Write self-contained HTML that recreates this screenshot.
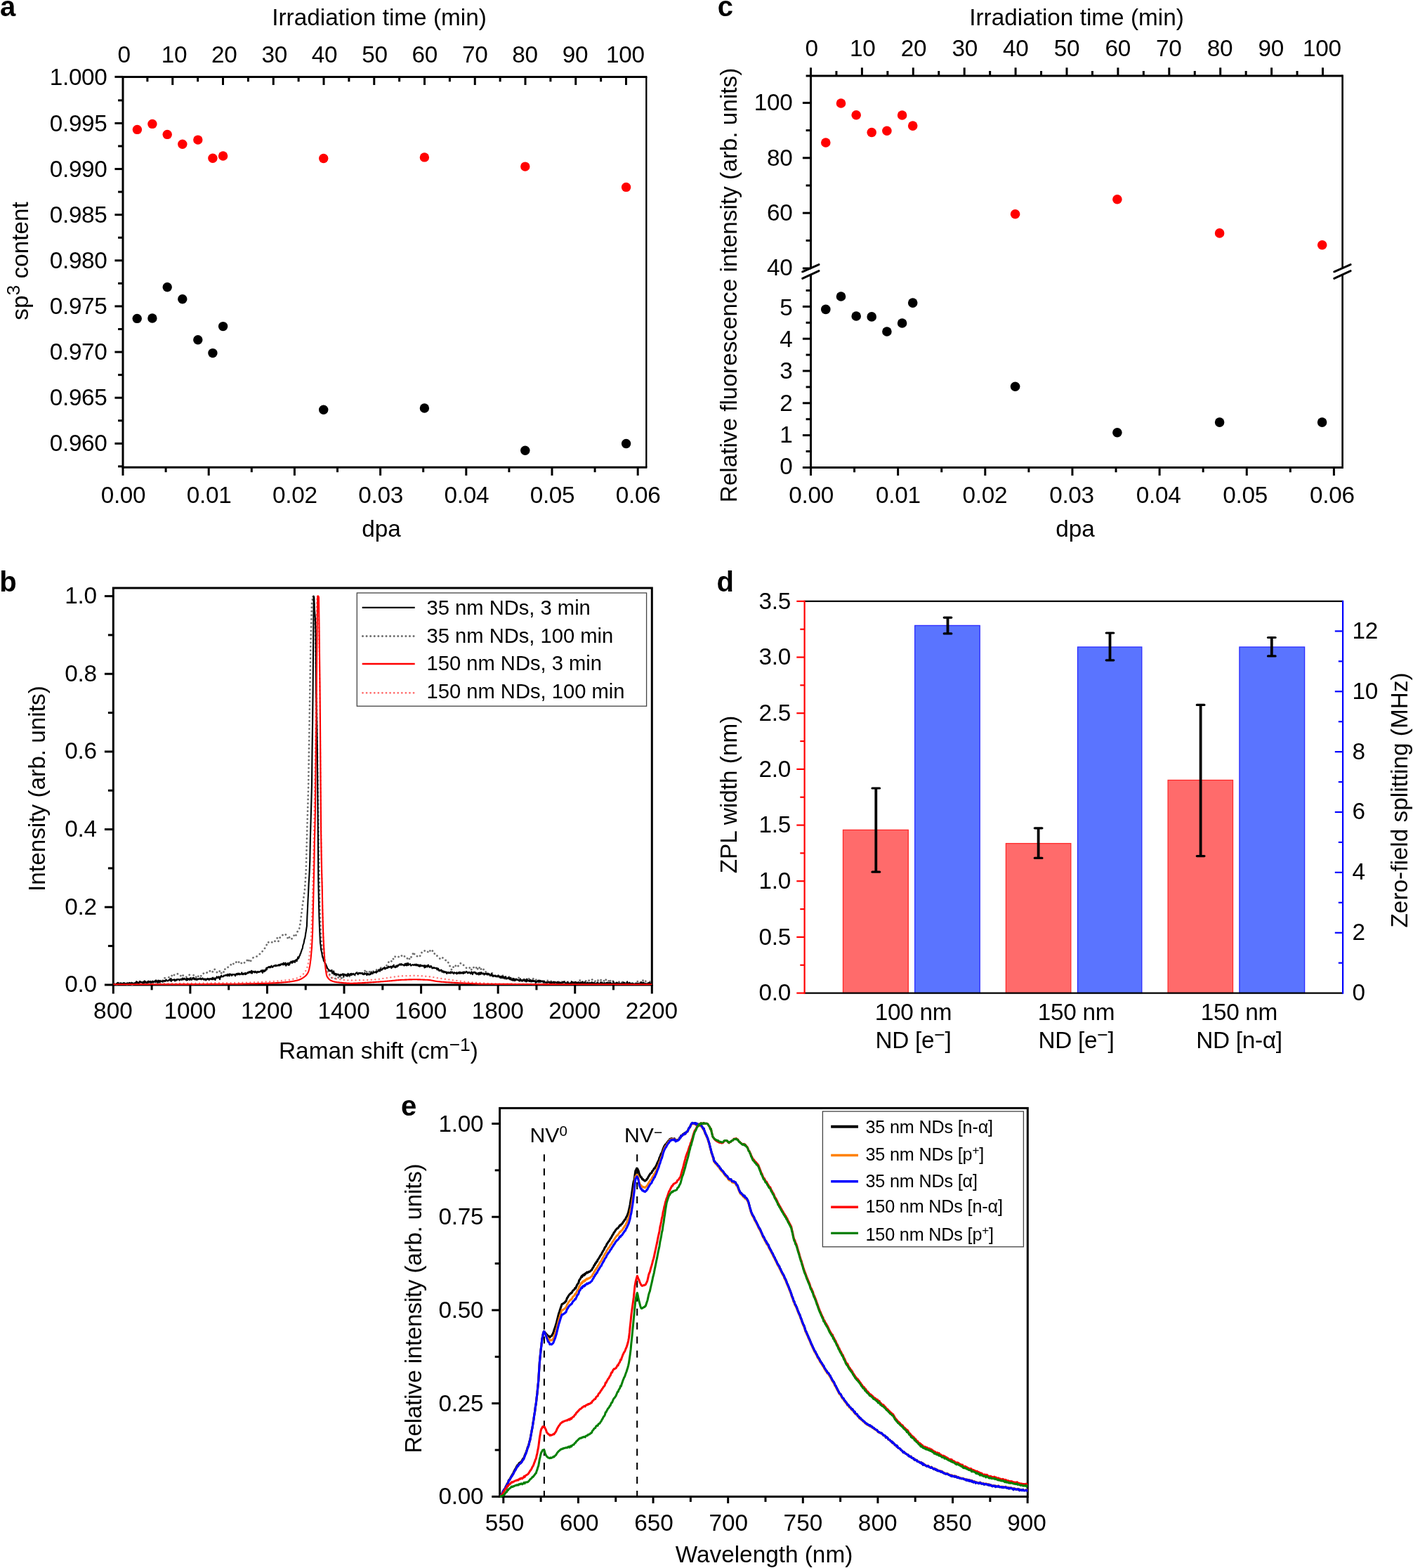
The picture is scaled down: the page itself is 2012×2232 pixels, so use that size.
<!DOCTYPE html>
<html lang="en"><head><meta charset="utf-8"><title>Nanodiamond irradiation figure</title>
<style>
html,body{margin:0;padding:0;background:#fff;}
body{width:2012px;height:2232px;overflow:hidden;}
svg{display:block;font-family:'Liberation Sans', Arial, Helvetica, sans-serif;}
</style></head><body>
<svg width="2012" height="2232" viewBox="0 0 2012 2232">
<rect x="0" y="0" width="2012" height="2232" fill="#fff"/>
<line x1="175.00" y1="107.90" x2="175.00" y2="666.80" stroke="#000" stroke-width="3" stroke-linecap="butt" />
<line x1="175.00" y1="109.40" x2="921.40" y2="109.40" stroke="#000" stroke-width="3" stroke-linecap="butt" />
<line x1="175.00" y1="665.30" x2="921.40" y2="665.30" stroke="#000" stroke-width="3" stroke-linecap="butt" />
<line x1="920.30" y1="109.40" x2="920.30" y2="665.30" stroke="#000" stroke-width="2.3" stroke-linecap="butt" />
<line x1="163.40" y1="109.40" x2="175.00" y2="109.40" stroke="#000" stroke-width="3" stroke-linecap="butt" />
<text x="152.60" y="121.40" font-size="33.33" text-anchor="end" fill="#000" letter-spacing="-0.3">1.000</text>
<line x1="168.10" y1="142.87" x2="175.00" y2="142.87" stroke="#000" stroke-width="3" stroke-linecap="butt" />
<line x1="163.40" y1="175.43" x2="175.00" y2="175.43" stroke="#000" stroke-width="3" stroke-linecap="butt" />
<text x="152.60" y="186.53" font-size="33.33" text-anchor="end" fill="#000" letter-spacing="-0.3">0.995</text>
<line x1="168.10" y1="208.00" x2="175.00" y2="208.00" stroke="#000" stroke-width="3" stroke-linecap="butt" />
<line x1="163.40" y1="240.56" x2="175.00" y2="240.56" stroke="#000" stroke-width="3" stroke-linecap="butt" />
<text x="152.60" y="251.66" font-size="33.33" text-anchor="end" fill="#000" letter-spacing="-0.3">0.990</text>
<line x1="168.10" y1="273.12" x2="175.00" y2="273.12" stroke="#000" stroke-width="3" stroke-linecap="butt" />
<line x1="163.40" y1="305.69" x2="175.00" y2="305.69" stroke="#000" stroke-width="3" stroke-linecap="butt" />
<text x="152.60" y="316.79" font-size="33.33" text-anchor="end" fill="#000" letter-spacing="-0.3">0.985</text>
<line x1="168.10" y1="338.25" x2="175.00" y2="338.25" stroke="#000" stroke-width="3" stroke-linecap="butt" />
<line x1="163.40" y1="370.82" x2="175.00" y2="370.82" stroke="#000" stroke-width="3" stroke-linecap="butt" />
<text x="152.60" y="381.92" font-size="33.33" text-anchor="end" fill="#000" letter-spacing="-0.3">0.980</text>
<line x1="168.10" y1="403.38" x2="175.00" y2="403.38" stroke="#000" stroke-width="3" stroke-linecap="butt" />
<line x1="163.40" y1="435.95" x2="175.00" y2="435.95" stroke="#000" stroke-width="3" stroke-linecap="butt" />
<text x="152.60" y="447.05" font-size="33.33" text-anchor="end" fill="#000" letter-spacing="-0.3">0.975</text>
<line x1="168.10" y1="468.51" x2="175.00" y2="468.51" stroke="#000" stroke-width="3" stroke-linecap="butt" />
<line x1="163.40" y1="501.08" x2="175.00" y2="501.08" stroke="#000" stroke-width="3" stroke-linecap="butt" />
<text x="152.60" y="512.18" font-size="33.33" text-anchor="end" fill="#000" letter-spacing="-0.3">0.970</text>
<line x1="168.10" y1="533.64" x2="175.00" y2="533.64" stroke="#000" stroke-width="3" stroke-linecap="butt" />
<line x1="163.40" y1="566.21" x2="175.00" y2="566.21" stroke="#000" stroke-width="3" stroke-linecap="butt" />
<text x="152.60" y="577.31" font-size="33.33" text-anchor="end" fill="#000" letter-spacing="-0.3">0.965</text>
<line x1="168.10" y1="598.77" x2="175.00" y2="598.77" stroke="#000" stroke-width="3" stroke-linecap="butt" />
<line x1="163.40" y1="631.34" x2="175.00" y2="631.34" stroke="#000" stroke-width="3" stroke-linecap="butt" />
<text x="152.60" y="642.44" font-size="33.33" text-anchor="end" fill="#000" letter-spacing="-0.3">0.960</text>
<line x1="168.10" y1="663.90" x2="175.00" y2="663.90" stroke="#000" stroke-width="3" stroke-linecap="butt" />
<line x1="175.00" y1="665.30" x2="175.00" y2="676.90" stroke="#000" stroke-width="3" stroke-linecap="butt" />
<text x="175.50" y="716.30" font-size="33.33" text-anchor="middle" fill="#000" letter-spacing="-0.3">0.00</text>
<line x1="236.10" y1="665.30" x2="236.10" y2="672.20" stroke="#000" stroke-width="3" stroke-linecap="butt" />
<line x1="297.20" y1="665.30" x2="297.20" y2="676.90" stroke="#000" stroke-width="3" stroke-linecap="butt" />
<text x="297.70" y="716.30" font-size="33.33" text-anchor="middle" fill="#000" letter-spacing="-0.3">0.01</text>
<line x1="358.30" y1="665.30" x2="358.30" y2="672.20" stroke="#000" stroke-width="3" stroke-linecap="butt" />
<line x1="419.40" y1="665.30" x2="419.40" y2="676.90" stroke="#000" stroke-width="3" stroke-linecap="butt" />
<text x="419.90" y="716.30" font-size="33.33" text-anchor="middle" fill="#000" letter-spacing="-0.3">0.02</text>
<line x1="480.50" y1="665.30" x2="480.50" y2="672.20" stroke="#000" stroke-width="3" stroke-linecap="butt" />
<line x1="541.60" y1="665.30" x2="541.60" y2="676.90" stroke="#000" stroke-width="3" stroke-linecap="butt" />
<text x="542.10" y="716.30" font-size="33.33" text-anchor="middle" fill="#000" letter-spacing="-0.3">0.03</text>
<line x1="602.70" y1="665.30" x2="602.70" y2="672.20" stroke="#000" stroke-width="3" stroke-linecap="butt" />
<line x1="663.80" y1="665.30" x2="663.80" y2="676.90" stroke="#000" stroke-width="3" stroke-linecap="butt" />
<text x="664.30" y="716.30" font-size="33.33" text-anchor="middle" fill="#000" letter-spacing="-0.3">0.04</text>
<line x1="724.90" y1="665.30" x2="724.90" y2="672.20" stroke="#000" stroke-width="3" stroke-linecap="butt" />
<line x1="786.00" y1="665.30" x2="786.00" y2="676.90" stroke="#000" stroke-width="3" stroke-linecap="butt" />
<text x="786.50" y="716.30" font-size="33.33" text-anchor="middle" fill="#000" letter-spacing="-0.3">0.05</text>
<line x1="847.10" y1="665.30" x2="847.10" y2="672.20" stroke="#000" stroke-width="3" stroke-linecap="butt" />
<line x1="908.20" y1="665.30" x2="908.20" y2="676.90" stroke="#000" stroke-width="3" stroke-linecap="butt" />
<text x="908.70" y="716.30" font-size="33.33" text-anchor="middle" fill="#000" letter-spacing="-0.3">0.06</text>
<text x="176.60" y="89.10" font-size="33.33" text-anchor="middle" fill="#000" letter-spacing="-0.3">0</text>
<line x1="209.88" y1="109.40" x2="209.88" y2="116.30" stroke="#000" stroke-width="3" stroke-linecap="butt" />
<line x1="245.75" y1="109.40" x2="245.75" y2="121.00" stroke="#000" stroke-width="3" stroke-linecap="butt" />
<text x="247.97" y="89.10" font-size="33.33" text-anchor="middle" fill="#000" letter-spacing="-0.3">10</text>
<line x1="281.62" y1="109.40" x2="281.62" y2="116.30" stroke="#000" stroke-width="3" stroke-linecap="butt" />
<line x1="317.50" y1="109.40" x2="317.50" y2="121.00" stroke="#000" stroke-width="3" stroke-linecap="butt" />
<text x="319.34" y="89.10" font-size="33.33" text-anchor="middle" fill="#000" letter-spacing="-0.3">20</text>
<line x1="353.38" y1="109.40" x2="353.38" y2="116.30" stroke="#000" stroke-width="3" stroke-linecap="butt" />
<line x1="389.25" y1="109.40" x2="389.25" y2="121.00" stroke="#000" stroke-width="3" stroke-linecap="butt" />
<text x="390.71" y="89.10" font-size="33.33" text-anchor="middle" fill="#000" letter-spacing="-0.3">30</text>
<line x1="425.12" y1="109.40" x2="425.12" y2="116.30" stroke="#000" stroke-width="3" stroke-linecap="butt" />
<line x1="461.00" y1="109.40" x2="461.00" y2="121.00" stroke="#000" stroke-width="3" stroke-linecap="butt" />
<text x="462.08" y="89.10" font-size="33.33" text-anchor="middle" fill="#000" letter-spacing="-0.3">40</text>
<line x1="496.88" y1="109.40" x2="496.88" y2="116.30" stroke="#000" stroke-width="3" stroke-linecap="butt" />
<line x1="532.75" y1="109.40" x2="532.75" y2="121.00" stroke="#000" stroke-width="3" stroke-linecap="butt" />
<text x="533.45" y="89.10" font-size="33.33" text-anchor="middle" fill="#000" letter-spacing="-0.3">50</text>
<line x1="568.62" y1="109.40" x2="568.62" y2="116.30" stroke="#000" stroke-width="3" stroke-linecap="butt" />
<line x1="604.50" y1="109.40" x2="604.50" y2="121.00" stroke="#000" stroke-width="3" stroke-linecap="butt" />
<text x="604.82" y="89.10" font-size="33.33" text-anchor="middle" fill="#000" letter-spacing="-0.3">60</text>
<line x1="640.38" y1="109.40" x2="640.38" y2="116.30" stroke="#000" stroke-width="3" stroke-linecap="butt" />
<line x1="676.25" y1="109.40" x2="676.25" y2="121.00" stroke="#000" stroke-width="3" stroke-linecap="butt" />
<text x="676.19" y="89.10" font-size="33.33" text-anchor="middle" fill="#000" letter-spacing="-0.3">70</text>
<line x1="712.12" y1="109.40" x2="712.12" y2="116.30" stroke="#000" stroke-width="3" stroke-linecap="butt" />
<line x1="748.00" y1="109.40" x2="748.00" y2="121.00" stroke="#000" stroke-width="3" stroke-linecap="butt" />
<text x="747.56" y="89.10" font-size="33.33" text-anchor="middle" fill="#000" letter-spacing="-0.3">80</text>
<line x1="783.88" y1="109.40" x2="783.88" y2="116.30" stroke="#000" stroke-width="3" stroke-linecap="butt" />
<line x1="819.75" y1="109.40" x2="819.75" y2="121.00" stroke="#000" stroke-width="3" stroke-linecap="butt" />
<text x="818.93" y="89.10" font-size="33.33" text-anchor="middle" fill="#000" letter-spacing="-0.3">90</text>
<line x1="855.62" y1="109.40" x2="855.62" y2="116.30" stroke="#000" stroke-width="3" stroke-linecap="butt" />
<line x1="891.50" y1="109.40" x2="891.50" y2="121.00" stroke="#000" stroke-width="3" stroke-linecap="butt" />
<text x="890.30" y="89.10" font-size="33.33" text-anchor="middle" fill="#000" letter-spacing="-0.3">100</text>
<text x="540.00" y="36.00" font-size="33.33" text-anchor="middle" fill="#000">Irradiation time (min)</text>
<text x="543.00" y="763.80" font-size="33.33" text-anchor="middle" fill="#000">dpa</text>
<text x="40.00" y="371.50" font-size="33.33" text-anchor="middle" fill="#000" transform="rotate(-90 40.00 371.50)">sp<tspan font-size="26.5" dy="-12">3</tspan><tspan dy="12" font-size="1">&#8203;</tspan> content</text>
<text x="0.00" y="23.10" font-size="40" text-anchor="start" fill="#000" font-weight="bold">a</text>
<circle cx="195.40" cy="184.40" r="6.7" fill="#ff0000"/>
<circle cx="216.90" cy="176.40" r="6.7" fill="#ff0000"/>
<circle cx="238.20" cy="191.40" r="6.7" fill="#ff0000"/>
<circle cx="259.80" cy="205.30" r="6.7" fill="#ff0000"/>
<circle cx="281.80" cy="199.10" r="6.7" fill="#ff0000"/>
<circle cx="302.90" cy="225.30" r="6.7" fill="#ff0000"/>
<circle cx="317.60" cy="222.00" r="6.7" fill="#ff0000"/>
<circle cx="460.70" cy="225.50" r="6.7" fill="#ff0000"/>
<circle cx="604.40" cy="223.90" r="6.7" fill="#ff0000"/>
<circle cx="747.80" cy="237.10" r="6.7" fill="#ff0000"/>
<circle cx="891.60" cy="266.40" r="6.7" fill="#ff0000"/>
<circle cx="195.20" cy="453.40" r="6.7" fill="#000"/>
<circle cx="216.90" cy="453.00" r="6.7" fill="#000"/>
<circle cx="238.20" cy="408.80" r="6.7" fill="#000"/>
<circle cx="259.80" cy="425.70" r="6.7" fill="#000"/>
<circle cx="281.80" cy="483.70" r="6.7" fill="#000"/>
<circle cx="302.90" cy="502.60" r="6.7" fill="#000"/>
<circle cx="317.60" cy="464.60" r="6.7" fill="#000"/>
<circle cx="460.70" cy="583.30" r="6.7" fill="#000"/>
<circle cx="604.40" cy="581.00" r="6.7" fill="#000"/>
<circle cx="747.80" cy="641.30" r="6.7" fill="#000"/>
<circle cx="891.60" cy="631.50" r="6.7" fill="#000"/>
<line x1="1154.50" y1="106.40" x2="1154.50" y2="381.50" stroke="#000" stroke-width="3" stroke-linecap="butt" />
<line x1="1154.50" y1="391.00" x2="1154.50" y2="665.40" stroke="#000" stroke-width="3" stroke-linecap="butt" />
<line x1="1911.60" y1="106.40" x2="1911.60" y2="381.50" stroke="#000" stroke-width="2.6" stroke-linecap="butt" />
<line x1="1911.60" y1="391.00" x2="1911.60" y2="666.90" stroke="#000" stroke-width="2.6" stroke-linecap="butt" />
<line x1="1147.60" y1="107.90" x2="1911.60" y2="107.90" stroke="#000" stroke-width="3" stroke-linecap="butt" />
<line x1="1142.90" y1="665.40" x2="1911.60" y2="665.40" stroke="#000" stroke-width="3" stroke-linecap="butt" />
<line x1="1142.70" y1="386.80" x2="1166.00" y2="376.60" stroke="#000" stroke-width="3" stroke-linecap="round" />
<line x1="1142.70" y1="396.40" x2="1166.00" y2="385.60" stroke="#000" stroke-width="3" stroke-linecap="round" />
<line x1="1899.80" y1="386.80" x2="1923.10" y2="376.60" stroke="#000" stroke-width="3" stroke-linecap="round" />
<line x1="1899.80" y1="396.40" x2="1923.10" y2="385.60" stroke="#000" stroke-width="3" stroke-linecap="round" />
<line x1="1142.90" y1="146.40" x2="1154.50" y2="146.40" stroke="#000" stroke-width="3" stroke-linecap="butt" />
<text x="1128.50" y="157.40" font-size="33.33" text-anchor="end" fill="#000" letter-spacing="-0.3">100</text>
<line x1="1142.90" y1="224.80" x2="1154.50" y2="224.80" stroke="#000" stroke-width="3" stroke-linecap="butt" />
<text x="1128.50" y="235.70" font-size="33.33" text-anchor="end" fill="#000" letter-spacing="-0.3">80</text>
<line x1="1142.90" y1="303.20" x2="1154.50" y2="303.20" stroke="#000" stroke-width="3" stroke-linecap="butt" />
<text x="1128.50" y="314.00" font-size="33.33" text-anchor="end" fill="#000" letter-spacing="-0.3">60</text>
<line x1="1147.60" y1="185.60" x2="1154.50" y2="185.60" stroke="#000" stroke-width="3" stroke-linecap="butt" />
<line x1="1147.60" y1="264.00" x2="1154.50" y2="264.00" stroke="#000" stroke-width="3" stroke-linecap="butt" />
<line x1="1147.60" y1="342.40" x2="1154.50" y2="342.40" stroke="#000" stroke-width="3" stroke-linecap="butt" />
<line x1="1142.90" y1="382.00" x2="1154.50" y2="382.00" stroke="#000" stroke-width="3" stroke-linecap="butt" />
<text x="1128.50" y="391.80" font-size="33.33" text-anchor="end" fill="#000" letter-spacing="-0.3">40</text>
<text x="1128.50" y="674.70" font-size="33.33" text-anchor="end" fill="#000" letter-spacing="-0.3">0</text>
<line x1="1147.60" y1="642.50" x2="1154.50" y2="642.50" stroke="#000" stroke-width="3" stroke-linecap="butt" />
<line x1="1142.90" y1="619.60" x2="1154.50" y2="619.60" stroke="#000" stroke-width="3" stroke-linecap="butt" />
<text x="1128.50" y="629.60" font-size="33.33" text-anchor="end" fill="#000" letter-spacing="-0.3">1</text>
<line x1="1147.60" y1="596.70" x2="1154.50" y2="596.70" stroke="#000" stroke-width="3" stroke-linecap="butt" />
<line x1="1142.90" y1="573.80" x2="1154.50" y2="573.80" stroke="#000" stroke-width="3" stroke-linecap="butt" />
<text x="1128.50" y="584.50" font-size="33.33" text-anchor="end" fill="#000" letter-spacing="-0.3">2</text>
<line x1="1147.60" y1="550.90" x2="1154.50" y2="550.90" stroke="#000" stroke-width="3" stroke-linecap="butt" />
<line x1="1142.90" y1="528.00" x2="1154.50" y2="528.00" stroke="#000" stroke-width="3" stroke-linecap="butt" />
<text x="1128.50" y="539.40" font-size="33.33" text-anchor="end" fill="#000" letter-spacing="-0.3">3</text>
<line x1="1147.60" y1="505.10" x2="1154.50" y2="505.10" stroke="#000" stroke-width="3" stroke-linecap="butt" />
<line x1="1142.90" y1="482.20" x2="1154.50" y2="482.20" stroke="#000" stroke-width="3" stroke-linecap="butt" />
<text x="1128.50" y="494.30" font-size="33.33" text-anchor="end" fill="#000" letter-spacing="-0.3">4</text>
<line x1="1147.60" y1="459.30" x2="1154.50" y2="459.30" stroke="#000" stroke-width="3" stroke-linecap="butt" />
<line x1="1142.90" y1="436.40" x2="1154.50" y2="436.40" stroke="#000" stroke-width="3" stroke-linecap="butt" />
<text x="1128.50" y="449.20" font-size="33.33" text-anchor="end" fill="#000" letter-spacing="-0.3">5</text>
<line x1="1147.60" y1="413.50" x2="1154.50" y2="413.50" stroke="#000" stroke-width="3" stroke-linecap="butt" />
<line x1="1154.50" y1="665.40" x2="1154.50" y2="677.00" stroke="#000" stroke-width="3" stroke-linecap="butt" />
<text x="1155.20" y="715.90" font-size="33.33" text-anchor="middle" fill="#000" letter-spacing="-0.3">0.00</text>
<line x1="1216.58" y1="665.40" x2="1216.58" y2="672.30" stroke="#000" stroke-width="3" stroke-linecap="butt" />
<line x1="1278.65" y1="665.40" x2="1278.65" y2="677.00" stroke="#000" stroke-width="3" stroke-linecap="butt" />
<text x="1278.80" y="715.90" font-size="33.33" text-anchor="middle" fill="#000" letter-spacing="-0.3">0.01</text>
<line x1="1340.73" y1="665.40" x2="1340.73" y2="672.30" stroke="#000" stroke-width="3" stroke-linecap="butt" />
<line x1="1402.80" y1="665.40" x2="1402.80" y2="677.00" stroke="#000" stroke-width="3" stroke-linecap="butt" />
<text x="1402.40" y="715.90" font-size="33.33" text-anchor="middle" fill="#000" letter-spacing="-0.3">0.02</text>
<line x1="1464.88" y1="665.40" x2="1464.88" y2="672.30" stroke="#000" stroke-width="3" stroke-linecap="butt" />
<line x1="1526.95" y1="665.40" x2="1526.95" y2="677.00" stroke="#000" stroke-width="3" stroke-linecap="butt" />
<text x="1526.00" y="715.90" font-size="33.33" text-anchor="middle" fill="#000" letter-spacing="-0.3">0.03</text>
<line x1="1589.03" y1="665.40" x2="1589.03" y2="672.30" stroke="#000" stroke-width="3" stroke-linecap="butt" />
<line x1="1651.10" y1="665.40" x2="1651.10" y2="677.00" stroke="#000" stroke-width="3" stroke-linecap="butt" />
<text x="1649.60" y="715.90" font-size="33.33" text-anchor="middle" fill="#000" letter-spacing="-0.3">0.04</text>
<line x1="1713.17" y1="665.40" x2="1713.17" y2="672.30" stroke="#000" stroke-width="3" stroke-linecap="butt" />
<line x1="1775.25" y1="665.40" x2="1775.25" y2="677.00" stroke="#000" stroke-width="3" stroke-linecap="butt" />
<text x="1773.20" y="715.90" font-size="33.33" text-anchor="middle" fill="#000" letter-spacing="-0.3">0.05</text>
<line x1="1837.33" y1="665.40" x2="1837.33" y2="672.30" stroke="#000" stroke-width="3" stroke-linecap="butt" />
<line x1="1899.40" y1="665.40" x2="1899.40" y2="677.00" stroke="#000" stroke-width="3" stroke-linecap="butt" />
<text x="1896.80" y="715.90" font-size="33.33" text-anchor="middle" fill="#000" letter-spacing="-0.3">0.06</text>
<line x1="1154.50" y1="107.90" x2="1154.50" y2="96.30" stroke="#000" stroke-width="3" stroke-linecap="butt" />
<text x="1155.60" y="80.30" font-size="33.33" text-anchor="middle" fill="#000" letter-spacing="-0.3">0</text>
<line x1="1190.95" y1="107.90" x2="1190.95" y2="101.00" stroke="#000" stroke-width="3" stroke-linecap="butt" />
<line x1="1227.40" y1="107.90" x2="1227.40" y2="96.30" stroke="#000" stroke-width="3" stroke-linecap="butt" />
<text x="1228.28" y="80.30" font-size="33.33" text-anchor="middle" fill="#000" letter-spacing="-0.3">10</text>
<line x1="1263.85" y1="107.90" x2="1263.85" y2="101.00" stroke="#000" stroke-width="3" stroke-linecap="butt" />
<line x1="1300.30" y1="107.90" x2="1300.30" y2="96.30" stroke="#000" stroke-width="3" stroke-linecap="butt" />
<text x="1300.96" y="80.30" font-size="33.33" text-anchor="middle" fill="#000" letter-spacing="-0.3">20</text>
<line x1="1336.75" y1="107.90" x2="1336.75" y2="101.00" stroke="#000" stroke-width="3" stroke-linecap="butt" />
<line x1="1373.20" y1="107.90" x2="1373.20" y2="96.30" stroke="#000" stroke-width="3" stroke-linecap="butt" />
<text x="1373.64" y="80.30" font-size="33.33" text-anchor="middle" fill="#000" letter-spacing="-0.3">30</text>
<line x1="1409.65" y1="107.90" x2="1409.65" y2="101.00" stroke="#000" stroke-width="3" stroke-linecap="butt" />
<line x1="1446.10" y1="107.90" x2="1446.10" y2="96.30" stroke="#000" stroke-width="3" stroke-linecap="butt" />
<text x="1446.32" y="80.30" font-size="33.33" text-anchor="middle" fill="#000" letter-spacing="-0.3">40</text>
<line x1="1482.55" y1="107.90" x2="1482.55" y2="101.00" stroke="#000" stroke-width="3" stroke-linecap="butt" />
<line x1="1519.00" y1="107.90" x2="1519.00" y2="96.30" stroke="#000" stroke-width="3" stroke-linecap="butt" />
<text x="1519.00" y="80.30" font-size="33.33" text-anchor="middle" fill="#000" letter-spacing="-0.3">50</text>
<line x1="1555.45" y1="107.90" x2="1555.45" y2="101.00" stroke="#000" stroke-width="3" stroke-linecap="butt" />
<line x1="1591.90" y1="107.90" x2="1591.90" y2="96.30" stroke="#000" stroke-width="3" stroke-linecap="butt" />
<text x="1591.68" y="80.30" font-size="33.33" text-anchor="middle" fill="#000" letter-spacing="-0.3">60</text>
<line x1="1628.35" y1="107.90" x2="1628.35" y2="101.00" stroke="#000" stroke-width="3" stroke-linecap="butt" />
<line x1="1664.80" y1="107.90" x2="1664.80" y2="96.30" stroke="#000" stroke-width="3" stroke-linecap="butt" />
<text x="1664.36" y="80.30" font-size="33.33" text-anchor="middle" fill="#000" letter-spacing="-0.3">70</text>
<line x1="1701.25" y1="107.90" x2="1701.25" y2="101.00" stroke="#000" stroke-width="3" stroke-linecap="butt" />
<line x1="1737.70" y1="107.90" x2="1737.70" y2="96.30" stroke="#000" stroke-width="3" stroke-linecap="butt" />
<text x="1737.04" y="80.30" font-size="33.33" text-anchor="middle" fill="#000" letter-spacing="-0.3">80</text>
<line x1="1774.15" y1="107.90" x2="1774.15" y2="101.00" stroke="#000" stroke-width="3" stroke-linecap="butt" />
<line x1="1810.60" y1="107.90" x2="1810.60" y2="96.30" stroke="#000" stroke-width="3" stroke-linecap="butt" />
<text x="1809.72" y="80.30" font-size="33.33" text-anchor="middle" fill="#000" letter-spacing="-0.3">90</text>
<line x1="1847.05" y1="107.90" x2="1847.05" y2="101.00" stroke="#000" stroke-width="3" stroke-linecap="butt" />
<line x1="1883.50" y1="107.90" x2="1883.50" y2="96.30" stroke="#000" stroke-width="3" stroke-linecap="butt" />
<text x="1882.40" y="80.30" font-size="33.33" text-anchor="middle" fill="#000" letter-spacing="-0.3">100</text>
<text x="1533.00" y="36.00" font-size="33.33" text-anchor="middle" fill="#000">Irradiation time (min)</text>
<text x="1531.00" y="764.00" font-size="33.33" text-anchor="middle" fill="#000">dpa</text>
<text x="1049.00" y="406.00" font-size="33.33" text-anchor="middle" fill="#000" transform="rotate(-90 1049.00 406.00)">Relative fluorescence intensity (arb. units)</text>
<text x="1021.80" y="23.10" font-size="40" text-anchor="start" fill="#000" font-weight="bold">c</text>
<circle cx="1175.80" cy="203.00" r="6.8" fill="#ff0000"/>
<circle cx="1197.50" cy="147.00" r="6.8" fill="#ff0000"/>
<circle cx="1219.20" cy="163.70" r="6.8" fill="#ff0000"/>
<circle cx="1241.20" cy="188.50" r="6.8" fill="#ff0000"/>
<circle cx="1262.90" cy="186.30" r="6.8" fill="#ff0000"/>
<circle cx="1284.60" cy="164.00" r="6.8" fill="#ff0000"/>
<circle cx="1299.70" cy="179.10" r="6.8" fill="#ff0000"/>
<circle cx="1445.60" cy="304.70" r="6.8" fill="#ff0000"/>
<circle cx="1590.90" cy="283.80" r="6.8" fill="#ff0000"/>
<circle cx="1736.60" cy="331.90" r="6.8" fill="#ff0000"/>
<circle cx="1882.70" cy="348.80" r="6.8" fill="#ff0000"/>
<circle cx="1175.80" cy="440.40" r="6.8" fill="#000"/>
<circle cx="1197.50" cy="422.00" r="6.8" fill="#000"/>
<circle cx="1219.20" cy="450.00" r="6.8" fill="#000"/>
<circle cx="1241.20" cy="450.90" r="6.8" fill="#000"/>
<circle cx="1262.90" cy="472.00" r="6.8" fill="#000"/>
<circle cx="1284.60" cy="460.00" r="6.8" fill="#000"/>
<circle cx="1299.70" cy="431.10" r="6.8" fill="#000"/>
<circle cx="1445.60" cy="550.30" r="6.8" fill="#000"/>
<circle cx="1590.90" cy="615.70" r="6.8" fill="#000"/>
<circle cx="1736.60" cy="601.10" r="6.8" fill="#000"/>
<circle cx="1882.60" cy="601.10" r="6.8" fill="#000"/>
<clipPath id="cb"><rect x="161.3" y="837.0" width="767.0" height="566.5000000000001"/></clipPath>
<rect x="161.3" y="837.0" width="767.0" height="564.9000000000001" fill="none" stroke="#000" stroke-width="3"/>
<polyline points="161.3,1401.1 162.9,1400.1 164.6,1401.1 166.2,1401.2 167.9,1401.9 169.5,1401.0 171.2,1399.1 172.8,1400.0 174.4,1399.1 176.1,1400.1 177.7,1399.9 179.4,1400.1 181.0,1401.9 182.7,1399.0 184.3,1399.4 186.0,1399.3 187.6,1401.9 189.2,1401.9 190.9,1401.0 192.5,1400.3 194.2,1399.2 195.8,1399.6 197.5,1398.7 199.1,1400.2 200.7,1398.8 202.4,1398.6 204.0,1399.9 205.7,1396.5 207.3,1398.0 209.0,1397.0 210.6,1399.3 212.3,1399.3 213.9,1398.6 215.5,1398.1 217.2,1396.9 218.8,1397.3 220.5,1398.0 222.1,1398.4 223.8,1397.4 225.4,1394.6 227.0,1396.9 228.7,1394.9 230.3,1394.1 232.0,1396.2 233.6,1393.5 235.3,1391.2 236.9,1395.2 238.5,1392.1 240.2,1391.1 241.8,1391.3 243.5,1388.8 245.1,1389.0 246.8,1390.5 248.4,1387.0 250.1,1387.1 251.7,1386.8 253.3,1386.1 255.0,1387.7 256.6,1388.1 258.3,1390.2 259.9,1387.7 261.6,1389.5 263.2,1389.4 264.8,1390.7 266.5,1390.4 268.1,1389.9 269.8,1387.5 271.4,1392.1 273.1,1391.4 274.7,1389.1 276.4,1387.4 278.0,1388.4 279.6,1391.7 281.3,1392.3 282.9,1388.0 284.6,1389.2 286.2,1389.3 287.9,1386.1 289.5,1385.5 291.1,1386.4 292.8,1385.8 294.4,1384.8 296.1,1382.3 297.7,1382.8 299.4,1382.1 301.0,1381.3 302.6,1383.6 304.3,1379.4 305.9,1379.9 307.6,1380.9 309.2,1384.9 310.9,1383.6 312.5,1382.2 314.2,1386.3 315.8,1384.2 317.4,1382.1 319.1,1384.2 320.7,1378.5 322.4,1378.2 324.0,1377.5 325.7,1375.4 327.3,1373.8 328.9,1373.2 330.6,1370.6 332.2,1372.0 333.9,1371.1 335.5,1368.9 337.2,1370.3 338.8,1371.6 340.4,1369.1 342.1,1368.3 343.7,1371.0 345.4,1372.3 347.0,1370.5 348.7,1370.2 350.3,1369.9 352.0,1366.8 353.6,1369.4 355.2,1365.3 356.9,1367.9 358.5,1366.3 360.2,1363.5 361.8,1362.1 363.5,1361.7 365.1,1361.6 366.7,1360.9 368.4,1359.8 370.0,1357.8 371.7,1357.1 373.3,1354.6 375.0,1352.2 376.6,1350.7 378.3,1347.0 379.9,1344.6 381.5,1340.7 383.2,1342.1 384.8,1342.4 386.5,1341.8 388.1,1340.7 389.8,1338.8 391.4,1339.8 393.0,1338.1 394.7,1335.3 396.3,1340.2 398.0,1336.0 399.6,1332.4 401.3,1331.4 402.9,1330.9 404.5,1331.3 406.2,1329.6 407.8,1331.6 409.5,1335.2 411.1,1332.2 412.8,1335.8 414.4,1337.4 416.1,1335.6 417.7,1333.2 419.3,1330.4 421.0,1332.6 422.6,1328.3 424.3,1324.5 425.9,1323.1 427.6,1314.5 429.2,1301.5 430.8,1288.6 432.5,1276.7 434.1,1264.7 435.8,1238.0 437.4,1176.7 439.1,1121.1 440.7,1020.4 442.4,917.1 444.0,859.7 445.6,848.6 447.3,859.2 448.9,893.7 450.6,978.3 452.2,1087.4 453.9,1208.6 455.5,1297.0 457.1,1333.7 458.8,1350.5 460.4,1364.3 462.1,1365.2 463.7,1374.7 465.4,1377.1 467.0,1384.6 468.6,1386.5 470.3,1388.6 471.9,1391.8 473.6,1391.9 475.2,1391.5 476.9,1392.7 478.5,1393.2 480.2,1390.9 481.8,1391.5 483.4,1393.1 485.1,1388.6 486.7,1393.7 488.4,1390.6 490.0,1391.6 491.7,1390.4 493.3,1388.9 494.9,1389.1 496.6,1388.0 498.2,1390.5 499.9,1390.0 501.5,1386.7 503.2,1388.4 504.8,1388.1 506.4,1388.3 508.1,1384.2 509.7,1384.6 511.4,1383.3 513.0,1386.4 514.7,1384.9 516.3,1386.2 518.0,1383.4 519.6,1382.0 521.2,1385.2 522.9,1381.6 524.5,1382.1 526.2,1383.4 527.8,1385.7 529.5,1380.7 531.1,1382.5 532.7,1382.9 534.4,1381.2 536.0,1380.8 537.7,1378.9 539.3,1382.0 541.0,1378.5 542.6,1377.4 544.3,1376.8 545.9,1378.2 547.5,1378.1 549.2,1374.6 550.8,1374.2 552.5,1371.9 554.1,1367.6 555.8,1367.5 557.4,1368.2 559.0,1364.2 560.7,1365.6 562.3,1361.7 564.0,1362.1 565.6,1363.2 567.3,1362.2 568.9,1361.0 570.5,1362.0 572.2,1360.3 573.8,1362.5 575.5,1361.5 577.1,1361.4 578.8,1361.8 580.4,1365.3 582.1,1363.3 583.7,1366.1 585.3,1362.5 587.0,1361.1 588.6,1355.2 590.3,1358.6 591.9,1358.6 593.6,1360.9 595.2,1362.0 596.8,1362.6 598.5,1360.0 600.1,1355.9 601.8,1356.4 603.4,1354.3 605.1,1353.2 606.7,1354.5 608.4,1355.6 610.0,1354.4 611.6,1351.9 613.3,1355.5 614.9,1354.0 616.6,1353.2 618.2,1356.4 619.9,1360.0 621.5,1359.8 623.1,1361.3 624.8,1363.6 626.4,1364.6 628.1,1363.8 629.7,1362.3 631.4,1365.0 633.0,1366.2 634.6,1366.9 636.3,1369.0 637.9,1369.0 639.6,1374.3 641.2,1375.6 642.9,1380.2 644.5,1376.2 646.2,1376.8 647.8,1377.7 649.4,1373.1 651.1,1373.5 652.7,1375.4 654.4,1372.9 656.0,1371.1 657.7,1372.8 659.3,1372.8 660.9,1374.9 662.6,1376.7 664.2,1377.9 665.9,1376.5 667.5,1377.5 669.2,1377.8 670.8,1381.3 672.5,1377.1 674.1,1376.6 675.7,1378.8 677.4,1379.0 679.0,1375.7 680.7,1380.8 682.3,1378.0 684.0,1376.0 685.6,1381.6 687.2,1380.5 688.9,1379.9 690.5,1383.6 692.2,1383.3 693.8,1383.3 695.5,1386.2 697.1,1385.4 698.7,1385.2 700.4,1384.8 702.0,1386.4 703.7,1387.1 705.3,1388.7 707.0,1388.4 708.6,1387.3 710.3,1389.1 711.9,1391.0 713.5,1391.6 715.2,1387.4 716.8,1390.0 718.5,1391.1 720.1,1395.8 721.8,1391.6 723.4,1392.0 725.0,1390.6 726.7,1392.5 728.3,1393.3 730.0,1392.6 731.6,1396.2 733.3,1392.2 734.9,1393.3 736.5,1394.8 738.2,1392.1 739.8,1391.5 741.5,1396.0 743.1,1395.1 744.8,1393.8 746.4,1394.0 748.1,1394.9 749.7,1395.8 751.3,1391.6 753.0,1393.1 754.6,1396.3 756.3,1396.6 757.9,1392.4 759.6,1393.5 761.2,1392.4 762.8,1393.9 764.5,1396.4 766.1,1394.9 767.8,1398.4 769.4,1396.6 771.1,1395.8 772.7,1395.1 774.4,1397.0 776.0,1396.3 777.6,1395.6 779.3,1395.9 780.9,1395.7 782.6,1396.4 784.2,1397.3 785.9,1395.9 787.5,1397.0 789.1,1398.3 790.8,1398.1 792.4,1397.4 794.1,1397.6 795.7,1397.3 797.4,1397.6 799.0,1397.4 800.6,1397.8 802.3,1399.4 803.9,1397.1 805.6,1396.2 807.2,1397.0 808.9,1397.8 810.5,1396.9 812.2,1398.9 813.8,1400.1 815.4,1397.4 817.1,1398.7 818.7,1396.3 820.4,1398.8 822.0,1400.9 823.7,1398.6 825.3,1395.0 826.9,1397.6 828.6,1398.9 830.2,1398.0 831.9,1396.2 833.5,1396.2 835.2,1396.6 836.8,1394.7 838.5,1395.7 840.1,1396.7 841.7,1395.8 843.4,1394.3 845.0,1395.2 846.7,1395.1 848.3,1398.0 850.0,1396.6 851.6,1395.4 853.2,1396.8 854.9,1394.9 856.5,1395.5 858.2,1395.1 859.8,1396.7 861.5,1393.0 863.1,1395.0 864.7,1397.2 866.4,1397.0 868.0,1393.8 869.7,1398.1 871.3,1396.6 873.0,1396.7 874.6,1398.3 876.3,1400.2 877.9,1398.5 879.5,1398.4 881.2,1397.5 882.8,1398.0 884.5,1399.1 886.1,1397.9 887.8,1398.3 889.4,1398.8 891.0,1398.9 892.7,1399.2 894.3,1397.9 896.0,1400.2 897.6,1399.5 899.3,1398.5 900.9,1400.4 902.6,1398.9 904.2,1400.9 905.8,1399.0 907.5,1397.2 909.1,1397.1 910.8,1397.9 912.4,1398.1 914.1,1399.6 915.7,1395.1 917.3,1396.9 919.0,1396.2 920.6,1399.1 922.3,1398.3 923.9,1400.8 925.6,1397.4 927.2,1397.3" fill="none" stroke="#6e6e6e" stroke-width="2.8" stroke-linejoin="round" stroke-linecap="round" stroke-dasharray="0.01 5.57" clip-path="url(#cb)"/>
<polyline points="161.3,1400.2 161.8,1400.2 162.4,1400.2 162.9,1400.2 163.5,1400.2 164.0,1400.2 164.6,1400.2 165.1,1400.2 165.7,1400.2 166.2,1400.2 166.8,1400.2 167.3,1400.2 167.9,1400.2 168.4,1400.2 169.0,1400.2 169.5,1400.2 170.1,1400.2 170.6,1400.2 171.2,1400.2 171.7,1400.2 172.3,1400.2 172.8,1400.2 173.4,1400.2 173.9,1400.2 174.4,1400.2 175.0,1400.2 175.5,1400.2 176.1,1400.2 176.6,1400.2 177.2,1400.2 177.7,1400.2 178.3,1400.2 178.8,1400.2 179.4,1400.2 179.9,1400.2 180.5,1400.2 181.0,1400.2 181.6,1400.2 182.1,1400.2 182.7,1400.2 183.2,1400.2 183.8,1400.2 184.3,1400.2 184.9,1400.2 185.4,1400.2 186.0,1400.2 186.5,1400.2 187.0,1400.2 187.6,1400.2 188.1,1400.2 188.7,1400.2 189.2,1400.2 189.8,1400.2 190.3,1400.2 190.9,1400.2 191.4,1400.2 192.0,1400.2 192.5,1400.2 193.1,1400.2 193.6,1400.2 194.2,1400.2 194.7,1400.2 195.3,1400.2 195.8,1400.2 196.4,1400.2 196.9,1400.2 197.5,1400.2 198.0,1400.2 198.6,1400.2 199.1,1400.2 199.7,1400.2 200.2,1400.2 200.7,1400.2 201.3,1400.2 201.8,1400.2 202.4,1400.2 202.9,1400.1 203.5,1400.1 204.0,1400.1 204.6,1400.1 205.1,1400.1 205.7,1400.1 206.2,1400.1 206.8,1400.1 207.3,1400.1 207.9,1400.1 208.4,1400.1 209.0,1400.1 209.5,1400.1 210.1,1400.1 210.6,1400.1 211.2,1400.1 211.7,1400.1 212.3,1400.1 212.8,1400.1 213.3,1400.1 213.9,1400.1 214.4,1400.1 215.0,1400.1 215.5,1400.1 216.1,1400.1 216.6,1400.1 217.2,1400.1 217.7,1400.1 218.3,1400.1 218.8,1400.1 219.4,1400.1 219.9,1400.1 220.5,1400.1 221.0,1400.1 221.6,1400.1 222.1,1400.1 222.7,1400.1 223.2,1400.0 223.8,1400.0 224.3,1400.0 224.9,1400.0 225.4,1400.0 225.9,1400.0 226.5,1400.0 227.0,1400.0 227.6,1400.0 228.1,1400.0 228.7,1400.0 229.2,1400.0 229.8,1400.0 230.3,1400.0 230.9,1400.0 231.4,1400.0 232.0,1400.0 232.5,1400.0 233.1,1400.0 233.6,1400.0 234.2,1400.0 234.7,1400.0 235.3,1400.0 235.8,1400.0 236.4,1400.0 236.9,1400.0 237.5,1400.0 238.0,1400.0 238.5,1399.9 239.1,1399.9 239.6,1399.9 240.2,1399.9 240.7,1399.9 241.3,1399.9 241.8,1399.9 242.4,1399.9 242.9,1399.9 243.5,1399.9 244.0,1399.9 244.6,1399.9 245.1,1399.9 245.7,1399.9 246.2,1399.9 246.8,1399.9 247.3,1399.9 247.9,1399.9 248.4,1399.9 249.0,1399.9 249.5,1399.9 250.1,1399.9 250.6,1399.9 251.1,1399.9 251.7,1399.9 252.2,1399.8 252.8,1399.8 253.3,1399.8 253.9,1399.8 254.4,1399.8 255.0,1399.8 255.5,1399.8 256.1,1399.8 256.6,1399.8 257.2,1399.8 257.7,1399.8 258.3,1399.8 258.8,1399.8 259.4,1399.8 259.9,1399.8 260.5,1399.8 261.0,1399.8 261.6,1399.8 262.1,1399.8 262.7,1399.8 263.2,1399.8 263.7,1399.8 264.3,1399.7 264.8,1399.7 265.4,1399.7 265.9,1399.7 266.5,1399.7 267.0,1399.7 267.6,1399.7 268.1,1399.7 268.7,1399.7 269.2,1399.7 269.8,1399.7 270.3,1399.7 270.9,1399.7 271.4,1399.7 272.0,1399.7 272.5,1399.7 273.1,1399.7 273.6,1399.7 274.2,1399.7 274.7,1399.7 275.3,1399.6 275.8,1399.6 276.4,1399.6 276.9,1399.6 277.4,1399.6 278.0,1399.6 278.5,1399.6 279.1,1399.6 279.6,1399.6 280.2,1399.6 280.7,1399.6 281.3,1399.6 281.8,1399.6 282.4,1399.6 282.9,1399.6 283.5,1399.6 284.0,1399.6 284.6,1399.6 285.1,1399.6 285.7,1399.6 286.2,1399.5 286.8,1399.5 287.3,1399.5 287.9,1399.5 288.4,1399.5 289.0,1399.5 289.5,1399.5 290.0,1399.5 290.6,1399.5 291.1,1399.5 291.7,1399.5 292.2,1399.5 292.8,1399.5 293.3,1399.5 293.9,1399.5 294.4,1399.5 295.0,1399.5 295.5,1399.5 296.1,1399.4 296.6,1399.4 297.2,1399.4 297.7,1399.4 298.3,1399.4 298.8,1399.4 299.4,1399.4 299.9,1399.4 300.5,1399.4 301.0,1399.4 301.6,1399.4 302.1,1399.4 302.6,1399.4 303.2,1399.4 303.7,1399.4 304.3,1399.4 304.8,1399.4 305.4,1399.4 305.9,1399.3 306.5,1399.3 307.0,1399.3 307.6,1399.3 308.1,1399.3 308.7,1399.3 309.2,1399.3 309.8,1399.3 310.3,1399.3 310.9,1399.3 311.4,1399.3 312.0,1399.3 312.5,1399.3 313.1,1399.3 313.6,1399.3 314.2,1399.3 314.7,1399.3 315.2,1399.2 315.8,1399.2 316.3,1399.2 316.9,1399.2 317.4,1399.2 318.0,1399.2 318.5,1399.2 319.1,1399.2 319.6,1399.2 320.2,1399.2 320.7,1399.2 321.3,1399.2 321.8,1399.2 322.4,1399.2 322.9,1399.2 323.5,1399.2 324.0,1399.2 324.6,1399.1 325.1,1399.1 325.7,1399.1 326.2,1399.1 326.8,1399.1 327.3,1399.1 327.8,1399.1 328.4,1399.1 328.9,1399.1 329.5,1399.1 330.0,1399.1 330.6,1399.1 331.1,1399.1 331.7,1399.1 332.2,1399.0 332.8,1399.0 333.3,1399.0 333.9,1399.0 334.4,1399.0 335.0,1399.0 335.5,1399.0 336.1,1399.0 336.6,1399.0 337.2,1398.9 337.7,1398.9 338.3,1398.9 338.8,1398.9 339.4,1398.9 339.9,1398.9 340.4,1398.9 341.0,1398.9 341.5,1398.9 342.1,1398.8 342.6,1398.8 343.2,1398.8 343.7,1398.8 344.3,1398.8 344.8,1398.8 345.4,1398.8 345.9,1398.7 346.5,1398.7 347.0,1398.7 347.6,1398.7 348.1,1398.7 348.7,1398.7 349.2,1398.6 349.8,1398.6 350.3,1398.6 350.9,1398.6 351.4,1398.6 352.0,1398.6 352.5,1398.5 353.1,1398.5 353.6,1398.5 354.1,1398.5 354.7,1398.5 355.2,1398.5 355.8,1398.4 356.3,1398.4 356.9,1398.4 357.4,1398.4 358.0,1398.4 358.5,1398.3 359.1,1398.3 359.6,1398.3 360.2,1398.3 360.7,1398.3 361.3,1398.3 361.8,1398.2 362.4,1398.2 362.9,1398.2 363.5,1398.2 364.0,1398.1 364.6,1398.1 365.1,1398.1 365.7,1398.1 366.2,1398.1 366.7,1398.0 367.3,1398.0 367.8,1398.0 368.4,1398.0 368.9,1398.0 369.5,1397.9 370.0,1397.9 370.6,1397.9 371.1,1397.9 371.7,1397.8 372.2,1397.8 372.8,1397.8 373.3,1397.8 373.9,1397.8 374.4,1397.7 375.0,1397.7 375.5,1397.7 376.1,1397.7 376.6,1397.6 377.2,1397.6 377.7,1397.6 378.3,1397.6 378.8,1397.5 379.3,1397.5 379.9,1397.5 380.4,1397.5 381.0,1397.4 381.5,1397.4 382.1,1397.4 382.6,1397.4 383.2,1397.3 383.7,1397.3 384.3,1397.3 384.8,1397.3 385.4,1397.2 385.9,1397.2 386.5,1397.2 387.0,1397.1 387.6,1397.1 388.1,1397.1 388.7,1397.0 389.2,1397.0 389.8,1396.9 390.3,1396.9 390.9,1396.9 391.4,1396.8 391.9,1396.8 392.5,1396.7 393.0,1396.7 393.6,1396.7 394.1,1396.6 394.7,1396.6 395.2,1396.5 395.8,1396.5 396.3,1396.4 396.9,1396.4 397.4,1396.3 398.0,1396.3 398.5,1396.2 399.1,1396.2 399.6,1396.1 400.2,1396.1 400.7,1396.0 401.3,1396.0 401.8,1395.9 402.4,1395.9 402.9,1395.8 403.5,1395.7 404.0,1395.7 404.5,1395.6 405.1,1395.6 405.6,1395.5 406.2,1395.4 406.7,1395.4 407.3,1395.3 407.8,1395.3 408.4,1395.2 408.9,1395.1 409.5,1395.1 410.0,1395.0 410.6,1394.9 411.1,1394.8 411.7,1394.8 412.2,1394.7 412.8,1394.6 413.3,1394.5 413.9,1394.4 414.4,1394.3 415.0,1394.2 415.5,1394.1 416.1,1394.0 416.6,1393.9 417.1,1393.8 417.7,1393.7 418.2,1393.6 418.8,1393.4 419.3,1393.3 419.9,1393.2 420.4,1393.0 421.0,1392.9 421.5,1392.7 422.1,1392.6 422.6,1392.4 423.2,1392.3 423.7,1392.1 424.3,1391.9 424.8,1391.7 425.4,1391.5 425.9,1391.3 426.5,1391.0 427.0,1390.6 427.6,1390.3 428.1,1389.9 428.7,1389.5 429.2,1389.0 429.8,1388.5 430.3,1388.1 430.8,1387.5 431.4,1387.0 431.9,1386.5 432.5,1385.9 433.0,1385.3 433.6,1384.7 434.1,1383.9 434.7,1383.0 435.2,1382.1 435.8,1381.0 436.3,1379.8 436.9,1378.4 437.4,1377.0 438.0,1375.2 438.5,1372.8 439.1,1370.0 439.6,1366.7 440.2,1363.2 440.7,1359.0 441.3,1353.9 441.8,1348.0 442.4,1341.0 442.9,1332.3 443.4,1321.0 444.0,1307.8 444.5,1291.2 445.1,1270.7 445.6,1246.6 446.2,1219.3 446.7,1191.8 447.3,1164.0 447.8,1137.9 448.4,1109.8 448.9,1074.2 449.5,1029.4 450.0,974.9 450.6,918.2 451.1,859.4 451.7,848.6 452.2,848.6 452.8,848.6 453.3,852.4 453.9,877.3 454.4,913.4 455.0,948.7 455.5,990.8 456.0,1047.4 456.6,1119.7 457.1,1182.6 457.7,1220.8 458.2,1244.3 458.8,1266.3 459.3,1293.1 459.9,1316.1 460.4,1331.5 461.0,1343.5 461.5,1353.3 462.1,1361.7 462.6,1367.6 463.2,1371.5 463.7,1374.9 464.3,1377.8 464.8,1380.2 465.4,1382.0 465.9,1383.3 466.5,1384.4 467.0,1385.4 467.6,1386.4 468.1,1387.3 468.6,1388.1 469.2,1388.8 469.7,1389.5 470.3,1390.0 470.8,1390.5 471.4,1390.8 471.9,1391.1 472.5,1391.4 473.0,1391.7 473.6,1392.0 474.1,1392.2 474.7,1392.4 475.2,1392.6 475.8,1392.8 476.3,1393.0 476.9,1393.1 477.4,1393.3 478.0,1393.4 478.5,1393.5 479.1,1393.6 479.6,1393.7 480.2,1393.8 480.7,1393.8 481.2,1393.9 481.8,1394.0 482.3,1394.1 482.9,1394.1 483.4,1394.2 484.0,1394.3 484.5,1394.4 485.1,1394.4 485.6,1394.5 486.2,1394.6 486.7,1394.6 487.3,1394.7 487.8,1394.7 488.4,1394.8 488.9,1394.9 489.5,1394.9 490.0,1395.0 490.6,1395.0 491.1,1395.1 491.7,1395.1 492.2,1395.2 492.8,1395.2 493.3,1395.2 493.8,1395.3 494.4,1395.3 494.9,1395.3 495.5,1395.4 496.0,1395.4 496.6,1395.4 497.1,1395.4 497.7,1395.5 498.2,1395.5 498.8,1395.5 499.3,1395.5 499.9,1395.5 500.4,1395.5 501.0,1395.5 501.5,1395.5 502.1,1395.5 502.6,1395.5 503.2,1395.5 503.7,1395.5 504.3,1395.5 504.8,1395.5 505.4,1395.5 505.9,1395.4 506.4,1395.4 507.0,1395.4 507.5,1395.4 508.1,1395.4 508.6,1395.4 509.2,1395.4 509.7,1395.4 510.3,1395.4 510.8,1395.4 511.4,1395.4 511.9,1395.3 512.5,1395.3 513.0,1395.3 513.6,1395.3 514.1,1395.3 514.7,1395.3 515.2,1395.3 515.8,1395.3 516.3,1395.2 516.9,1395.2 517.4,1395.2 518.0,1395.2 518.5,1395.2 519.1,1395.2 519.6,1395.1 520.1,1395.1 520.7,1395.1 521.2,1395.1 521.8,1395.1 522.3,1395.0 522.9,1395.0 523.4,1395.0 524.0,1395.0 524.5,1395.0 525.1,1395.0 525.6,1394.9 526.2,1394.9 526.7,1394.9 527.3,1394.9 527.8,1394.9 528.4,1394.8 528.9,1394.8 529.5,1394.8 530.0,1394.7 530.6,1394.7 531.1,1394.6 531.7,1394.6 532.2,1394.6 532.7,1394.5 533.3,1394.5 533.8,1394.4 534.4,1394.3 534.9,1394.3 535.5,1394.2 536.0,1394.2 536.6,1394.1 537.1,1394.0 537.7,1394.0 538.2,1393.9 538.8,1393.8 539.3,1393.7 539.9,1393.7 540.4,1393.6 541.0,1393.5 541.5,1393.4 542.1,1393.4 542.6,1393.3 543.2,1393.2 543.7,1393.1 544.3,1393.0 544.8,1393.0 545.3,1392.9 545.9,1392.8 546.4,1392.7 547.0,1392.6 547.5,1392.5 548.1,1392.5 548.6,1392.4 549.2,1392.3 549.7,1392.2 550.3,1392.1 550.8,1392.1 551.4,1392.0 551.9,1391.9 552.5,1391.8 553.0,1391.8 553.6,1391.7 554.1,1391.6 554.7,1391.6 555.2,1391.5 555.8,1391.4 556.3,1391.3 556.9,1391.3 557.4,1391.2 557.9,1391.1 558.5,1391.0 559.0,1390.9 559.6,1390.8 560.1,1390.7 560.7,1390.7 561.2,1390.6 561.8,1390.5 562.3,1390.4 562.9,1390.3 563.4,1390.2 564.0,1390.1 564.5,1390.1 565.1,1390.0 565.6,1389.9 566.2,1389.8 566.7,1389.8 567.3,1389.7 567.8,1389.7 568.4,1389.6 568.9,1389.5 569.5,1389.5 570.0,1389.5 570.5,1389.4 571.1,1389.4 571.6,1389.4 572.2,1389.3 572.7,1389.3 573.3,1389.3 573.8,1389.3 574.4,1389.2 574.9,1389.2 575.5,1389.2 576.0,1389.2 576.6,1389.2 577.1,1389.1 577.7,1389.1 578.2,1389.1 578.8,1389.1 579.3,1389.1 579.9,1389.0 580.4,1389.0 581.0,1389.0 581.5,1389.0 582.1,1389.0 582.6,1388.9 583.2,1388.9 583.7,1388.9 584.2,1388.9 584.8,1388.9 585.3,1388.9 585.9,1388.9 586.4,1388.9 587.0,1388.9 587.5,1388.9 588.1,1388.9 588.6,1388.8 589.2,1388.8 589.7,1388.8 590.3,1388.8 590.8,1388.8 591.4,1388.8 591.9,1388.9 592.5,1388.9 593.0,1388.9 593.6,1388.9 594.1,1388.9 594.7,1388.9 595.2,1388.9 595.8,1389.0 596.3,1389.0 596.8,1389.0 597.4,1389.0 597.9,1389.1 598.5,1389.1 599.0,1389.1 599.6,1389.2 600.1,1389.2 600.7,1389.2 601.2,1389.3 601.8,1389.3 602.3,1389.4 602.9,1389.4 603.4,1389.4 604.0,1389.5 604.5,1389.5 605.1,1389.6 605.6,1389.6 606.2,1389.7 606.7,1389.7 607.3,1389.8 607.8,1389.8 608.4,1389.9 608.9,1389.9 609.4,1389.9 610.0,1390.0 610.5,1390.1 611.1,1390.1 611.6,1390.2 612.2,1390.3 612.7,1390.3 613.3,1390.4 613.8,1390.5 614.4,1390.6 614.9,1390.7 615.5,1390.8 616.0,1390.9 616.6,1391.0 617.1,1391.1 617.7,1391.2 618.2,1391.3 618.8,1391.4 619.3,1391.5 619.9,1391.6 620.4,1391.7 621.0,1391.8 621.5,1391.9 622.0,1392.0 622.6,1392.1 623.1,1392.2 623.7,1392.2 624.2,1392.3 624.8,1392.4 625.3,1392.5 625.9,1392.6 626.4,1392.7 627.0,1392.7 627.5,1392.8 628.1,1392.9 628.6,1393.0 629.2,1393.1 629.7,1393.1 630.3,1393.2 630.8,1393.3 631.4,1393.4 631.9,1393.4 632.5,1393.5 633.0,1393.6 633.6,1393.7 634.1,1393.8 634.6,1393.8 635.2,1393.9 635.7,1394.0 636.3,1394.1 636.8,1394.1 637.4,1394.2 637.9,1394.3 638.5,1394.4 639.0,1394.4 639.6,1394.5 640.1,1394.6 640.7,1394.7 641.2,1394.7 641.8,1394.8 642.3,1394.9 642.9,1394.9 643.4,1395.0 644.0,1395.1 644.5,1395.2 645.1,1395.2 645.6,1395.3 646.2,1395.4 646.7,1395.5 647.2,1395.5 647.8,1395.6 648.3,1395.7 648.9,1395.8 649.4,1395.8 650.0,1395.9 650.5,1396.0 651.1,1396.1 651.6,1396.1 652.2,1396.2 652.7,1396.3 653.3,1396.4 653.8,1396.4 654.4,1396.5 654.9,1396.6 655.5,1396.7 656.0,1396.7 656.6,1396.8 657.1,1396.9 657.7,1396.9 658.2,1397.0 658.8,1397.1 659.3,1397.1 659.9,1397.2 660.4,1397.2 660.9,1397.3 661.5,1397.4 662.0,1397.4 662.6,1397.5 663.1,1397.5 663.7,1397.6 664.2,1397.6 664.8,1397.7 665.3,1397.7 665.9,1397.8 666.4,1397.8 667.0,1397.9 667.5,1397.9 668.1,1398.0 668.6,1398.0 669.2,1398.1 669.7,1398.1 670.3,1398.2 670.8,1398.2 671.4,1398.3 671.9,1398.3 672.5,1398.4 673.0,1398.4 673.5,1398.5 674.1,1398.5 674.6,1398.6 675.2,1398.6 675.7,1398.6 676.3,1398.7 676.8,1398.7 677.4,1398.8 677.9,1398.8 678.5,1398.8 679.0,1398.9 679.6,1398.9 680.1,1399.0 680.7,1399.0 681.2,1399.0 681.8,1399.1 682.3,1399.1 682.9,1399.2 683.4,1399.2 684.0,1399.2 684.5,1399.3 685.1,1399.3 685.6,1399.3 686.1,1399.4 686.7,1399.4 687.2,1399.4 687.8,1399.5 688.3,1399.5 688.9,1399.5 689.4,1399.6 690.0,1399.6 690.5,1399.6 691.1,1399.7 691.6,1399.7 692.2,1399.7 692.7,1399.7 693.3,1399.8 693.8,1399.8 694.4,1399.8 694.9,1399.9 695.5,1399.9 696.0,1399.9 696.6,1400.0 697.1,1400.0 697.7,1400.0 698.2,1400.0 698.7,1400.1 699.3,1400.1 699.8,1400.1 700.4,1400.2 700.9,1400.2 701.5,1400.2 702.0,1400.2 702.6,1400.3 703.1,1400.3 703.7,1400.3 704.2,1400.4 704.8,1400.4 705.3,1400.4 705.9,1400.4 706.4,1400.5 707.0,1400.5 707.5,1400.5 708.1,1400.5 708.6,1400.6 709.2,1400.6 709.7,1400.6 710.3,1400.6 710.8,1400.6 711.3,1400.7 711.9,1400.7 712.4,1400.7 713.0,1400.7 713.5,1400.7 714.1,1400.7 714.6,1400.7 715.2,1400.8 715.7,1400.8 716.3,1400.8 716.8,1400.8 717.4,1400.8 717.9,1400.8 718.5,1400.8 719.0,1400.8 719.6,1400.8 720.1,1400.8 720.7,1400.8 721.2,1400.8 721.8,1400.8 722.3,1400.8 722.9,1400.8 723.4,1400.8 723.9,1400.8 724.5,1400.8 725.0,1400.8 725.6,1400.8 726.1,1400.8 726.7,1400.8 727.2,1400.8 727.8,1400.8 728.3,1400.8 728.9,1400.8 729.4,1400.8 730.0,1400.8 730.5,1400.8 731.1,1400.8 731.6,1400.8 732.2,1400.8 732.7,1400.8 733.3,1400.8 733.8,1400.8 734.4,1400.8 734.9,1400.8 735.5,1400.8 736.0,1400.8 736.5,1400.8 737.1,1400.8 737.6,1400.8 738.2,1400.8 738.7,1400.8 739.3,1400.8 739.8,1400.8 740.4,1400.8 740.9,1400.8 741.5,1400.8 742.0,1400.8 742.6,1400.8 743.1,1400.8 743.7,1400.8 744.2,1400.8 744.8,1400.8 745.3,1400.8 745.9,1400.8 746.4,1400.8 747.0,1400.8 747.5,1400.8 748.1,1400.8 748.6,1400.8 749.2,1400.8 749.7,1400.8 750.2,1400.8 750.8,1400.8 751.3,1400.8 751.9,1400.8 752.4,1400.8 753.0,1400.8 753.5,1400.8 754.1,1400.8 754.6,1400.8 755.2,1400.8 755.7,1400.8 756.3,1400.8 756.8,1400.8 757.4,1400.8 757.9,1400.8 758.5,1400.8 759.0,1400.8 759.6,1400.8 760.1,1400.8 760.7,1400.8 761.2,1400.8 761.8,1400.8 762.3,1400.8 762.8,1400.8 763.4,1400.8 763.9,1400.8 764.5,1400.8 765.0,1400.8 765.6,1400.8 766.1,1400.8 766.7,1400.8 767.2,1400.8 767.8,1400.8 768.3,1400.8 768.9,1400.8 769.4,1400.8 770.0,1400.8 770.5,1400.8 771.1,1400.8 771.6,1400.8 772.2,1400.8 772.7,1400.8 773.3,1400.8 773.8,1400.8 774.4,1400.8 774.9,1400.8 775.4,1400.8 776.0,1400.8 776.5,1400.8 777.1,1400.8 777.6,1400.8 778.2,1400.8 778.7,1400.8 779.3,1400.8 779.8,1400.8 780.4,1400.8 780.9,1400.8 781.5,1400.8 782.0,1400.8 782.6,1400.8 783.1,1400.8 783.7,1400.8 784.2,1400.8 784.8,1400.8 785.3,1400.8 785.9,1400.8 786.4,1400.8 787.0,1400.8 787.5,1400.8 788.0,1400.8 788.6,1400.8 789.1,1400.8 789.7,1400.8 790.2,1400.8 790.8,1400.8 791.3,1400.8 791.9,1400.8 792.4,1400.8 793.0,1400.8 793.5,1400.8 794.1,1400.8 794.6,1400.8 795.2,1400.8 795.7,1400.8 796.3,1400.8 796.8,1400.8 797.4,1400.8 797.9,1400.8 798.5,1400.8 799.0,1400.8 799.6,1400.8 800.1,1400.8 800.6,1400.8 801.2,1400.8 801.7,1400.8 802.3,1400.8 802.8,1400.8 803.4,1400.8 803.9,1400.8 804.5,1400.8 805.0,1400.8 805.6,1400.8 806.1,1400.8 806.7,1400.8 807.2,1400.8 807.8,1400.8 808.3,1400.8 808.9,1400.8 809.4,1400.8 810.0,1400.8 810.5,1400.8 811.1,1400.8 811.6,1400.8 812.2,1400.8 812.7,1400.8 813.2,1400.8 813.8,1400.8 814.3,1400.8 814.9,1400.8 815.4,1400.8 816.0,1400.8 816.5,1400.8 817.1,1400.8 817.6,1400.8 818.2,1400.8 818.7,1400.8 819.3,1400.8 819.8,1400.8 820.4,1400.8 820.9,1400.8 821.5,1400.8 822.0,1400.8 822.6,1400.8 823.1,1400.8 823.7,1400.8 824.2,1400.8 824.8,1400.8 825.3,1400.8 825.9,1400.8 826.4,1400.8 826.9,1400.8 827.5,1400.8 828.0,1400.8 828.6,1400.8 829.1,1400.8 829.7,1400.8 830.2,1400.8 830.8,1400.8 831.3,1400.8 831.9,1400.8 832.4,1400.8 833.0,1400.8 833.5,1400.8 834.1,1400.8 834.6,1400.8 835.2,1400.8 835.7,1400.8 836.3,1400.8 836.8,1400.8 837.4,1400.8 837.9,1400.8 838.5,1400.8 839.0,1400.8 839.5,1400.8 840.1,1400.8 840.6,1400.8 841.2,1400.8 841.7,1400.8 842.3,1400.8 842.8,1400.8 843.4,1400.8 843.9,1400.8 844.5,1400.8 845.0,1400.8 845.6,1400.8 846.1,1400.8 846.7,1400.8 847.2,1400.8 847.8,1400.8 848.3,1400.8 848.9,1400.8 849.4,1400.8 850.0,1400.8 850.5,1400.8 851.1,1400.8 851.6,1400.8 852.1,1400.8 852.7,1400.8 853.2,1400.8 853.8,1400.8 854.3,1400.8 854.9,1400.8 855.4,1400.8 856.0,1400.8 856.5,1400.8 857.1,1400.8 857.6,1400.8 858.2,1400.8 858.7,1400.8 859.3,1400.8 859.8,1400.8 860.4,1400.8 860.9,1400.8 861.5,1400.8 862.0,1400.8 862.6,1400.8 863.1,1400.8 863.7,1400.8 864.2,1400.8 864.7,1400.8 865.3,1400.8 865.8,1400.8 866.4,1400.8 866.9,1400.8 867.5,1400.8 868.0,1400.8 868.6,1400.8 869.1,1400.8 869.7,1400.8 870.2,1400.8 870.8,1400.8 871.3,1400.8 871.9,1400.8 872.4,1400.8 873.0,1400.8 873.5,1400.8 874.1,1400.8 874.6,1400.8 875.2,1400.8 875.7,1400.8 876.3,1400.8 876.8,1400.8 877.3,1400.8 877.9,1400.8 878.4,1400.8 879.0,1400.8 879.5,1400.8 880.1,1400.8 880.6,1400.8 881.2,1400.8 881.7,1400.8 882.3,1400.8 882.8,1400.8 883.4,1400.8 883.9,1400.8 884.5,1400.8 885.0,1400.8 885.6,1400.8 886.1,1400.8 886.7,1400.8 887.2,1400.8 887.8,1400.8 888.3,1400.8 888.9,1400.8 889.4,1400.8 890.0,1400.8 890.5,1400.8 891.0,1400.8 891.6,1400.8 892.1,1400.8 892.7,1400.8 893.2,1400.8 893.8,1400.8 894.3,1400.8 894.9,1400.8 895.4,1400.8 896.0,1400.8 896.5,1400.8 897.1,1400.8 897.6,1400.8 898.2,1400.8 898.7,1400.8 899.3,1400.8 899.8,1400.8 900.4,1400.8 900.9,1400.8 901.5,1400.8 902.0,1400.8 902.6,1400.8 903.1,1400.8 903.6,1400.8 904.2,1400.8 904.7,1400.8 905.3,1400.8 905.8,1400.8 906.4,1400.8 906.9,1400.8 907.5,1400.8 908.0,1400.8 908.6,1400.8 909.1,1400.8 909.7,1400.8 910.2,1400.8 910.8,1400.8 911.3,1400.8 911.9,1400.8 912.4,1400.8 913.0,1400.8 913.5,1400.8 914.1,1400.8 914.6,1400.8 915.2,1400.8 915.7,1400.8 916.2,1400.8 916.8,1400.8 917.3,1400.8 917.9,1400.8 918.4,1400.8 919.0,1400.8 919.5,1400.8 920.1,1400.8 920.6,1400.8 921.2,1400.8 921.7,1400.8 922.3,1400.8 922.8,1400.8 923.4,1400.8 923.9,1400.8 924.5,1400.8 925.0,1400.8 925.6,1400.8 926.1,1400.8 926.7,1400.8 927.2,1400.8 927.8,1400.8 928.3,1400.8" fill="none" stroke="#ff7474" stroke-width="2.4" stroke-linejoin="round" stroke-linecap="round" stroke-dasharray="0.01 5.57" clip-path="url(#cb)"/>
<polyline points="161.3,1401.9 161.8,1400.8 162.4,1400.1 162.9,1401.9 163.5,1401.9 164.0,1401.3 164.6,1400.9 165.1,1401.5 165.7,1400.2 166.2,1400.0 166.8,1399.6 167.3,1399.5 167.9,1398.8 168.4,1399.0 169.0,1401.2 169.5,1400.4 170.1,1400.9 170.6,1400.9 171.2,1400.0 171.7,1399.9 172.3,1399.4 172.8,1401.3 173.4,1400.9 173.9,1399.8 174.4,1400.0 175.0,1400.0 175.5,1399.8 176.1,1400.4 176.6,1399.1 177.2,1399.4 177.7,1399.7 178.3,1400.2 178.8,1399.8 179.4,1401.9 179.9,1400.5 180.5,1399.5 181.0,1400.9 181.6,1399.4 182.1,1399.4 182.7,1400.7 183.2,1399.7 183.8,1399.7 184.3,1399.0 184.9,1398.9 185.4,1399.4 186.0,1400.1 186.5,1399.5 187.0,1399.4 187.6,1398.7 188.1,1399.1 188.7,1399.9 189.2,1400.5 189.8,1399.6 190.3,1399.9 190.9,1400.2 191.4,1399.3 192.0,1399.6 192.5,1399.0 193.1,1398.6 193.6,1399.4 194.2,1397.0 194.7,1399.3 195.3,1398.0 195.8,1398.9 196.4,1398.0 196.9,1401.0 197.5,1399.6 198.0,1398.7 198.6,1398.3 199.1,1396.8 199.7,1398.5 200.2,1397.6 200.7,1398.1 201.3,1397.9 201.8,1398.2 202.4,1398.8 202.9,1398.2 203.5,1399.6 204.0,1397.5 204.6,1399.5 205.1,1398.3 205.7,1396.6 206.2,1398.7 206.8,1398.4 207.3,1397.4 207.9,1398.4 208.4,1399.1 209.0,1398.1 209.5,1397.8 210.1,1397.6 210.6,1398.9 211.2,1396.6 211.7,1396.7 212.3,1398.1 212.8,1397.9 213.3,1398.4 213.9,1396.8 214.4,1398.6 215.0,1397.4 215.5,1398.4 216.1,1398.5 216.6,1397.2 217.2,1396.6 217.7,1397.8 218.3,1398.4 218.8,1397.0 219.4,1397.7 219.9,1397.4 220.5,1396.3 221.0,1396.6 221.6,1398.0 222.1,1395.4 222.7,1397.4 223.2,1396.7 223.8,1397.9 224.3,1397.3 224.9,1398.8 225.4,1395.6 225.9,1395.9 226.5,1398.1 227.0,1398.3 227.6,1398.4 228.1,1395.8 228.7,1397.2 229.2,1396.8 229.8,1397.0 230.3,1396.7 230.9,1397.5 231.4,1396.5 232.0,1397.7 232.5,1396.4 233.1,1396.0 233.6,1395.8 234.2,1396.4 234.7,1396.9 235.3,1395.9 235.8,1396.4 236.4,1394.5 236.9,1395.2 237.5,1395.9 238.0,1396.1 238.5,1396.3 239.1,1396.4 239.6,1395.9 240.2,1395.2 240.7,1395.0 241.3,1394.9 241.8,1393.5 242.4,1395.9 242.9,1395.2 243.5,1392.7 244.0,1396.8 244.6,1395.5 245.1,1394.9 245.7,1394.9 246.2,1394.6 246.8,1395.1 247.3,1394.5 247.9,1394.8 248.4,1394.1 249.0,1396.4 249.5,1395.5 250.1,1394.7 250.6,1395.6 251.1,1395.5 251.7,1394.0 252.2,1395.1 252.8,1394.0 253.3,1393.8 253.9,1394.2 254.4,1394.0 255.0,1394.5 255.5,1395.6 256.1,1394.3 256.6,1393.9 257.2,1394.7 257.7,1394.3 258.3,1393.5 258.8,1394.9 259.4,1393.5 259.9,1392.4 260.5,1394.5 261.0,1393.9 261.6,1394.1 262.1,1392.6 262.7,1393.7 263.2,1393.1 263.7,1394.5 264.3,1393.9 264.8,1393.8 265.4,1395.4 265.9,1392.5 266.5,1393.0 267.0,1395.3 267.6,1393.1 268.1,1393.8 268.7,1393.3 269.2,1393.4 269.8,1395.0 270.3,1393.8 270.9,1392.3 271.4,1394.1 272.0,1394.5 272.5,1394.8 273.1,1394.7 273.6,1393.3 274.2,1392.1 274.7,1393.2 275.3,1393.4 275.8,1391.6 276.4,1394.1 276.9,1394.2 277.4,1393.1 278.0,1393.1 278.5,1394.5 279.1,1394.6 279.6,1393.3 280.2,1393.4 280.7,1394.8 281.3,1393.8 281.8,1394.1 282.4,1393.2 282.9,1393.7 283.5,1393.7 284.0,1393.9 284.6,1392.7 285.1,1392.4 285.7,1393.9 286.2,1392.9 286.8,1394.3 287.3,1393.5 287.9,1392.9 288.4,1392.3 289.0,1393.9 289.5,1393.7 290.0,1393.4 290.6,1394.9 291.1,1393.6 291.7,1394.2 292.2,1393.3 292.8,1394.6 293.3,1395.4 293.9,1393.6 294.4,1393.4 295.0,1394.1 295.5,1392.8 296.1,1393.8 296.6,1394.1 297.2,1393.2 297.7,1395.0 298.3,1394.2 298.8,1393.6 299.4,1392.8 299.9,1393.7 300.5,1393.3 301.0,1394.2 301.6,1393.3 302.1,1392.1 302.6,1394.2 303.2,1391.5 303.7,1394.1 304.3,1393.5 304.8,1393.2 305.4,1392.4 305.9,1394.3 306.5,1395.0 307.0,1392.4 307.6,1392.1 308.1,1392.2 308.7,1390.2 309.2,1392.2 309.8,1392.0 310.3,1391.2 310.9,1391.6 311.4,1390.2 312.0,1392.6 312.5,1391.7 313.1,1394.2 313.6,1390.2 314.2,1391.1 314.7,1389.7 315.2,1388.5 315.8,1390.2 316.3,1390.2 316.9,1390.2 317.4,1390.4 318.0,1390.0 318.5,1388.7 319.1,1389.1 319.6,1388.9 320.2,1389.0 320.7,1387.9 321.3,1388.1 321.8,1388.5 322.4,1387.7 322.9,1388.4 323.5,1389.2 324.0,1386.8 324.6,1387.6 325.1,1388.8 325.7,1386.9 326.2,1387.5 326.8,1389.2 327.3,1386.3 327.8,1387.4 328.4,1386.9 328.9,1387.5 329.5,1387.7 330.0,1388.9 330.6,1386.7 331.1,1387.5 331.7,1387.7 332.2,1387.1 332.8,1387.3 333.3,1386.8 333.9,1387.7 334.4,1387.3 335.0,1389.2 335.5,1387.6 336.1,1386.6 336.6,1386.0 337.2,1387.5 337.7,1387.2 338.3,1385.7 338.8,1387.3 339.4,1386.4 339.9,1385.5 340.4,1386.9 341.0,1385.8 341.5,1387.5 342.1,1386.6 342.6,1386.8 343.2,1386.6 343.7,1385.6 344.3,1384.4 344.8,1387.1 345.4,1386.9 345.9,1385.9 346.5,1387.2 347.0,1385.7 347.6,1385.5 348.1,1386.2 348.7,1385.3 349.2,1387.1 349.8,1384.9 350.3,1386.8 350.9,1386.0 351.4,1385.7 352.0,1385.5 352.5,1384.2 353.1,1384.8 353.6,1385.1 354.1,1384.2 354.7,1383.1 355.2,1384.4 355.8,1384.0 356.3,1383.1 356.9,1383.9 357.4,1385.2 358.0,1381.7 358.5,1381.9 359.1,1385.5 359.6,1383.7 360.2,1383.3 360.7,1382.7 361.3,1382.9 361.8,1383.7 362.4,1384.4 362.9,1383.3 363.5,1382.5 364.0,1384.3 364.6,1384.2 365.1,1383.3 365.7,1385.0 366.2,1383.4 366.7,1383.6 367.3,1382.8 367.8,1383.8 368.4,1383.9 368.9,1383.4 369.5,1383.1 370.0,1383.6 370.6,1383.0 371.1,1382.3 371.7,1381.8 372.2,1381.3 372.8,1383.5 373.3,1383.1 373.9,1384.9 374.4,1380.9 375.0,1383.2 375.5,1382.4 376.1,1381.6 376.6,1382.9 377.2,1380.8 377.7,1380.7 378.3,1381.7 378.8,1379.3 379.3,1377.9 379.9,1380.2 380.4,1377.4 381.0,1377.6 381.5,1377.2 382.1,1377.0 382.6,1376.1 383.2,1377.3 383.7,1376.1 384.3,1377.1 384.8,1376.0 385.4,1377.2 385.9,1376.4 386.5,1374.7 387.0,1375.7 387.6,1376.1 388.1,1376.9 388.7,1376.4 389.2,1375.4 389.8,1374.7 390.3,1375.0 390.9,1374.8 391.4,1375.2 391.9,1373.8 392.5,1375.3 393.0,1375.3 393.6,1373.9 394.1,1374.5 394.7,1374.6 395.2,1374.7 395.8,1374.3 396.3,1373.4 396.9,1373.4 397.4,1374.7 398.0,1373.1 398.5,1373.2 399.1,1374.1 399.6,1372.4 400.2,1373.2 400.7,1373.1 401.3,1372.0 401.8,1371.5 402.4,1373.2 402.9,1372.2 403.5,1373.4 404.0,1370.5 404.5,1373.0 405.1,1371.5 405.6,1373.1 406.2,1371.9 406.7,1370.6 407.3,1374.8 407.8,1373.0 408.4,1372.1 408.9,1372.7 409.5,1373.2 410.0,1370.7 410.6,1372.5 411.1,1373.9 411.7,1371.4 412.2,1373.2 412.8,1370.1 413.3,1371.1 413.9,1370.0 414.4,1368.7 415.0,1369.5 415.5,1370.6 416.1,1370.7 416.6,1368.1 417.1,1368.3 417.7,1369.6 418.2,1367.9 418.8,1368.1 419.3,1367.7 419.9,1370.0 420.4,1368.0 421.0,1366.6 421.5,1366.4 422.1,1365.8 422.6,1368.3 423.2,1365.5 423.7,1364.7 424.3,1362.2 424.8,1364.7 425.4,1363.5 425.9,1362.3 426.5,1360.4 427.0,1360.3 427.6,1357.5 428.1,1357.6 428.7,1355.0 429.2,1354.0 429.8,1351.7 430.3,1350.8 430.8,1349.8 431.4,1345.6 431.9,1344.3 432.5,1342.9 433.0,1340.0 433.6,1336.8 434.1,1336.0 434.7,1332.6 435.2,1329.0 435.8,1325.5 436.3,1322.1 436.9,1318.3 437.4,1305.0 438.0,1293.0 438.5,1281.6 439.1,1270.2 439.6,1258.4 440.2,1249.2 440.7,1239.9 441.3,1225.1 441.8,1197.4 442.4,1174.7 442.9,1157.8 443.4,1139.6 444.0,1116.0 444.5,1070.5 445.1,1027.9 445.6,983.1 446.2,903.9 446.7,848.6 447.3,850.5 447.8,866.9 448.4,873.9 448.9,880.0 449.5,900.9 450.0,983.1 450.6,1007.1 451.1,1027.9 451.7,1061.4 452.2,1110.8 452.8,1185.8 453.3,1252.5 453.9,1283.1 454.4,1304.0 455.0,1320.5 455.5,1331.9 456.0,1342.2 456.6,1345.8 457.1,1351.7 457.7,1354.1 458.2,1356.2 458.8,1359.7 459.3,1362.5 459.9,1363.6 460.4,1365.0 461.0,1368.1 461.5,1368.4 462.1,1369.0 462.6,1370.8 463.2,1371.6 463.7,1372.3 464.3,1373.6 464.8,1374.7 465.4,1376.2 465.9,1378.0 466.5,1378.6 467.0,1379.5 467.6,1380.0 468.1,1380.3 468.6,1382.1 469.2,1381.2 469.7,1381.3 470.3,1382.4 470.8,1381.9 471.4,1381.7 471.9,1382.6 472.5,1380.9 473.0,1385.4 473.6,1383.6 474.1,1385.5 474.7,1383.4 475.2,1382.4 475.8,1387.4 476.3,1385.5 476.9,1385.5 477.4,1386.6 478.0,1386.1 478.5,1388.8 479.1,1386.2 479.6,1386.7 480.2,1387.1 480.7,1387.7 481.2,1386.7 481.8,1387.7 482.3,1387.2 482.9,1387.9 483.4,1389.5 484.0,1387.6 484.5,1387.4 485.1,1387.0 485.6,1388.5 486.2,1387.8 486.7,1387.2 487.3,1387.7 487.8,1386.8 488.4,1386.1 488.9,1388.7 489.5,1389.7 490.0,1387.2 490.6,1386.7 491.1,1387.2 491.7,1387.3 492.2,1388.6 492.8,1388.7 493.3,1387.3 493.8,1388.9 494.4,1389.7 494.9,1388.9 495.5,1385.8 496.0,1386.2 496.6,1388.4 497.1,1388.4 497.7,1387.4 498.2,1388.1 498.8,1386.2 499.3,1387.3 499.9,1388.0 500.4,1385.8 501.0,1387.3 501.5,1386.4 502.1,1386.5 502.6,1386.6 503.2,1385.9 503.7,1386.6 504.3,1387.5 504.8,1387.7 505.4,1386.8 505.9,1386.2 506.4,1385.5 507.0,1385.3 507.5,1384.9 508.1,1385.2 508.6,1386.0 509.2,1385.9 509.7,1387.2 510.3,1385.5 510.8,1385.0 511.4,1385.0 511.9,1385.6 512.5,1385.7 513.0,1384.8 513.6,1385.7 514.1,1385.2 514.7,1385.4 515.2,1385.8 515.8,1384.9 516.3,1386.7 516.9,1386.6 517.4,1387.1 518.0,1387.2 518.5,1385.2 519.1,1385.1 519.6,1386.7 520.1,1386.2 520.7,1385.8 521.2,1386.1 521.8,1385.8 522.3,1388.1 522.9,1387.5 523.4,1386.6 524.0,1385.7 524.5,1386.8 525.1,1387.6 525.6,1387.1 526.2,1387.3 526.7,1387.4 527.3,1385.2 527.8,1386.9 528.4,1386.2 528.9,1384.2 529.5,1384.9 530.0,1385.4 530.6,1386.1 531.1,1385.0 531.7,1383.7 532.2,1384.4 532.7,1383.6 533.3,1384.4 533.8,1383.8 534.4,1384.2 534.9,1383.5 535.5,1382.5 536.0,1384.7 536.6,1383.2 537.1,1382.7 537.7,1383.2 538.2,1382.8 538.8,1381.6 539.3,1380.3 539.9,1381.2 540.4,1381.2 541.0,1382.6 541.5,1379.2 542.1,1380.5 542.6,1380.2 543.2,1380.9 543.7,1379.6 544.3,1380.3 544.8,1379.0 545.3,1378.4 545.9,1378.5 546.4,1378.1 547.0,1379.0 547.5,1376.8 548.1,1378.5 548.6,1379.4 549.2,1377.8 549.7,1378.2 550.3,1378.3 550.8,1377.6 551.4,1376.9 551.9,1378.1 552.5,1377.1 553.0,1375.6 553.6,1376.1 554.1,1376.8 554.7,1376.4 555.2,1376.6 555.8,1376.4 556.3,1375.6 556.9,1376.2 557.4,1378.2 557.9,1376.0 558.5,1376.7 559.0,1375.2 559.6,1376.3 560.1,1375.5 560.7,1373.6 561.2,1376.4 561.8,1376.3 562.3,1376.5 562.9,1377.2 563.4,1376.7 564.0,1374.6 564.5,1375.4 565.1,1376.4 565.6,1375.9 566.2,1373.9 566.7,1375.1 567.3,1374.6 567.8,1373.9 568.4,1372.9 568.9,1372.3 569.5,1373.0 570.0,1373.7 570.5,1373.5 571.1,1372.0 571.6,1372.3 572.2,1373.7 572.7,1372.9 573.3,1373.0 573.8,1373.2 574.4,1373.6 574.9,1374.3 575.5,1373.5 576.0,1374.4 576.6,1371.9 577.1,1372.4 577.7,1374.0 578.2,1371.6 578.8,1372.1 579.3,1374.5 579.9,1371.2 580.4,1372.1 581.0,1371.0 581.5,1374.0 582.1,1372.4 582.6,1372.6 583.2,1372.8 583.7,1372.9 584.2,1372.1 584.8,1374.4 585.3,1374.2 585.9,1374.4 586.4,1373.7 587.0,1373.8 587.5,1373.0 588.1,1373.2 588.6,1373.4 589.2,1374.1 589.7,1374.0 590.3,1372.8 590.8,1373.0 591.4,1373.7 591.9,1374.1 592.5,1372.5 593.0,1374.5 593.6,1373.4 594.1,1373.1 594.7,1374.4 595.2,1373.5 595.8,1375.2 596.3,1373.4 596.8,1374.2 597.4,1375.8 597.9,1373.8 598.5,1375.3 599.0,1373.4 599.6,1375.2 600.1,1374.8 600.7,1374.4 601.2,1375.0 601.8,1374.5 602.3,1375.3 602.9,1374.3 603.4,1374.9 604.0,1374.8 604.5,1377.5 605.1,1374.1 605.6,1375.1 606.2,1376.8 606.7,1375.2 607.3,1374.9 607.8,1374.4 608.4,1376.4 608.9,1374.2 609.4,1375.8 610.0,1373.6 610.5,1375.9 611.1,1375.3 611.6,1376.3 612.2,1377.1 612.7,1375.3 613.3,1375.6 613.8,1375.1 614.4,1375.9 614.9,1377.3 615.5,1378.4 616.0,1377.6 616.6,1377.8 617.1,1378.1 617.7,1377.0 618.2,1377.4 618.8,1378.1 619.3,1377.9 619.9,1378.3 620.4,1378.2 621.0,1377.9 621.5,1377.9 622.0,1379.6 622.6,1380.5 623.1,1378.2 623.7,1379.6 624.2,1378.9 624.8,1381.6 625.3,1380.7 625.9,1380.7 626.4,1382.2 627.0,1381.7 627.5,1380.8 628.1,1380.8 628.6,1380.6 629.2,1383.0 629.7,1383.7 630.3,1382.3 630.8,1382.1 631.4,1383.0 631.9,1384.5 632.5,1382.8 633.0,1383.0 633.6,1383.3 634.1,1384.3 634.6,1383.8 635.2,1383.4 635.7,1384.7 636.3,1386.0 636.8,1384.1 637.4,1384.1 637.9,1384.6 638.5,1383.9 639.0,1385.3 639.6,1384.9 640.1,1385.2 640.7,1384.5 641.2,1383.7 641.8,1385.4 642.3,1383.4 642.9,1383.9 643.4,1384.6 644.0,1384.8 644.5,1383.7 645.1,1385.5 645.6,1385.4 646.2,1386.2 646.7,1384.9 647.2,1384.1 647.8,1384.8 648.3,1384.8 648.9,1385.3 649.4,1385.0 650.0,1386.3 650.5,1384.1 651.1,1385.3 651.6,1385.9 652.2,1385.5 652.7,1385.5 653.3,1384.0 653.8,1383.8 654.4,1385.8 654.9,1383.8 655.5,1383.7 656.0,1385.0 656.6,1385.7 657.1,1385.0 657.7,1384.9 658.2,1383.9 658.8,1384.5 659.3,1385.9 659.9,1383.9 660.4,1385.4 660.9,1383.2 661.5,1385.1 662.0,1384.6 662.6,1384.7 663.1,1384.4 663.7,1382.8 664.2,1383.2 664.8,1383.4 665.3,1383.7 665.9,1385.3 666.4,1384.4 667.0,1384.5 667.5,1384.9 668.1,1383.7 668.6,1384.8 669.2,1384.8 669.7,1385.2 670.3,1386.2 670.8,1383.9 671.4,1383.3 671.9,1384.4 672.5,1385.5 673.0,1387.1 673.5,1384.6 674.1,1383.8 674.6,1384.6 675.2,1384.2 675.7,1383.7 676.3,1384.1 676.8,1385.6 677.4,1384.3 677.9,1384.6 678.5,1386.7 679.0,1385.8 679.6,1386.7 680.1,1385.6 680.7,1385.0 681.2,1386.5 681.8,1387.5 682.3,1384.5 682.9,1385.4 683.4,1384.5 684.0,1387.0 684.5,1384.9 685.1,1384.1 685.6,1384.2 686.1,1386.2 686.7,1385.8 687.2,1386.3 687.8,1385.3 688.3,1385.3 688.9,1386.2 689.4,1387.6 690.0,1385.8 690.5,1386.9 691.1,1386.0 691.6,1386.4 692.2,1385.3 692.7,1385.8 693.3,1387.3 693.8,1386.6 694.4,1385.5 694.9,1387.6 695.5,1386.9 696.0,1386.3 696.6,1386.3 697.1,1387.1 697.7,1388.8 698.2,1388.9 698.7,1387.7 699.3,1387.7 699.8,1385.9 700.4,1389.0 700.9,1387.4 701.5,1387.8 702.0,1390.1 702.6,1389.4 703.1,1388.7 703.7,1389.4 704.2,1389.2 704.8,1388.8 705.3,1390.0 705.9,1389.0 706.4,1390.1 707.0,1390.1 707.5,1389.3 708.1,1390.3 708.6,1389.7 709.2,1388.7 709.7,1390.2 710.3,1390.4 710.8,1389.8 711.3,1390.9 711.9,1389.7 712.4,1391.9 713.0,1390.3 713.5,1391.4 714.1,1391.8 714.6,1389.6 715.2,1392.1 715.7,1389.9 716.3,1391.0 716.8,1390.4 717.4,1392.6 717.9,1390.8 718.5,1390.7 719.0,1392.2 719.6,1392.3 720.1,1390.1 720.7,1392.2 721.2,1392.8 721.8,1393.1 722.3,1392.3 722.9,1392.5 723.4,1392.7 723.9,1391.4 724.5,1393.3 725.0,1392.7 725.6,1391.9 726.1,1394.2 726.7,1392.5 727.2,1391.9 727.8,1394.8 728.3,1394.7 728.9,1394.7 729.4,1395.5 730.0,1393.5 730.5,1395.6 731.1,1393.6 731.6,1392.8 732.2,1395.6 732.7,1394.5 733.3,1396.0 733.8,1393.7 734.4,1395.1 734.9,1394.7 735.5,1394.5 736.0,1394.1 736.5,1394.9 737.1,1394.7 737.6,1395.2 738.2,1394.7 738.7,1395.9 739.3,1394.8 739.8,1396.6 740.4,1395.4 740.9,1393.3 741.5,1395.0 742.0,1396.2 742.6,1394.9 743.1,1396.0 743.7,1396.7 744.2,1395.9 744.8,1394.6 745.3,1395.0 745.9,1395.5 746.4,1396.2 747.0,1396.4 747.5,1394.3 748.1,1395.3 748.6,1396.4 749.2,1397.5 749.7,1396.8 750.2,1393.5 750.8,1396.7 751.3,1395.8 751.9,1395.6 752.4,1396.0 753.0,1396.1 753.5,1397.1 754.1,1396.9 754.6,1394.5 755.2,1396.7 755.7,1395.3 756.3,1397.6 756.8,1396.3 757.4,1395.9 757.9,1395.3 758.5,1397.2 759.0,1395.7 759.6,1395.9 760.1,1397.0 760.7,1395.9 761.2,1397.2 761.8,1397.2 762.3,1396.5 762.8,1398.9 763.4,1396.7 763.9,1397.5 764.5,1397.9 765.0,1397.1 765.6,1396.1 766.1,1397.1 766.7,1395.7 767.2,1397.9 767.8,1398.1 768.3,1395.6 768.9,1396.7 769.4,1396.2 770.0,1397.8 770.5,1396.4 771.1,1397.0 771.6,1396.7 772.2,1397.3 772.7,1396.3 773.3,1397.9 773.8,1398.3 774.4,1398.8 774.9,1396.5 775.4,1398.2 776.0,1398.5 776.5,1398.5 777.1,1398.1 777.6,1398.9 778.2,1398.0 778.7,1398.4 779.3,1398.4 779.8,1398.8 780.4,1397.9 780.9,1398.4 781.5,1397.9 782.0,1397.9 782.6,1397.8 783.1,1400.1 783.7,1398.7 784.2,1399.0 784.8,1397.6 785.3,1399.7 785.9,1399.0 786.4,1398.7 787.0,1398.7 787.5,1397.6 788.0,1398.9 788.6,1397.7 789.1,1399.9 789.7,1400.2 790.2,1397.6 790.8,1398.3 791.3,1398.3 791.9,1398.7 792.4,1398.4 793.0,1399.9 793.5,1398.0 794.1,1399.3 794.6,1398.0 795.2,1398.8 795.7,1400.7 796.3,1400.1 796.8,1398.0 797.4,1399.1 797.9,1399.4 798.5,1398.8 799.0,1399.4 799.6,1399.6 800.1,1399.0 800.6,1399.0 801.2,1397.8 801.7,1399.1 802.3,1397.5 802.8,1397.6 803.4,1397.6 803.9,1398.2 804.5,1399.1 805.0,1399.1 805.6,1399.3 806.1,1399.9 806.7,1399.3 807.2,1399.8 807.8,1397.8 808.3,1398.8 808.9,1399.6 809.4,1400.9 810.0,1399.3 810.5,1399.6 811.1,1400.2 811.6,1400.3 812.2,1401.3 812.7,1398.8 813.2,1399.4 813.8,1397.0 814.3,1399.3 814.9,1399.5 815.4,1398.1 816.0,1399.2 816.5,1399.2 817.1,1399.7 817.6,1399.9 818.2,1398.0 818.7,1398.5 819.3,1397.9 819.8,1399.7 820.4,1399.4 820.9,1400.2 821.5,1398.5 822.0,1400.6 822.6,1398.9 823.1,1398.4 823.7,1398.2 824.2,1400.3 824.8,1398.5 825.3,1400.1 825.9,1400.1 826.4,1400.6 826.9,1398.4 827.5,1398.0 828.0,1400.0 828.6,1400.1 829.1,1399.8 829.7,1397.3 830.2,1398.6 830.8,1400.0 831.3,1401.1 831.9,1400.1 832.4,1398.4 833.0,1397.8 833.5,1399.7 834.1,1400.1 834.6,1400.0 835.2,1401.2 835.7,1398.7 836.3,1400.5 836.8,1398.6 837.4,1401.0 837.9,1400.7 838.5,1399.3 839.0,1400.2 839.5,1398.9 840.1,1399.5 840.6,1400.6 841.2,1399.0 841.7,1398.8 842.3,1401.3 842.8,1398.0 843.4,1399.1 843.9,1398.9 844.5,1401.2 845.0,1400.2 845.6,1399.9 846.1,1398.6 846.7,1400.9 847.2,1400.4 847.8,1401.4 848.3,1399.8 848.9,1399.3 849.4,1401.1 850.0,1400.2 850.5,1399.2 851.1,1398.2 851.6,1399.1 852.1,1399.9 852.7,1400.7 853.2,1400.5 853.8,1400.2 854.3,1399.5 854.9,1399.7 855.4,1398.2 856.0,1399.4 856.5,1400.6 857.1,1398.3 857.6,1398.9 858.2,1399.6 858.7,1400.3 859.3,1401.4 859.8,1400.6 860.4,1398.9 860.9,1400.4 861.5,1400.9 862.0,1399.6 862.6,1399.5 863.1,1399.2 863.7,1399.2 864.2,1398.5 864.7,1400.5 865.3,1398.9 865.8,1400.6 866.4,1399.2 866.9,1399.6 867.5,1399.6 868.0,1398.9 868.6,1399.8 869.1,1398.8 869.7,1399.0 870.2,1399.7 870.8,1400.3 871.3,1400.5 871.9,1400.3 872.4,1400.0 873.0,1399.9 873.5,1397.2 874.1,1399.3 874.6,1399.2 875.2,1400.6 875.7,1400.5 876.3,1400.2 876.8,1399.7 877.3,1400.8 877.9,1398.5 878.4,1400.4 879.0,1398.9 879.5,1401.9 880.1,1399.9 880.6,1399.7 881.2,1399.8 881.7,1399.4 882.3,1399.7 882.8,1399.8 883.4,1401.6 883.9,1400.6 884.5,1401.9 885.0,1399.4 885.6,1399.7 886.1,1400.1 886.7,1400.7 887.2,1400.5 887.8,1398.4 888.3,1398.5 888.9,1400.1 889.4,1398.9 890.0,1401.4 890.5,1401.7 891.0,1400.5 891.6,1400.8 892.1,1400.5 892.7,1399.9 893.2,1397.4 893.8,1400.6 894.3,1400.0 894.9,1399.8 895.4,1400.1 896.0,1399.2 896.5,1398.5 897.1,1401.2 897.6,1399.9 898.2,1400.3 898.7,1399.8 899.3,1401.5 899.8,1401.7 900.4,1401.9 900.9,1399.6 901.5,1399.9 902.0,1400.1 902.6,1401.9 903.1,1400.5 903.6,1400.8 904.2,1401.4 904.7,1401.0 905.3,1399.5 905.8,1399.7 906.4,1400.2 906.9,1399.7 907.5,1400.7 908.0,1400.1 908.6,1400.1 909.1,1399.7 909.7,1400.2 910.2,1400.3 910.8,1400.3 911.3,1400.8 911.9,1398.2 912.4,1399.7 913.0,1399.8 913.5,1398.2 914.1,1399.0 914.6,1401.6 915.2,1399.6 915.7,1399.5 916.2,1398.5 916.8,1399.1 917.3,1399.5 917.9,1401.3 918.4,1401.0 919.0,1400.0 919.5,1399.8 920.1,1401.1 920.6,1400.6 921.2,1400.6 921.7,1400.2 922.3,1399.9 922.8,1400.5 923.4,1401.3 923.9,1399.1 924.5,1398.8 925.0,1400.3 925.6,1399.3 926.1,1399.8 926.7,1399.7 927.2,1399.8 927.8,1400.9 928.3,1399.7" fill="none" stroke="#000" stroke-width="2.1" stroke-linejoin="round" stroke-linecap="round" clip-path="url(#cb)"/>
<polyline points="161.3,1401.3 161.8,1401.3 162.4,1401.3 162.9,1401.3 163.5,1401.3 164.0,1401.3 164.6,1401.3 165.1,1401.3 165.7,1401.3 166.2,1401.3 166.8,1401.3 167.3,1401.3 167.9,1401.3 168.4,1401.3 169.0,1401.3 169.5,1401.3 170.1,1401.3 170.6,1401.3 171.2,1401.3 171.7,1401.3 172.3,1401.3 172.8,1401.3 173.4,1401.3 173.9,1401.3 174.4,1401.3 175.0,1401.3 175.5,1401.3 176.1,1401.3 176.6,1401.3 177.2,1401.3 177.7,1401.3 178.3,1401.3 178.8,1401.3 179.4,1401.3 179.9,1401.3 180.5,1401.3 181.0,1401.3 181.6,1401.3 182.1,1401.3 182.7,1401.3 183.2,1401.3 183.8,1401.3 184.3,1401.3 184.9,1401.3 185.4,1401.3 186.0,1401.3 186.5,1401.3 187.0,1401.3 187.6,1401.3 188.1,1401.3 188.7,1401.3 189.2,1401.3 189.8,1401.3 190.3,1401.3 190.9,1401.3 191.4,1401.3 192.0,1401.3 192.5,1401.3 193.1,1401.3 193.6,1401.3 194.2,1401.3 194.7,1401.3 195.3,1401.3 195.8,1401.3 196.4,1401.3 196.9,1401.3 197.5,1401.3 198.0,1401.3 198.6,1401.3 199.1,1401.3 199.7,1401.3 200.2,1401.3 200.7,1401.3 201.3,1401.3 201.8,1401.3 202.4,1401.3 202.9,1401.3 203.5,1401.3 204.0,1401.3 204.6,1401.3 205.1,1401.3 205.7,1401.3 206.2,1401.3 206.8,1401.3 207.3,1401.3 207.9,1401.3 208.4,1401.3 209.0,1401.3 209.5,1401.3 210.1,1401.3 210.6,1401.3 211.2,1401.3 211.7,1401.3 212.3,1401.3 212.8,1401.3 213.3,1401.3 213.9,1401.3 214.4,1401.3 215.0,1401.3 215.5,1401.3 216.1,1401.3 216.6,1401.3 217.2,1401.3 217.7,1401.3 218.3,1401.3 218.8,1401.3 219.4,1401.3 219.9,1401.3 220.5,1401.3 221.0,1401.3 221.6,1401.3 222.1,1401.3 222.7,1401.3 223.2,1401.3 223.8,1401.3 224.3,1401.3 224.9,1401.2 225.4,1401.2 225.9,1401.2 226.5,1401.2 227.0,1401.2 227.6,1401.2 228.1,1401.2 228.7,1401.2 229.2,1401.2 229.8,1401.2 230.3,1401.2 230.9,1401.2 231.4,1401.2 232.0,1401.2 232.5,1401.2 233.1,1401.2 233.6,1401.2 234.2,1401.2 234.7,1401.2 235.3,1401.2 235.8,1401.2 236.4,1401.2 236.9,1401.2 237.5,1401.2 238.0,1401.2 238.5,1401.2 239.1,1401.2 239.6,1401.2 240.2,1401.2 240.7,1401.2 241.3,1401.2 241.8,1401.2 242.4,1401.2 242.9,1401.2 243.5,1401.2 244.0,1401.2 244.6,1401.2 245.1,1401.2 245.7,1401.2 246.2,1401.2 246.8,1401.2 247.3,1401.2 247.9,1401.2 248.4,1401.2 249.0,1401.2 249.5,1401.2 250.1,1401.2 250.6,1401.2 251.1,1401.2 251.7,1401.2 252.2,1401.2 252.8,1401.2 253.3,1401.2 253.9,1401.1 254.4,1401.1 255.0,1401.1 255.5,1401.1 256.1,1401.1 256.6,1401.1 257.2,1401.1 257.7,1401.1 258.3,1401.1 258.8,1401.1 259.4,1401.1 259.9,1401.1 260.5,1401.1 261.0,1401.1 261.6,1401.1 262.1,1401.1 262.7,1401.1 263.2,1401.1 263.7,1401.1 264.3,1401.1 264.8,1401.1 265.4,1401.1 265.9,1401.1 266.5,1401.1 267.0,1401.1 267.6,1401.1 268.1,1401.1 268.7,1401.1 269.2,1401.1 269.8,1401.1 270.3,1401.1 270.9,1401.1 271.4,1401.1 272.0,1401.1 272.5,1401.1 273.1,1401.1 273.6,1401.1 274.2,1401.1 274.7,1401.1 275.3,1401.1 275.8,1401.1 276.4,1401.1 276.9,1401.0 277.4,1401.0 278.0,1401.0 278.5,1401.0 279.1,1401.0 279.6,1401.0 280.2,1401.0 280.7,1401.0 281.3,1401.0 281.8,1401.0 282.4,1401.0 282.9,1401.0 283.5,1401.0 284.0,1401.0 284.6,1401.0 285.1,1401.0 285.7,1401.0 286.2,1401.0 286.8,1401.0 287.3,1401.0 287.9,1401.0 288.4,1401.0 289.0,1401.0 289.5,1401.0 290.0,1401.0 290.6,1401.0 291.1,1401.0 291.7,1401.0 292.2,1401.0 292.8,1401.0 293.3,1401.0 293.9,1401.0 294.4,1401.0 295.0,1401.0 295.5,1401.0 296.1,1401.0 296.6,1401.0 297.2,1400.9 297.7,1400.9 298.3,1400.9 298.8,1400.9 299.4,1400.9 299.9,1400.9 300.5,1400.9 301.0,1400.9 301.6,1400.9 302.1,1400.9 302.6,1400.9 303.2,1400.9 303.7,1400.9 304.3,1400.9 304.8,1400.9 305.4,1400.9 305.9,1400.9 306.5,1400.9 307.0,1400.9 307.6,1400.9 308.1,1400.9 308.7,1400.9 309.2,1400.9 309.8,1400.9 310.3,1400.9 310.9,1400.9 311.4,1400.9 312.0,1400.9 312.5,1400.9 313.1,1400.9 313.6,1400.9 314.2,1400.9 314.7,1400.9 315.2,1400.9 315.8,1400.8 316.3,1400.8 316.9,1400.8 317.4,1400.8 318.0,1400.8 318.5,1400.8 319.1,1400.8 319.6,1400.8 320.2,1400.8 320.7,1400.8 321.3,1400.8 321.8,1400.8 322.4,1400.8 322.9,1400.8 323.5,1400.8 324.0,1400.8 324.6,1400.8 325.1,1400.8 325.7,1400.8 326.2,1400.8 326.8,1400.8 327.3,1400.8 327.8,1400.8 328.4,1400.8 328.9,1400.8 329.5,1400.8 330.0,1400.8 330.6,1400.8 331.1,1400.8 331.7,1400.7 332.2,1400.7 332.8,1400.7 333.3,1400.7 333.9,1400.7 334.4,1400.7 335.0,1400.7 335.5,1400.7 336.1,1400.7 336.6,1400.7 337.2,1400.7 337.7,1400.7 338.3,1400.7 338.8,1400.7 339.4,1400.7 339.9,1400.6 340.4,1400.6 341.0,1400.6 341.5,1400.6 342.1,1400.6 342.6,1400.6 343.2,1400.6 343.7,1400.6 344.3,1400.6 344.8,1400.6 345.4,1400.6 345.9,1400.5 346.5,1400.5 347.0,1400.5 347.6,1400.5 348.1,1400.5 348.7,1400.5 349.2,1400.5 349.8,1400.5 350.3,1400.5 350.9,1400.5 351.4,1400.4 352.0,1400.4 352.5,1400.4 353.1,1400.4 353.6,1400.4 354.1,1400.4 354.7,1400.4 355.2,1400.4 355.8,1400.3 356.3,1400.3 356.9,1400.3 357.4,1400.3 358.0,1400.3 358.5,1400.3 359.1,1400.3 359.6,1400.3 360.2,1400.2 360.7,1400.2 361.3,1400.2 361.8,1400.2 362.4,1400.2 362.9,1400.2 363.5,1400.2 364.0,1400.1 364.6,1400.1 365.1,1400.1 365.7,1400.1 366.2,1400.1 366.7,1400.1 367.3,1400.1 367.8,1400.0 368.4,1400.0 368.9,1400.0 369.5,1400.0 370.0,1400.0 370.6,1400.0 371.1,1400.0 371.7,1399.9 372.2,1399.9 372.8,1399.9 373.3,1399.9 373.9,1399.9 374.4,1399.9 375.0,1399.8 375.5,1399.8 376.1,1399.8 376.6,1399.8 377.2,1399.8 377.7,1399.8 378.3,1399.8 378.8,1399.7 379.3,1399.7 379.9,1399.7 380.4,1399.7 381.0,1399.7 381.5,1399.7 382.1,1399.6 382.6,1399.6 383.2,1399.6 383.7,1399.6 384.3,1399.6 384.8,1399.5 385.4,1399.5 385.9,1399.5 386.5,1399.5 387.0,1399.4 387.6,1399.4 388.1,1399.4 388.7,1399.4 389.2,1399.3 389.8,1399.3 390.3,1399.3 390.9,1399.2 391.4,1399.2 391.9,1399.2 392.5,1399.2 393.0,1399.1 393.6,1399.1 394.1,1399.1 394.7,1399.0 395.2,1399.0 395.8,1399.0 396.3,1398.9 396.9,1398.9 397.4,1398.8 398.0,1398.8 398.5,1398.8 399.1,1398.7 399.6,1398.7 400.2,1398.7 400.7,1398.6 401.3,1398.6 401.8,1398.5 402.4,1398.5 402.9,1398.4 403.5,1398.4 404.0,1398.4 404.5,1398.3 405.1,1398.3 405.6,1398.2 406.2,1398.2 406.7,1398.1 407.3,1398.1 407.8,1398.0 408.4,1398.0 408.9,1397.9 409.5,1397.9 410.0,1397.8 410.6,1397.8 411.1,1397.7 411.7,1397.6 412.2,1397.6 412.8,1397.5 413.3,1397.4 413.9,1397.3 414.4,1397.2 415.0,1397.2 415.5,1397.1 416.1,1397.0 416.6,1396.9 417.1,1396.8 417.7,1396.7 418.2,1396.6 418.8,1396.5 419.3,1396.4 419.9,1396.3 420.4,1396.2 421.0,1396.0 421.5,1395.9 422.1,1395.8 422.6,1395.7 423.2,1395.5 423.7,1395.4 424.3,1395.3 424.8,1395.1 425.4,1394.9 425.9,1394.8 426.5,1394.5 427.0,1394.3 427.6,1394.1 428.1,1393.8 428.7,1393.5 429.2,1393.2 429.8,1392.9 430.3,1392.6 430.8,1392.3 431.4,1391.9 431.9,1391.6 432.5,1391.2 433.0,1390.8 433.6,1390.4 434.1,1390.0 434.7,1389.6 435.2,1389.1 435.8,1388.5 436.3,1387.9 436.9,1387.2 437.4,1386.4 438.0,1385.5 438.5,1384.5 439.1,1383.4 439.6,1381.8 440.2,1379.7 440.7,1377.1 441.3,1374.2 441.8,1370.6 442.4,1366.2 442.9,1361.2 443.4,1355.4 444.0,1348.6 444.5,1339.5 445.1,1326.7 445.6,1304.9 446.2,1281.9 446.7,1259.4 447.3,1232.0 447.8,1199.4 448.4,1178.7 448.9,1154.6 449.5,1095.5 450.0,1053.3 450.6,1001.7 451.1,948.2 451.7,885.6 452.2,848.6 452.8,848.6 453.3,848.6 453.9,849.8 454.4,883.0 455.0,931.0 455.5,973.6 456.0,1030.0 456.6,1119.7 457.1,1183.3 457.7,1220.7 458.2,1244.1 458.8,1266.3 459.3,1294.3 459.9,1318.4 460.4,1333.4 461.0,1345.1 461.5,1355.1 462.1,1363.9 462.6,1370.4 463.2,1375.3 463.7,1379.9 464.3,1383.9 464.8,1387.1 465.4,1389.2 465.9,1390.3 466.5,1391.2 467.0,1392.0 467.6,1392.7 468.1,1393.3 468.6,1393.9 469.2,1394.4 469.7,1394.8 470.3,1395.2 470.8,1395.5 471.4,1395.8 471.9,1396.1 472.5,1396.3 473.0,1396.5 473.6,1396.7 474.1,1396.9 474.7,1397.1 475.2,1397.2 475.8,1397.4 476.3,1397.5 476.9,1397.7 477.4,1397.8 478.0,1397.9 478.5,1398.0 479.1,1398.0 479.6,1398.1 480.2,1398.2 480.7,1398.2 481.2,1398.3 481.8,1398.4 482.3,1398.4 482.9,1398.5 483.4,1398.6 484.0,1398.6 484.5,1398.7 485.1,1398.7 485.6,1398.8 486.2,1398.9 486.7,1398.9 487.3,1399.0 487.8,1399.0 488.4,1399.1 488.9,1399.1 489.5,1399.2 490.0,1399.2 490.6,1399.3 491.1,1399.3 491.7,1399.4 492.2,1399.4 492.8,1399.4 493.3,1399.5 493.8,1399.5 494.4,1399.5 494.9,1399.6 495.5,1399.6 496.0,1399.6 496.6,1399.6 497.1,1399.6 497.7,1399.7 498.2,1399.7 498.8,1399.7 499.3,1399.7 499.9,1399.7 500.4,1399.7 501.0,1399.7 501.5,1399.7 502.1,1399.7 502.6,1399.7 503.2,1399.7 503.7,1399.6 504.3,1399.6 504.8,1399.6 505.4,1399.6 505.9,1399.6 506.4,1399.6 507.0,1399.6 507.5,1399.5 508.1,1399.5 508.6,1399.5 509.2,1399.5 509.7,1399.4 510.3,1399.4 510.8,1399.4 511.4,1399.4 511.9,1399.3 512.5,1399.3 513.0,1399.3 513.6,1399.2 514.1,1399.2 514.7,1399.2 515.2,1399.2 515.8,1399.1 516.3,1399.1 516.9,1399.1 517.4,1399.0 518.0,1399.0 518.5,1399.0 519.1,1398.9 519.6,1398.9 520.1,1398.9 520.7,1398.8 521.2,1398.8 521.8,1398.7 522.3,1398.7 522.9,1398.7 523.4,1398.6 524.0,1398.6 524.5,1398.6 525.1,1398.5 525.6,1398.5 526.2,1398.5 526.7,1398.4 527.3,1398.4 527.8,1398.4 528.4,1398.4 528.9,1398.3 529.5,1398.3 530.0,1398.2 530.6,1398.2 531.1,1398.2 531.7,1398.1 532.2,1398.1 532.7,1398.1 533.3,1398.0 533.8,1398.0 534.4,1398.0 534.9,1397.9 535.5,1397.9 536.0,1397.8 536.6,1397.8 537.1,1397.8 537.7,1397.7 538.2,1397.7 538.8,1397.6 539.3,1397.6 539.9,1397.6 540.4,1397.5 541.0,1397.5 541.5,1397.4 542.1,1397.4 542.6,1397.3 543.2,1397.3 543.7,1397.3 544.3,1397.2 544.8,1397.2 545.3,1397.1 545.9,1397.1 546.4,1397.0 547.0,1397.0 547.5,1397.0 548.1,1396.9 548.6,1396.9 549.2,1396.8 549.7,1396.8 550.3,1396.7 550.8,1396.7 551.4,1396.6 551.9,1396.6 552.5,1396.5 553.0,1396.5 553.6,1396.5 554.1,1396.4 554.7,1396.4 555.2,1396.3 555.8,1396.3 556.3,1396.2 556.9,1396.2 557.4,1396.1 557.9,1396.1 558.5,1396.0 559.0,1395.9 559.6,1395.9 560.1,1395.8 560.7,1395.8 561.2,1395.7 561.8,1395.7 562.3,1395.6 562.9,1395.5 563.4,1395.5 564.0,1395.4 564.5,1395.4 565.1,1395.3 565.6,1395.3 566.2,1395.2 566.7,1395.2 567.3,1395.1 567.8,1395.1 568.4,1395.0 568.9,1395.0 569.5,1395.0 570.0,1394.9 570.5,1394.9 571.1,1394.9 571.6,1394.8 572.2,1394.8 572.7,1394.8 573.3,1394.8 573.8,1394.8 574.4,1394.7 574.9,1394.7 575.5,1394.7 576.0,1394.7 576.6,1394.6 577.1,1394.6 577.7,1394.6 578.2,1394.6 578.8,1394.6 579.3,1394.5 579.9,1394.5 580.4,1394.5 581.0,1394.5 581.5,1394.5 582.1,1394.4 582.6,1394.4 583.2,1394.4 583.7,1394.4 584.2,1394.4 584.8,1394.4 585.3,1394.4 585.9,1394.4 586.4,1394.4 587.0,1394.3 587.5,1394.3 588.1,1394.3 588.6,1394.3 589.2,1394.3 589.7,1394.3 590.3,1394.3 590.8,1394.3 591.4,1394.3 591.9,1394.3 592.5,1394.3 593.0,1394.3 593.6,1394.3 594.1,1394.3 594.7,1394.4 595.2,1394.4 595.8,1394.4 596.3,1394.4 596.8,1394.4 597.4,1394.4 597.9,1394.4 598.5,1394.4 599.0,1394.5 599.6,1394.5 600.1,1394.5 600.7,1394.5 601.2,1394.5 601.8,1394.5 602.3,1394.6 602.9,1394.6 603.4,1394.6 604.0,1394.6 604.5,1394.6 605.1,1394.7 605.6,1394.7 606.2,1394.7 606.7,1394.7 607.3,1394.8 607.8,1394.8 608.4,1394.8 608.9,1394.8 609.4,1394.9 610.0,1394.9 610.5,1395.0 611.1,1395.0 611.6,1395.1 612.2,1395.1 612.7,1395.2 613.3,1395.3 613.8,1395.4 614.4,1395.5 614.9,1395.6 615.5,1395.7 616.0,1395.8 616.6,1395.9 617.1,1396.1 617.7,1396.2 618.2,1396.3 618.8,1396.4 619.3,1396.5 619.9,1396.6 620.4,1396.7 621.0,1396.8 621.5,1396.9 622.0,1397.0 622.6,1397.0 623.1,1397.1 623.7,1397.1 624.2,1397.2 624.8,1397.3 625.3,1397.3 625.9,1397.4 626.4,1397.4 627.0,1397.5 627.5,1397.5 628.1,1397.6 628.6,1397.6 629.2,1397.7 629.7,1397.7 630.3,1397.7 630.8,1397.8 631.4,1397.8 631.9,1397.9 632.5,1397.9 633.0,1398.0 633.6,1398.0 634.1,1398.0 634.6,1398.1 635.2,1398.1 635.7,1398.2 636.3,1398.2 636.8,1398.2 637.4,1398.3 637.9,1398.3 638.5,1398.3 639.0,1398.4 639.6,1398.4 640.1,1398.4 640.7,1398.5 641.2,1398.5 641.8,1398.5 642.3,1398.6 642.9,1398.6 643.4,1398.6 644.0,1398.7 644.5,1398.7 645.1,1398.7 645.6,1398.8 646.2,1398.8 646.7,1398.8 647.2,1398.9 647.8,1398.9 648.3,1398.9 648.9,1399.0 649.4,1399.0 650.0,1399.0 650.5,1399.0 651.1,1399.1 651.6,1399.1 652.2,1399.1 652.7,1399.2 653.3,1399.2 653.8,1399.2 654.4,1399.2 654.9,1399.3 655.5,1399.3 656.0,1399.3 656.6,1399.3 657.1,1399.4 657.7,1399.4 658.2,1399.4 658.8,1399.4 659.3,1399.5 659.9,1399.5 660.4,1399.5 660.9,1399.5 661.5,1399.6 662.0,1399.6 662.6,1399.6 663.1,1399.6 663.7,1399.7 664.2,1399.7 664.8,1399.7 665.3,1399.7 665.9,1399.8 666.4,1399.8 667.0,1399.8 667.5,1399.8 668.1,1399.9 668.6,1399.9 669.2,1399.9 669.7,1400.0 670.3,1400.0 670.8,1400.0 671.4,1400.0 671.9,1400.1 672.5,1400.1 673.0,1400.1 673.5,1400.2 674.1,1400.2 674.6,1400.2 675.2,1400.2 675.7,1400.3 676.3,1400.3 676.8,1400.3 677.4,1400.4 677.9,1400.4 678.5,1400.4 679.0,1400.4 679.6,1400.5 680.1,1400.5 680.7,1400.5 681.2,1400.5 681.8,1400.6 682.3,1400.6 682.9,1400.6 683.4,1400.6 684.0,1400.6 684.5,1400.7 685.1,1400.7 685.6,1400.7 686.1,1400.7 686.7,1400.7 687.2,1400.7 687.8,1400.7 688.3,1400.8 688.9,1400.8 689.4,1400.8 690.0,1400.8 690.5,1400.8 691.1,1400.8 691.6,1400.8 692.2,1400.8 692.7,1400.8 693.3,1400.8 693.8,1400.8 694.4,1400.8 694.9,1400.8 695.5,1400.8 696.0,1400.8 696.6,1400.8 697.1,1400.8 697.7,1400.8 698.2,1400.8 698.7,1400.8 699.3,1400.8 699.8,1400.8 700.4,1400.8 700.9,1400.8 701.5,1400.8 702.0,1400.8 702.6,1400.8 703.1,1400.8 703.7,1400.8 704.2,1400.8 704.8,1400.9 705.3,1400.9 705.9,1400.9 706.4,1400.9 707.0,1400.9 707.5,1400.9 708.1,1400.9 708.6,1400.9 709.2,1400.9 709.7,1400.9 710.3,1400.9 710.8,1400.9 711.3,1400.9 711.9,1400.9 712.4,1400.9 713.0,1400.9 713.5,1400.9 714.1,1400.9 714.6,1400.9 715.2,1400.9 715.7,1400.9 716.3,1400.9 716.8,1400.9 717.4,1400.9 717.9,1400.9 718.5,1400.9 719.0,1400.9 719.6,1400.9 720.1,1400.9 720.7,1400.9 721.2,1400.9 721.8,1400.9 722.3,1400.9 722.9,1400.9 723.4,1400.9 723.9,1400.9 724.5,1400.9 725.0,1400.9 725.6,1400.9 726.1,1400.9 726.7,1400.9 727.2,1400.9 727.8,1400.9 728.3,1400.9 728.9,1400.9 729.4,1400.9 730.0,1401.0 730.5,1401.0 731.1,1401.0 731.6,1401.0 732.2,1401.0 732.7,1401.0 733.3,1401.0 733.8,1401.0 734.4,1401.0 734.9,1401.0 735.5,1401.0 736.0,1401.0 736.5,1401.0 737.1,1401.0 737.6,1401.0 738.2,1401.0 738.7,1401.0 739.3,1401.0 739.8,1401.0 740.4,1401.0 740.9,1401.0 741.5,1401.0 742.0,1401.0 742.6,1401.0 743.1,1401.0 743.7,1401.0 744.2,1401.0 744.8,1401.0 745.3,1401.0 745.9,1401.0 746.4,1401.0 747.0,1401.0 747.5,1401.0 748.1,1401.0 748.6,1401.0 749.2,1401.0 749.7,1401.0 750.2,1401.0 750.8,1401.0 751.3,1401.0 751.9,1401.0 752.4,1401.0 753.0,1401.0 753.5,1401.0 754.1,1401.0 754.6,1401.0 755.2,1401.0 755.7,1401.0 756.3,1401.0 756.8,1401.0 757.4,1401.0 757.9,1401.1 758.5,1401.1 759.0,1401.1 759.6,1401.1 760.1,1401.1 760.7,1401.1 761.2,1401.1 761.8,1401.1 762.3,1401.1 762.8,1401.1 763.4,1401.1 763.9,1401.1 764.5,1401.1 765.0,1401.1 765.6,1401.1 766.1,1401.1 766.7,1401.1 767.2,1401.1 767.8,1401.1 768.3,1401.1 768.9,1401.1 769.4,1401.1 770.0,1401.1 770.5,1401.1 771.1,1401.1 771.6,1401.1 772.2,1401.1 772.7,1401.1 773.3,1401.1 773.8,1401.1 774.4,1401.1 774.9,1401.1 775.4,1401.1 776.0,1401.1 776.5,1401.1 777.1,1401.1 777.6,1401.1 778.2,1401.1 778.7,1401.1 779.3,1401.1 779.8,1401.1 780.4,1401.1 780.9,1401.1 781.5,1401.1 782.0,1401.1 782.6,1401.1 783.1,1401.1 783.7,1401.1 784.2,1401.1 784.8,1401.1 785.3,1401.1 785.9,1401.1 786.4,1401.1 787.0,1401.1 787.5,1401.1 788.0,1401.1 788.6,1401.1 789.1,1401.1 789.7,1401.1 790.2,1401.1 790.8,1401.2 791.3,1401.2 791.9,1401.2 792.4,1401.2 793.0,1401.2 793.5,1401.2 794.1,1401.2 794.6,1401.2 795.2,1401.2 795.7,1401.2 796.3,1401.2 796.8,1401.2 797.4,1401.2 797.9,1401.2 798.5,1401.2 799.0,1401.2 799.6,1401.2 800.1,1401.2 800.6,1401.2 801.2,1401.2 801.7,1401.2 802.3,1401.2 802.8,1401.2 803.4,1401.2 803.9,1401.2 804.5,1401.2 805.0,1401.2 805.6,1401.2 806.1,1401.2 806.7,1401.2 807.2,1401.2 807.8,1401.2 808.3,1401.2 808.9,1401.2 809.4,1401.2 810.0,1401.2 810.5,1401.2 811.1,1401.2 811.6,1401.2 812.2,1401.2 812.7,1401.2 813.2,1401.2 813.8,1401.2 814.3,1401.2 814.9,1401.2 815.4,1401.2 816.0,1401.2 816.5,1401.2 817.1,1401.2 817.6,1401.2 818.2,1401.2 818.7,1401.2 819.3,1401.2 819.8,1401.2 820.4,1401.2 820.9,1401.2 821.5,1401.2 822.0,1401.2 822.6,1401.2 823.1,1401.2 823.7,1401.2 824.2,1401.2 824.8,1401.2 825.3,1401.2 825.9,1401.2 826.4,1401.2 826.9,1401.2 827.5,1401.2 828.0,1401.2 828.6,1401.2 829.1,1401.2 829.7,1401.2 830.2,1401.2 830.8,1401.2 831.3,1401.2 831.9,1401.2 832.4,1401.2 833.0,1401.3 833.5,1401.3 834.1,1401.3 834.6,1401.3 835.2,1401.3 835.7,1401.3 836.3,1401.3 836.8,1401.3 837.4,1401.3 837.9,1401.3 838.5,1401.3 839.0,1401.3 839.5,1401.3 840.1,1401.3 840.6,1401.3 841.2,1401.3 841.7,1401.3 842.3,1401.3 842.8,1401.3 843.4,1401.3 843.9,1401.3 844.5,1401.3 845.0,1401.3 845.6,1401.3 846.1,1401.3 846.7,1401.3 847.2,1401.3 847.8,1401.3 848.3,1401.3 848.9,1401.3 849.4,1401.3 850.0,1401.3 850.5,1401.3 851.1,1401.3 851.6,1401.3 852.1,1401.3 852.7,1401.3 853.2,1401.3 853.8,1401.3 854.3,1401.3 854.9,1401.3 855.4,1401.3 856.0,1401.3 856.5,1401.3 857.1,1401.3 857.6,1401.3 858.2,1401.3 858.7,1401.3 859.3,1401.3 859.8,1401.3 860.4,1401.3 860.9,1401.3 861.5,1401.3 862.0,1401.3 862.6,1401.3 863.1,1401.3 863.7,1401.3 864.2,1401.3 864.7,1401.3 865.3,1401.3 865.8,1401.3 866.4,1401.3 866.9,1401.3 867.5,1401.3 868.0,1401.3 868.6,1401.3 869.1,1401.3 869.7,1401.3 870.2,1401.3 870.8,1401.3 871.3,1401.3 871.9,1401.3 872.4,1401.3 873.0,1401.3 873.5,1401.3 874.1,1401.3 874.6,1401.3 875.2,1401.3 875.7,1401.3 876.3,1401.3 876.8,1401.3 877.3,1401.3 877.9,1401.3 878.4,1401.3 879.0,1401.3 879.5,1401.3 880.1,1401.3 880.6,1401.3 881.2,1401.3 881.7,1401.3 882.3,1401.3 882.8,1401.3 883.4,1401.3 883.9,1401.3 884.5,1401.3 885.0,1401.3 885.6,1401.3 886.1,1401.3 886.7,1401.3 887.2,1401.3 887.8,1401.3 888.3,1401.3 888.9,1401.3 889.4,1401.3 890.0,1401.3 890.5,1401.3 891.0,1401.3 891.6,1401.3 892.1,1401.3 892.7,1401.3 893.2,1401.3 893.8,1401.3 894.3,1401.3 894.9,1401.3 895.4,1401.3 896.0,1401.3 896.5,1401.3 897.1,1401.3 897.6,1401.3 898.2,1401.3 898.7,1401.3 899.3,1401.3 899.8,1401.3 900.4,1401.3 900.9,1401.3 901.5,1401.3 902.0,1401.3 902.6,1401.3 903.1,1401.3 903.6,1401.3 904.2,1401.3 904.7,1401.3 905.3,1401.3 905.8,1401.3 906.4,1401.3 906.9,1401.3 907.5,1401.3 908.0,1401.3 908.6,1401.3 909.1,1401.3 909.7,1401.3 910.2,1401.3 910.8,1401.3 911.3,1401.3 911.9,1401.3 912.4,1401.3 913.0,1401.3 913.5,1401.3 914.1,1401.3 914.6,1401.3 915.2,1401.3 915.7,1401.3 916.2,1401.3 916.8,1401.3 917.3,1401.3 917.9,1401.3 918.4,1401.3 919.0,1401.3 919.5,1401.3 920.1,1401.3 920.6,1401.3 921.2,1401.3 921.7,1401.3 922.3,1401.3 922.8,1401.3 923.4,1401.3 923.9,1401.3 924.5,1401.3 925.0,1401.3 925.6,1401.3 926.1,1401.3 926.7,1401.3 927.2,1401.3 927.8,1401.3 928.3,1401.3" fill="none" stroke="#ff0000" stroke-width="2.1" stroke-linejoin="round" stroke-linecap="round" clip-path="url(#cb)"/>
<line x1="148.90" y1="1401.90" x2="161.30" y2="1401.90" stroke="#000" stroke-width="3" stroke-linecap="butt" />
<text x="137.70" y="1412.40" font-size="33.33" text-anchor="end" fill="#000" letter-spacing="-0.3">0.0</text>
<line x1="153.90" y1="1346.57" x2="161.30" y2="1346.57" stroke="#000" stroke-width="3" stroke-linecap="butt" />
<line x1="148.90" y1="1291.24" x2="161.30" y2="1291.24" stroke="#000" stroke-width="3" stroke-linecap="butt" />
<text x="137.70" y="1301.74" font-size="33.33" text-anchor="end" fill="#000" letter-spacing="-0.3">0.2</text>
<line x1="153.90" y1="1235.91" x2="161.30" y2="1235.91" stroke="#000" stroke-width="3" stroke-linecap="butt" />
<line x1="148.90" y1="1180.58" x2="161.30" y2="1180.58" stroke="#000" stroke-width="3" stroke-linecap="butt" />
<text x="137.70" y="1191.08" font-size="33.33" text-anchor="end" fill="#000" letter-spacing="-0.3">0.4</text>
<line x1="153.90" y1="1125.25" x2="161.30" y2="1125.25" stroke="#000" stroke-width="3" stroke-linecap="butt" />
<line x1="148.90" y1="1069.92" x2="161.30" y2="1069.92" stroke="#000" stroke-width="3" stroke-linecap="butt" />
<text x="137.70" y="1080.42" font-size="33.33" text-anchor="end" fill="#000" letter-spacing="-0.3">0.6</text>
<line x1="153.90" y1="1014.59" x2="161.30" y2="1014.59" stroke="#000" stroke-width="3" stroke-linecap="butt" />
<line x1="148.90" y1="959.26" x2="161.30" y2="959.26" stroke="#000" stroke-width="3" stroke-linecap="butt" />
<text x="137.70" y="969.76" font-size="33.33" text-anchor="end" fill="#000" letter-spacing="-0.3">0.8</text>
<line x1="153.90" y1="903.93" x2="161.30" y2="903.93" stroke="#000" stroke-width="3" stroke-linecap="butt" />
<line x1="148.90" y1="848.60" x2="161.30" y2="848.60" stroke="#000" stroke-width="3" stroke-linecap="butt" />
<text x="137.70" y="859.10" font-size="33.33" text-anchor="end" fill="#000" letter-spacing="-0.3">1.0</text>
<line x1="161.30" y1="1401.90" x2="161.30" y2="1414.50" stroke="#000" stroke-width="3" stroke-linecap="butt" />
<text x="160.90" y="1449.70" font-size="33.33" text-anchor="middle" fill="#000">800</text>
<line x1="216.09" y1="1401.90" x2="216.09" y2="1409.30" stroke="#000" stroke-width="3" stroke-linecap="butt" />
<line x1="270.87" y1="1401.90" x2="270.87" y2="1414.50" stroke="#000" stroke-width="3" stroke-linecap="butt" />
<text x="270.47" y="1449.70" font-size="33.33" text-anchor="middle" fill="#000">1000</text>
<line x1="325.66" y1="1401.90" x2="325.66" y2="1409.30" stroke="#000" stroke-width="3" stroke-linecap="butt" />
<line x1="380.44" y1="1401.90" x2="380.44" y2="1414.50" stroke="#000" stroke-width="3" stroke-linecap="butt" />
<text x="380.04" y="1449.70" font-size="33.33" text-anchor="middle" fill="#000">1200</text>
<line x1="435.23" y1="1401.90" x2="435.23" y2="1409.30" stroke="#000" stroke-width="3" stroke-linecap="butt" />
<line x1="490.01" y1="1401.90" x2="490.01" y2="1414.50" stroke="#000" stroke-width="3" stroke-linecap="butt" />
<text x="489.61" y="1449.70" font-size="33.33" text-anchor="middle" fill="#000">1400</text>
<line x1="544.80" y1="1401.90" x2="544.80" y2="1409.30" stroke="#000" stroke-width="3" stroke-linecap="butt" />
<line x1="599.59" y1="1401.90" x2="599.59" y2="1414.50" stroke="#000" stroke-width="3" stroke-linecap="butt" />
<text x="599.19" y="1449.70" font-size="33.33" text-anchor="middle" fill="#000">1600</text>
<line x1="654.37" y1="1401.90" x2="654.37" y2="1409.30" stroke="#000" stroke-width="3" stroke-linecap="butt" />
<line x1="709.16" y1="1401.90" x2="709.16" y2="1414.50" stroke="#000" stroke-width="3" stroke-linecap="butt" />
<text x="708.76" y="1449.70" font-size="33.33" text-anchor="middle" fill="#000">1800</text>
<line x1="763.94" y1="1401.90" x2="763.94" y2="1409.30" stroke="#000" stroke-width="3" stroke-linecap="butt" />
<line x1="818.73" y1="1401.90" x2="818.73" y2="1414.50" stroke="#000" stroke-width="3" stroke-linecap="butt" />
<text x="818.33" y="1449.70" font-size="33.33" text-anchor="middle" fill="#000">2000</text>
<line x1="873.51" y1="1401.90" x2="873.51" y2="1409.30" stroke="#000" stroke-width="3" stroke-linecap="butt" />
<line x1="928.30" y1="1401.90" x2="928.30" y2="1414.50" stroke="#000" stroke-width="3" stroke-linecap="butt" />
<text x="927.90" y="1449.70" font-size="33.33" text-anchor="middle" fill="#000">2200</text>
<text x="539.00" y="1507.00" font-size="33.33" text-anchor="middle" fill="#000">Raman shift (cm<tspan font-size="26.5" dy="-11">&#8722;1</tspan><tspan dy="11" font-size="1">&#8203;</tspan>)</text>
<text x="64.20" y="1122.60" font-size="33.33" text-anchor="middle" fill="#000" transform="rotate(-90 64.20 1122.60)">Intensity (arb. units)</text>
<text x="-0.80" y="841.60" font-size="40" text-anchor="start" fill="#000" font-weight="bold">b</text>
<rect x="508.3" y="844" width="412.3" height="161.2" fill="#fff" stroke="#444" stroke-width="1.3"/>
<line x1="515.70" y1="864.80" x2="590.70" y2="864.80" stroke="#000" stroke-width="2.3" stroke-linecap="butt" />
<line x1="516.50" y1="905.50" x2="590.70" y2="905.50" stroke="#6e6e6e" stroke-width="3.0" stroke-linecap="round" stroke-dasharray="0.01 5.57"/>
<line x1="515.70" y1="945.00" x2="590.70" y2="945.00" stroke="#ff0000" stroke-width="2.5" stroke-linecap="butt" />
<line x1="516.50" y1="986.30" x2="590.70" y2="986.30" stroke="#ff6a6a" stroke-width="2.8" stroke-linecap="round" stroke-dasharray="0.01 5.57"/>
<text x="607.50" y="874.70" font-size="29.17" text-anchor="start" fill="#000">35 nm NDs, 3 min</text>
<text x="607.50" y="914.60" font-size="29.17" text-anchor="start" fill="#000">35 nm NDs, 100 min</text>
<text x="607.50" y="954.40" font-size="29.17" text-anchor="start" fill="#000">150 nm NDs, 3 min</text>
<text x="607.50" y="994.00" font-size="29.17" text-anchor="start" fill="#000">150 nm NDs, 100 min</text>
<rect x="1200.5" y="1181.4" width="92.8" height="232.2" fill="#ff6b6b" stroke="#ff2a2a" stroke-width="1.3"/>
<rect x="1302.7" y="890.4" width="92.5" height="523.2" fill="#5a74ff" stroke="#2b2bff" stroke-width="1.3"/>
<rect x="1432.4" y="1200.6" width="92.4" height="213.0" fill="#ff6b6b" stroke="#ff2a2a" stroke-width="1.3"/>
<rect x="1534.5" y="921.0" width="91.3" height="492.6" fill="#5a74ff" stroke="#2b2bff" stroke-width="1.3"/>
<rect x="1663.1" y="1110.5" width="92.4" height="303.1" fill="#ff6b6b" stroke="#ff2a2a" stroke-width="1.3"/>
<rect x="1764.9" y="921.0" width="92.7" height="492.6" fill="#5a74ff" stroke="#2b2bff" stroke-width="1.3"/>
<line x1="1247.30" y1="1122.00" x2="1247.30" y2="1241.20" stroke="#000" stroke-width="3.8" stroke-linecap="butt" />
<line x1="1242.00" y1="1122.00" x2="1252.60" y2="1122.00" stroke="#000" stroke-width="3.2" stroke-linecap="round" />
<line x1="1242.00" y1="1241.20" x2="1252.60" y2="1241.20" stroke="#000" stroke-width="3.2" stroke-linecap="round" />
<line x1="1349.50" y1="879.10" x2="1349.50" y2="901.90" stroke="#000" stroke-width="3.8" stroke-linecap="butt" />
<line x1="1344.20" y1="879.10" x2="1354.80" y2="879.10" stroke="#000" stroke-width="3.2" stroke-linecap="round" />
<line x1="1344.20" y1="901.90" x2="1354.80" y2="901.90" stroke="#000" stroke-width="3.2" stroke-linecap="round" />
<line x1="1478.60" y1="1178.80" x2="1478.60" y2="1221.40" stroke="#000" stroke-width="3.8" stroke-linecap="butt" />
<line x1="1473.30" y1="1178.80" x2="1483.90" y2="1178.80" stroke="#000" stroke-width="3.2" stroke-linecap="round" />
<line x1="1473.30" y1="1221.40" x2="1483.90" y2="1221.40" stroke="#000" stroke-width="3.2" stroke-linecap="round" />
<line x1="1580.50" y1="901.00" x2="1580.50" y2="939.80" stroke="#000" stroke-width="3.8" stroke-linecap="butt" />
<line x1="1575.20" y1="901.00" x2="1585.80" y2="901.00" stroke="#000" stroke-width="3.2" stroke-linecap="round" />
<line x1="1575.20" y1="939.80" x2="1585.80" y2="939.80" stroke="#000" stroke-width="3.2" stroke-linecap="round" />
<line x1="1709.60" y1="1003.40" x2="1709.60" y2="1218.60" stroke="#000" stroke-width="3.8" stroke-linecap="butt" />
<line x1="1704.30" y1="1003.40" x2="1714.90" y2="1003.40" stroke="#000" stroke-width="3.2" stroke-linecap="round" />
<line x1="1704.30" y1="1218.60" x2="1714.90" y2="1218.60" stroke="#000" stroke-width="3.2" stroke-linecap="round" />
<line x1="1810.80" y1="907.50" x2="1810.80" y2="933.90" stroke="#000" stroke-width="3.8" stroke-linecap="butt" />
<line x1="1805.50" y1="907.50" x2="1816.10" y2="907.50" stroke="#000" stroke-width="3.2" stroke-linecap="round" />
<line x1="1805.50" y1="933.90" x2="1816.10" y2="933.90" stroke="#000" stroke-width="3.2" stroke-linecap="round" />
<line x1="1145.60" y1="855.90" x2="1912.10" y2="855.90" stroke="#000" stroke-width="2.2" stroke-linecap="butt" />
<line x1="1145.60" y1="1413.60" x2="1912.10" y2="1413.60" stroke="#000" stroke-width="2.2" stroke-linecap="butt" />
<line x1="1145.60" y1="854.80" x2="1145.60" y2="1414.70" stroke="#ff0000" stroke-width="2.2" stroke-linecap="butt" />
<line x1="1912.10" y1="854.80" x2="1912.10" y2="1414.70" stroke="#0000ff" stroke-width="2.2" stroke-linecap="butt" />
<line x1="1134.30" y1="1413.60" x2="1145.60" y2="1413.60" stroke="#ff0000" stroke-width="2.2" stroke-linecap="butt" />
<text x="1126.00" y="1424.40" font-size="33.33" text-anchor="end" fill="#000" letter-spacing="-0.3">0.0</text>
<line x1="1139.30" y1="1373.76" x2="1145.60" y2="1373.76" stroke="#ff0000" stroke-width="2.2" stroke-linecap="butt" />
<line x1="1134.30" y1="1333.92" x2="1145.60" y2="1333.92" stroke="#ff0000" stroke-width="2.2" stroke-linecap="butt" />
<text x="1126.00" y="1344.72" font-size="33.33" text-anchor="end" fill="#000" letter-spacing="-0.3">0.5</text>
<line x1="1139.30" y1="1294.09" x2="1145.60" y2="1294.09" stroke="#ff0000" stroke-width="2.2" stroke-linecap="butt" />
<line x1="1134.30" y1="1254.25" x2="1145.60" y2="1254.25" stroke="#ff0000" stroke-width="2.2" stroke-linecap="butt" />
<text x="1126.00" y="1265.05" font-size="33.33" text-anchor="end" fill="#000" letter-spacing="-0.3">1.0</text>
<line x1="1139.30" y1="1214.41" x2="1145.60" y2="1214.41" stroke="#ff0000" stroke-width="2.2" stroke-linecap="butt" />
<line x1="1134.30" y1="1174.57" x2="1145.60" y2="1174.57" stroke="#ff0000" stroke-width="2.2" stroke-linecap="butt" />
<text x="1126.00" y="1185.37" font-size="33.33" text-anchor="end" fill="#000" letter-spacing="-0.3">1.5</text>
<line x1="1139.30" y1="1134.74" x2="1145.60" y2="1134.74" stroke="#ff0000" stroke-width="2.2" stroke-linecap="butt" />
<line x1="1134.30" y1="1094.90" x2="1145.60" y2="1094.90" stroke="#ff0000" stroke-width="2.2" stroke-linecap="butt" />
<text x="1126.00" y="1105.70" font-size="33.33" text-anchor="end" fill="#000" letter-spacing="-0.3">2.0</text>
<line x1="1139.30" y1="1055.06" x2="1145.60" y2="1055.06" stroke="#ff0000" stroke-width="2.2" stroke-linecap="butt" />
<line x1="1134.30" y1="1015.22" x2="1145.60" y2="1015.22" stroke="#ff0000" stroke-width="2.2" stroke-linecap="butt" />
<text x="1126.00" y="1026.02" font-size="33.33" text-anchor="end" fill="#000" letter-spacing="-0.3">2.5</text>
<line x1="1139.30" y1="975.39" x2="1145.60" y2="975.39" stroke="#ff0000" stroke-width="2.2" stroke-linecap="butt" />
<line x1="1134.30" y1="935.55" x2="1145.60" y2="935.55" stroke="#ff0000" stroke-width="2.2" stroke-linecap="butt" />
<text x="1126.00" y="946.35" font-size="33.33" text-anchor="end" fill="#000" letter-spacing="-0.3">3.0</text>
<line x1="1139.30" y1="895.71" x2="1145.60" y2="895.71" stroke="#ff0000" stroke-width="2.2" stroke-linecap="butt" />
<line x1="1134.30" y1="855.87" x2="1145.60" y2="855.87" stroke="#ff0000" stroke-width="2.2" stroke-linecap="butt" />
<text x="1126.00" y="866.67" font-size="33.33" text-anchor="end" fill="#000" letter-spacing="-0.3">3.5</text>
<text x="1925.60" y="1424.00" font-size="33.33" text-anchor="start" fill="#000" letter-spacing="-0.3">0</text>
<line x1="1905.80" y1="1370.67" x2="1912.10" y2="1370.67" stroke="#0000ff" stroke-width="2.2" stroke-linecap="butt" />
<line x1="1900.80" y1="1327.74" x2="1912.10" y2="1327.74" stroke="#0000ff" stroke-width="2.2" stroke-linecap="butt" />
<text x="1925.60" y="1338.14" font-size="33.33" text-anchor="start" fill="#000" letter-spacing="-0.3">2</text>
<line x1="1905.80" y1="1284.81" x2="1912.10" y2="1284.81" stroke="#0000ff" stroke-width="2.2" stroke-linecap="butt" />
<line x1="1900.80" y1="1241.88" x2="1912.10" y2="1241.88" stroke="#0000ff" stroke-width="2.2" stroke-linecap="butt" />
<text x="1925.60" y="1252.28" font-size="33.33" text-anchor="start" fill="#000" letter-spacing="-0.3">4</text>
<line x1="1905.80" y1="1198.95" x2="1912.10" y2="1198.95" stroke="#0000ff" stroke-width="2.2" stroke-linecap="butt" />
<line x1="1900.80" y1="1156.02" x2="1912.10" y2="1156.02" stroke="#0000ff" stroke-width="2.2" stroke-linecap="butt" />
<text x="1925.60" y="1166.42" font-size="33.33" text-anchor="start" fill="#000" letter-spacing="-0.3">6</text>
<line x1="1905.80" y1="1113.09" x2="1912.10" y2="1113.09" stroke="#0000ff" stroke-width="2.2" stroke-linecap="butt" />
<line x1="1900.80" y1="1070.16" x2="1912.10" y2="1070.16" stroke="#0000ff" stroke-width="2.2" stroke-linecap="butt" />
<text x="1925.60" y="1080.56" font-size="33.33" text-anchor="start" fill="#000" letter-spacing="-0.3">8</text>
<line x1="1905.80" y1="1027.23" x2="1912.10" y2="1027.23" stroke="#0000ff" stroke-width="2.2" stroke-linecap="butt" />
<line x1="1900.80" y1="984.30" x2="1912.10" y2="984.30" stroke="#0000ff" stroke-width="2.2" stroke-linecap="butt" />
<text x="1925.60" y="994.70" font-size="33.33" text-anchor="start" fill="#000" letter-spacing="-0.3">10</text>
<line x1="1905.80" y1="941.37" x2="1912.10" y2="941.37" stroke="#0000ff" stroke-width="2.2" stroke-linecap="butt" />
<line x1="1900.80" y1="898.44" x2="1912.10" y2="898.44" stroke="#0000ff" stroke-width="2.2" stroke-linecap="butt" />
<text x="1925.60" y="908.84" font-size="33.33" text-anchor="start" fill="#000" letter-spacing="-0.3">12</text>
<text x="1049.00" y="1131.00" font-size="33.33" text-anchor="middle" fill="#000" transform="rotate(-90 1049.00 1131.00)">ZPL width (nm)</text>
<text x="2004.00" y="1139.00" font-size="33.33" text-anchor="middle" fill="#000" transform="rotate(-90 2004.00 1139.00)">Zero-field splitting (MHz)</text>
<text x="1020.60" y="841.70" font-size="40" text-anchor="start" fill="#000" font-weight="bold">d</text>
<text x="1300.50" y="1452.00" font-size="33.33" text-anchor="middle" fill="#000" letter-spacing="-0.3">100 nm</text>
<text x="1300.50" y="1492.10" font-size="33.33" text-anchor="middle" fill="#000" letter-spacing="-0.3">ND [e<tspan font-size="26.5" dy="-10">&#8722;</tspan><tspan dy="10" font-size="1">&#8203;</tspan>]</text>
<text x="1532.50" y="1452.00" font-size="33.33" text-anchor="middle" fill="#000" letter-spacing="-0.3">150 nm</text>
<text x="1532.50" y="1492.10" font-size="33.33" text-anchor="middle" fill="#000" letter-spacing="-0.3">ND [e<tspan font-size="26.5" dy="-10">&#8722;</tspan><tspan dy="10" font-size="1">&#8203;</tspan>]</text>
<text x="1764.40" y="1452.00" font-size="33.33" text-anchor="middle" fill="#000" letter-spacing="-0.3">150 nm</text>
<text x="1764.40" y="1492.10" font-size="33.33" text-anchor="middle" fill="#000" letter-spacing="-0.3">ND [n-&#945;]</text>
<clipPath id="ce"><rect x="711.6" y="1577.4" width="751.6999999999999" height="556.0"/></clipPath>
<rect x="711.6" y="1577.4" width="751.6999999999999" height="553.0" fill="none" stroke="#000" stroke-width="3"/>
<line x1="774.90" y1="1643.20" x2="774.90" y2="2130.40" stroke="#000" stroke-width="2.1" stroke-linecap="butt" stroke-dasharray="10 9.95"/>
<line x1="907.20" y1="1643.20" x2="907.20" y2="2130.40" stroke="#000" stroke-width="2.1" stroke-linecap="butt" stroke-dasharray="10 9.95"/>
<polyline points="712.1,2129.9 713.0,2130.4 713.8,2128.0 714.7,2126.3 715.5,2124.6 716.4,2122.5 717.2,2121.2 718.1,2120.1 718.9,2118.7 719.8,2117.2 720.6,2115.2 721.5,2113.7 722.3,2111.8 723.2,2111.5 724.1,2107.9 724.9,2106.3 725.8,2105.9 726.6,2104.0 727.5,2102.5 728.3,2101.1 729.2,2099.7 730.0,2098.2 730.9,2097.0 731.7,2094.9 732.6,2093.4 733.4,2091.6 734.3,2090.6 735.1,2088.6 736.0,2087.2 736.8,2085.7 737.7,2085.4 738.6,2083.7 739.4,2082.6 740.3,2082.0 741.1,2081.7 742.0,2080.9 742.8,2079.9 743.7,2078.4 744.5,2076.8 745.4,2076.1 746.2,2074.5 747.1,2072.0 747.9,2069.9 748.8,2068.2 749.6,2065.8 750.5,2063.2 751.3,2060.3 752.2,2058.6 753.1,2055.7 753.9,2051.9 754.8,2049.3 755.6,2044.7 756.5,2040.0 757.3,2035.5 758.2,2031.1 759.0,2025.6 759.9,2020.4 760.7,2014.5 761.6,2009.4 762.4,2002.5 763.3,1997.6 764.1,1990.2 765.0,1982.9 765.8,1974.5 766.7,1965.8 767.6,1950.9 768.4,1938.6 769.3,1929.7 770.1,1921.6 771.0,1914.4 771.8,1906.6 772.7,1902.4 773.5,1897.8 774.4,1895.3 775.2,1895.6 776.1,1897.1 776.9,1897.7 777.8,1898.8 778.6,1899.9 779.5,1900.5 780.3,1902.4 781.2,1902.5 782.1,1902.0 782.9,1903.6 783.8,1902.6 784.6,1901.9 785.5,1901.6 786.3,1899.9 787.2,1898.6 788.0,1896.7 788.9,1893.6 789.7,1891.2 790.6,1888.8 791.4,1885.9 792.3,1883.3 793.1,1879.8 794.0,1876.3 794.8,1873.2 795.7,1869.5 796.6,1867.3 797.4,1864.5 798.3,1861.8 799.1,1859.4 800.0,1856.6 800.8,1856.1 801.7,1856.0 802.5,1855.2 803.4,1854.5 804.2,1854.1 805.1,1852.6 805.9,1852.4 806.8,1849.6 807.6,1847.6 808.5,1846.5 809.4,1844.6 810.2,1843.6 811.1,1842.3 811.9,1841.9 812.8,1840.6 813.6,1840.7 814.5,1839.6 815.3,1837.8 816.2,1836.7 817.0,1836.2 817.9,1835.5 818.7,1833.6 819.6,1834.0 820.4,1832.1 821.3,1829.9 822.1,1828.3 823.0,1827.3 823.9,1825.9 824.7,1822.4 825.6,1821.3 826.4,1820.2 827.3,1818.3 828.1,1816.7 829.0,1817.5 829.8,1815.0 830.7,1814.5 831.5,1815.3 832.4,1813.4 833.2,1814.2 834.1,1812.3 834.9,1812.2 835.8,1810.9 836.6,1811.9 837.5,1811.1 838.4,1810.1 839.2,1810.4 840.1,1809.9 840.9,1809.1 841.8,1808.2 842.6,1807.8 843.5,1805.9 844.3,1804.6 845.2,1803.4 846.0,1801.1 846.9,1800.6 847.7,1798.4 848.6,1797.9 849.4,1795.9 850.3,1795.8 851.1,1793.3 852.0,1792.1 852.9,1790.8 853.7,1789.4 854.6,1787.8 855.4,1786.5 856.3,1785.8 857.1,1783.5 858.0,1782.1 858.8,1780.6 859.7,1779.4 860.5,1777.5 861.4,1775.6 862.2,1774.7 863.1,1773.4 863.9,1771.2 864.8,1770.0 865.6,1768.7 866.5,1767.2 867.4,1766.6 868.2,1765.1 869.1,1763.2 869.9,1762.5 870.8,1760.8 871.6,1759.1 872.5,1757.6 873.3,1756.5 874.2,1754.5 875.0,1753.8 875.9,1752.2 876.7,1750.9 877.6,1750.0 878.4,1748.9 879.3,1748.8 880.1,1747.9 881.0,1746.7 881.9,1745.4 882.7,1744.0 883.6,1744.5 884.4,1742.9 885.3,1742.6 886.1,1741.5 887.0,1740.3 887.8,1738.8 888.7,1737.9 889.5,1736.2 890.4,1736.0 891.2,1733.7 892.1,1732.1 892.9,1730.8 893.8,1728.2 894.7,1725.7 895.5,1722.4 896.4,1718.3 897.2,1714.5 898.1,1708.2 898.9,1704.6 899.8,1697.7 900.6,1692.3 901.5,1685.8 902.3,1681.6 903.2,1679.3 904.0,1672.7 904.9,1666.6 905.7,1665.3 906.6,1663.1 907.4,1663.2 908.3,1664.9 909.2,1666.8 910.0,1670.5 910.9,1672.5 911.7,1674.0 912.6,1675.8 913.4,1675.9 914.3,1678.1 915.1,1679.0 916.0,1678.9 916.8,1680.3 917.7,1680.2 918.5,1681.1 919.4,1680.0 920.2,1680.0 921.1,1678.3 921.9,1678.0 922.8,1675.7 923.7,1674.6 924.5,1673.0 925.4,1671.7 926.2,1670.4 927.1,1669.9 927.9,1669.4 928.8,1667.0 929.6,1666.4 930.5,1665.0 931.3,1663.4 932.2,1663.3 933.0,1661.4 933.9,1660.0 934.7,1658.6 935.6,1656.2 936.4,1654.5 937.3,1652.8 938.2,1650.8 939.0,1647.9 939.9,1646.5 940.7,1644.0 941.6,1642.0 942.4,1641.0 943.3,1638.3 944.1,1635.6 945.0,1633.5 945.8,1631.7 946.7,1630.4 947.5,1629.1 948.4,1628.6 949.2,1627.5 950.1,1626.0 950.9,1625.6 951.8,1623.9 952.7,1624.1 953.5,1621.8 954.4,1621.2 955.2,1621.9 956.1,1620.5 956.9,1620.9 957.8,1621.1 958.6,1621.7 959.5,1621.5 960.3,1620.7 961.2,1622.1 962.0,1623.8 962.9,1623.0 963.7,1623.4 964.6,1622.8 965.4,1622.5 966.3,1622.0 967.2,1621.1 968.0,1619.1 968.9,1619.2 969.7,1616.5 970.6,1616.7 971.4,1616.2 972.3,1614.6 973.1,1614.1 974.0,1614.4 974.8,1613.0 975.7,1613.7 976.5,1612.6 977.4,1611.0 978.2,1610.8 979.1,1610.2 980.0,1608.0 980.8,1606.2 981.7,1604.9 982.5,1604.1 983.4,1601.9 984.2,1600.2 985.1,1599.1 985.9,1598.4 986.8,1599.0 987.6,1599.2 988.5,1599.1 989.3,1598.6 990.2,1599.9 991.0,1599.0 991.9,1601.2 992.7,1599.7 993.6,1600.6 994.5,1600.3 995.3,1600.5 996.2,1601.7 997.0,1601.6 997.9,1601.9 998.7,1602.3 999.6,1603.7 1000.4,1604.8 1001.3,1606.7 1002.1,1606.3 1003.0,1609.6 1003.8,1611.6 1004.7,1614.1 1005.5,1615.0 1006.4,1617.8 1007.2,1619.1 1008.1,1621.8 1009.0,1624.7 1009.8,1627.1 1010.7,1631.0 1011.5,1634.0 1012.4,1637.4 1013.2,1640.8 1014.1,1643.0 1014.9,1645.9 1015.8,1647.8 1016.6,1652.4 1017.5,1652.9 1018.3,1654.4 1019.2,1655.4 1020.0,1656.0 1020.9,1657.0 1021.7,1658.1 1022.6,1659.3 1023.5,1659.8 1024.3,1660.9 1025.2,1663.0 1026.0,1663.3 1026.9,1664.9 1027.7,1665.9 1028.6,1666.3 1029.4,1667.4 1030.3,1668.5 1031.1,1670.0 1032.0,1670.8 1032.8,1672.3 1033.7,1672.8 1034.5,1673.8 1035.4,1674.4 1036.2,1675.6 1037.1,1677.4 1038.0,1678.0 1038.8,1678.8 1039.7,1678.8 1040.5,1678.5 1041.4,1679.6 1042.2,1681.4 1043.1,1681.4 1043.9,1681.9 1044.8,1681.6 1045.6,1682.4 1046.5,1682.9 1047.3,1683.0 1048.2,1685.3 1049.0,1686.6 1049.9,1686.9 1050.7,1689.4 1051.6,1691.8 1052.5,1694.2 1053.3,1695.8 1054.2,1697.8 1055.0,1698.0 1055.9,1699.2 1056.7,1699.7 1057.6,1701.0 1058.4,1702.0 1059.3,1702.7 1060.1,1702.1 1061.0,1704.6 1061.8,1704.5 1062.7,1705.5 1063.5,1706.3 1064.4,1708.3 1065.3,1709.9 1066.1,1712.4 1067.0,1715.8 1067.8,1718.9 1068.7,1721.8 1069.5,1724.9 1070.4,1726.8 1071.2,1728.8 1072.1,1730.4 1072.9,1731.6 1073.8,1733.3 1074.6,1735.8 1075.5,1736.9 1076.3,1738.6 1077.2,1740.0 1078.0,1741.9 1078.9,1743.5 1079.8,1745.6 1080.6,1747.5 1081.5,1748.4 1082.3,1750.0 1083.2,1752.0 1084.0,1753.9 1084.9,1755.7 1085.7,1757.8 1086.6,1760.1 1087.4,1760.6 1088.3,1762.5 1089.1,1764.5 1090.0,1766.3 1090.8,1766.8 1091.7,1769.8 1092.5,1769.7 1093.4,1771.8 1094.3,1772.5 1095.1,1775.5 1096.0,1776.7 1096.8,1778.5 1097.7,1779.8 1098.5,1781.6 1099.4,1783.5 1100.2,1784.3 1101.1,1786.8 1101.9,1788.4 1102.8,1789.6 1103.6,1791.8 1104.5,1793.5 1105.3,1794.8 1106.2,1796.9 1107.0,1799.0 1107.9,1800.1 1108.8,1801.8 1109.6,1802.5 1110.5,1805.5 1111.3,1806.2 1112.2,1808.7 1113.0,1810.2 1113.9,1811.9 1114.7,1813.4 1115.6,1814.9 1116.4,1816.3 1117.3,1819.3 1118.1,1820.2 1119.0,1822.2 1119.8,1824.2 1120.7,1827.0 1121.5,1828.2 1122.4,1830.7 1123.3,1832.6 1124.1,1835.1 1125.0,1837.0 1125.8,1839.2 1126.7,1841.6 1127.5,1844.7 1128.4,1846.5 1129.2,1848.6 1130.1,1851.9 1130.9,1852.8 1131.8,1856.2 1132.6,1857.2 1133.5,1859.2 1134.3,1860.7 1135.2,1863.2 1136.0,1865.5 1136.9,1867.7 1137.8,1870.0 1138.6,1871.1 1139.5,1873.8 1140.3,1876.2 1141.2,1877.9 1142.0,1880.8 1142.9,1882.9 1143.7,1885.2 1144.6,1886.5 1145.4,1888.8 1146.3,1891.8 1147.1,1894.6 1148.0,1895.8 1148.8,1898.0 1149.7,1899.9 1150.6,1901.8 1151.4,1904.2 1152.3,1905.6 1153.1,1907.6 1154.0,1909.8 1154.8,1912.0 1155.7,1913.9 1156.5,1915.2 1157.4,1917.8 1158.2,1919.1 1159.1,1921.1 1159.9,1923.1 1160.8,1923.8 1161.6,1925.8 1162.5,1927.4 1163.3,1928.6 1164.2,1931.3 1165.1,1932.2 1165.9,1933.5 1166.8,1934.8 1167.6,1937.2 1168.5,1937.8 1169.3,1939.5 1170.2,1940.4 1171.0,1941.9 1171.9,1943.6 1172.7,1944.1 1173.6,1946.5 1174.4,1947.9 1175.3,1949.1 1176.1,1950.6 1177.0,1951.4 1177.8,1953.5 1178.7,1953.9 1179.6,1954.9 1180.4,1955.8 1181.3,1957.7 1182.1,1958.2 1183.0,1960.5 1183.8,1961.7 1184.7,1964.0 1185.5,1964.9 1186.4,1966.5 1187.2,1967.0 1188.1,1969.1 1188.9,1971.5 1189.8,1972.4 1190.6,1974.1 1191.5,1976.0 1192.3,1977.5 1193.2,1979.3 1194.1,1980.9 1194.9,1982.9 1195.8,1983.6 1196.6,1984.2 1197.5,1985.5 1198.3,1987.5 1199.2,1989.0 1200.0,1990.0 1200.9,1990.6 1201.7,1992.1 1202.6,1993.6 1203.4,1994.3 1204.3,1995.7 1205.1,1996.4 1206.0,1998.0 1206.8,1999.5 1207.7,1999.8 1208.6,2000.6 1209.4,2002.5 1210.3,2003.0 1211.1,2003.5 1212.0,2005.0 1212.8,2006.1 1213.7,2005.8 1214.5,2007.3 1215.4,2008.1 1216.2,2009.9 1217.1,2009.6 1217.9,2012.0 1218.8,2012.4 1219.6,2012.7 1220.5,2013.3 1221.3,2015.3 1222.2,2016.1 1223.1,2016.6 1223.9,2018.5 1224.8,2018.2 1225.6,2019.1 1226.5,2020.5 1227.3,2020.9 1228.2,2021.6 1229.0,2022.6 1229.9,2023.2 1230.7,2023.5 1231.6,2025.1 1232.4,2025.5 1233.3,2026.4 1234.1,2026.3 1235.0,2027.6 1235.9,2027.7 1236.7,2028.4 1237.6,2029.0 1238.4,2028.7 1239.3,2030.1 1240.1,2029.9 1241.0,2030.7 1241.8,2031.0 1242.7,2032.2 1243.5,2032.2 1244.4,2032.8 1245.2,2034.0 1246.1,2034.2 1246.9,2035.0 1247.8,2035.5 1248.6,2035.5 1249.5,2037.0 1250.4,2038.0 1251.2,2038.7 1252.1,2038.7 1252.9,2039.4 1253.8,2039.7 1254.6,2040.0 1255.5,2040.1 1256.3,2041.4 1257.2,2042.0 1258.0,2043.1 1258.9,2043.2 1259.7,2043.5 1260.6,2044.1 1261.4,2046.3 1262.3,2045.7 1263.1,2046.1 1264.0,2047.1 1264.9,2048.9 1265.7,2049.1 1266.6,2049.4 1267.4,2050.2 1268.3,2051.5 1269.1,2052.2 1270.0,2052.1 1270.8,2053.9 1271.7,2053.4 1272.5,2054.7 1273.4,2055.3 1274.2,2056.8 1275.1,2057.2 1275.9,2057.3 1276.8,2059.1 1277.6,2058.2 1278.5,2060.5 1279.4,2061.2 1280.2,2061.4 1281.1,2061.9 1281.9,2062.5 1282.8,2063.8 1283.6,2064.4 1284.5,2065.2 1285.3,2066.0 1286.2,2067.6 1287.0,2066.7 1287.9,2067.6 1288.7,2068.3 1289.6,2069.3 1290.4,2069.5 1291.3,2070.2 1292.1,2070.8 1293.0,2070.8 1293.9,2072.7 1294.7,2072.3 1295.6,2073.5 1296.4,2073.7 1297.3,2073.4 1298.1,2075.1 1299.0,2075.2 1299.8,2076.0 1300.7,2075.8 1301.5,2077.2 1302.4,2078.1 1303.2,2077.6 1304.1,2078.5 1304.9,2079.0 1305.8,2078.9 1306.6,2080.4 1307.5,2080.6 1308.4,2080.9 1309.2,2081.3 1310.1,2082.2 1310.9,2081.9 1311.8,2081.8 1312.6,2083.5 1313.5,2082.9 1314.3,2085.1 1315.2,2083.9 1316.0,2085.1 1316.9,2085.3 1317.7,2085.9 1318.6,2086.4 1319.4,2087.1 1320.3,2087.0 1321.2,2086.6 1322.0,2087.0 1322.9,2088.1 1323.7,2088.5 1324.6,2089.0 1325.4,2089.5 1326.3,2088.5 1327.1,2089.4 1328.0,2090.0 1328.8,2090.6 1329.7,2091.2 1330.5,2090.5 1331.4,2091.1 1332.2,2092.2 1333.1,2091.7 1333.9,2093.0 1334.8,2092.6 1335.7,2093.7 1336.5,2093.8 1337.4,2093.7 1338.2,2094.1 1339.1,2094.2 1339.9,2095.4 1340.8,2094.6 1341.6,2095.1 1342.5,2096.1 1343.3,2096.2 1344.2,2097.1 1345.0,2097.1 1345.9,2098.0 1346.7,2097.7 1347.6,2097.9 1348.4,2097.7 1349.3,2098.2 1350.2,2098.6 1351.0,2099.4 1351.9,2099.6 1352.7,2100.0 1353.6,2100.0 1354.4,2101.2 1355.3,2100.3 1356.1,2101.6 1357.0,2101.4 1357.8,2101.4 1358.7,2101.9 1359.5,2101.2 1360.4,2102.2 1361.2,2101.7 1362.1,2102.2 1362.9,2103.2 1363.8,2103.0 1364.7,2102.8 1365.5,2103.8 1366.4,2103.9 1367.2,2104.4 1368.1,2104.4 1368.9,2104.8 1369.8,2104.8 1370.6,2104.6 1371.5,2104.7 1372.3,2105.5 1373.2,2105.7 1374.0,2105.6 1374.9,2106.4 1375.7,2107.0 1376.6,2106.2 1377.4,2107.4 1378.3,2106.7 1379.2,2107.8 1380.0,2106.8 1380.9,2108.3 1381.7,2107.7 1382.6,2107.6 1383.4,2108.9 1384.3,2108.0 1385.1,2109.3 1386.0,2109.9 1386.8,2109.0 1387.7,2109.2 1388.5,2109.8 1389.4,2111.1 1390.2,2110.1 1391.1,2110.4 1391.9,2110.7 1392.8,2110.8 1393.7,2111.7 1394.5,2111.3 1395.4,2110.4 1396.2,2110.7 1397.1,2111.8 1397.9,2112.1 1398.8,2111.8 1399.6,2111.7 1400.5,2112.0 1401.3,2113.1 1402.2,2112.6 1403.0,2112.8 1403.9,2112.4 1404.7,2112.7 1405.6,2113.1 1406.5,2113.0 1407.3,2113.9 1408.2,2113.2 1409.0,2114.2 1409.9,2114.0 1410.7,2113.9 1411.6,2114.9 1412.4,2115.0 1413.3,2115.6 1414.1,2114.8 1415.0,2115.1 1415.8,2115.4 1416.7,2115.1 1417.5,2116.5 1418.4,2115.6 1419.2,2115.7 1420.1,2116.0 1421.0,2115.7 1421.8,2115.3 1422.7,2116.5 1423.5,2116.8 1424.4,2116.8 1425.2,2116.6 1426.1,2116.5 1426.9,2117.3 1427.8,2116.6 1428.6,2117.6 1429.5,2116.9 1430.3,2117.2 1431.2,2117.3 1432.0,2116.6 1432.9,2117.8 1433.7,2117.9 1434.6,2117.7 1435.5,2117.7 1436.3,2118.8 1437.2,2118.2 1438.0,2118.8 1438.9,2118.3 1439.7,2118.1 1440.6,2118.8 1441.4,2119.0 1442.3,2119.0 1443.1,2120.6 1444.0,2119.0 1444.8,2119.3 1445.7,2119.6 1446.5,2120.0 1447.4,2120.3 1448.2,2120.1 1449.1,2119.6 1450.0,2120.4 1450.8,2119.8 1451.7,2121.7 1452.5,2120.9 1453.4,2120.6 1454.2,2120.8 1455.1,2121.7 1455.9,2121.3 1456.8,2120.5 1457.6,2121.8 1458.5,2121.7 1459.3,2121.8 1460.2,2121.6 1461.0,2121.0 1461.9,2121.1 1462.7,2122.3 1463.6,2120.7" fill="none" stroke="#000" stroke-width="3.1" stroke-linejoin="round" stroke-linecap="round" clip-path="url(#ce)"/>
<polyline points="712.1,2129.9 713.0,2130.4 713.8,2128.0 714.7,2126.4 715.5,2124.7 716.4,2122.6 717.2,2121.4 718.1,2120.3 718.9,2119.0 719.8,2117.6 720.6,2115.6 721.5,2114.2 722.3,2112.4 723.2,2112.2 724.1,2108.6 724.9,2107.1 725.8,2106.7 726.6,2104.9 727.5,2103.5 728.3,2102.2 729.2,2100.9 730.0,2099.4 730.9,2098.2 731.7,2096.3 732.6,2094.8 733.4,2093.1 734.3,2092.1 735.1,2090.2 736.0,2088.8 736.8,2087.3 737.7,2087.0 738.6,2085.3 739.4,2084.2 740.3,2083.6 741.1,2083.2 742.0,2082.4 742.8,2081.4 743.7,2079.8 744.5,2078.2 745.4,2077.5 746.2,2075.8 747.1,2073.3 747.9,2071.1 748.8,2069.3 749.6,2066.9 750.5,2064.2 751.3,2061.3 752.2,2059.5 753.1,2056.6 753.9,2052.7 754.8,2050.1 755.6,2045.4 756.5,2040.7 757.3,2036.1 758.2,2031.6 759.0,2026.0 759.9,2020.8 760.7,2014.8 761.6,2009.6 762.4,2002.8 763.3,1997.8 764.1,1990.3 765.0,1983.0 765.8,1974.5 766.7,1965.8 767.6,1951.0 768.4,1938.7 769.3,1929.7 770.1,1921.6 771.0,1914.4 771.8,1906.6 772.7,1902.4 773.5,1897.8 774.4,1895.3 775.2,1895.7 776.1,1897.6 776.9,1899.0 777.8,1900.9 778.6,1902.8 779.5,1903.9 780.3,1906.0 781.2,1906.4 782.1,1906.3 782.9,1908.3 783.8,1907.7 784.6,1907.7 785.5,1908.0 786.3,1907.0 787.2,1906.3 788.0,1905.1 788.9,1902.6 789.7,1900.6 790.6,1898.4 791.4,1895.6 792.3,1892.9 793.1,1889.3 794.0,1885.6 794.8,1882.4 795.7,1878.5 796.6,1876.1 797.4,1873.1 798.3,1870.3 799.1,1867.9 800.0,1865.1 800.8,1864.6 801.7,1864.6 802.5,1863.9 803.4,1863.2 804.2,1862.9 805.1,1861.5 805.9,1861.4 806.8,1858.7 807.6,1856.7 808.5,1855.7 809.4,1853.8 810.2,1852.8 811.1,1851.5 811.9,1851.0 812.8,1849.7 813.6,1849.8 814.5,1848.5 815.3,1846.6 816.2,1845.4 817.0,1844.9 817.9,1844.1 818.7,1842.1 819.6,1842.5 820.4,1840.6 821.3,1838.4 822.1,1836.8 823.0,1835.9 823.9,1834.5 824.7,1831.2 825.6,1830.1 826.4,1829.0 827.3,1827.2 828.1,1825.7 829.0,1826.5 829.8,1824.0 830.7,1823.6 831.5,1824.3 832.4,1822.5 833.2,1823.2 834.1,1821.3 834.9,1821.3 835.8,1820.0 836.6,1820.9 837.5,1820.1 838.4,1819.2 839.2,1819.4 840.1,1818.9 840.9,1818.1 841.8,1817.2 842.6,1816.8 843.5,1814.9 844.3,1813.6 845.2,1812.4 846.0,1810.2 846.9,1809.7 847.7,1807.4 848.6,1806.9 849.4,1804.9 850.3,1804.8 851.1,1802.4 852.0,1801.1 852.9,1799.8 853.7,1798.4 854.6,1796.8 855.4,1795.5 856.3,1794.8 857.1,1792.6 858.0,1791.1 858.8,1789.6 859.7,1788.4 860.5,1786.5 861.4,1784.7 862.2,1783.7 863.1,1782.5 863.9,1780.2 864.8,1779.0 865.6,1777.7 866.5,1776.2 867.4,1775.6 868.2,1774.2 869.1,1772.2 869.9,1771.7 870.8,1770.2 871.6,1768.7 872.5,1767.4 873.3,1766.4 874.2,1764.6 875.0,1763.9 875.9,1762.2 876.7,1760.9 877.6,1759.9 878.4,1758.7 879.3,1758.5 880.1,1757.5 881.0,1756.2 881.9,1754.7 882.7,1753.3 883.6,1753.7 884.4,1752.0 885.3,1751.6 886.1,1750.6 887.0,1749.3 887.8,1747.8 888.7,1746.9 889.5,1745.1 890.4,1744.8 891.2,1742.4 892.1,1740.7 892.9,1739.2 893.8,1736.8 894.7,1734.9 895.5,1732.6 896.4,1729.4 897.2,1726.5 898.1,1721.1 898.9,1718.3 899.8,1712.3 900.6,1707.6 901.5,1701.7 902.3,1695.3 903.2,1689.4 904.0,1680.3 904.9,1674.6 905.7,1674.0 906.6,1672.1 907.4,1672.3 908.3,1674.4 909.2,1677.3 910.0,1682.1 910.9,1684.9 911.7,1686.5 912.6,1688.0 913.4,1687.6 914.3,1689.4 915.1,1689.8 916.0,1689.3 916.8,1690.3 917.7,1690.0 918.5,1690.7 919.4,1689.5 920.2,1689.4 921.1,1687.7 921.9,1687.4 922.8,1685.0 923.7,1683.9 924.5,1682.3 925.4,1681.0 926.2,1679.6 927.1,1679.0 927.9,1678.3 928.8,1675.7 929.6,1674.8 930.5,1673.1 931.3,1671.3 932.2,1670.9 933.0,1668.8 933.9,1667.1 934.7,1665.6 935.6,1663.1 936.4,1661.2 937.3,1659.4 938.2,1657.2 939.0,1654.1 939.9,1652.5 940.7,1649.6 941.6,1647.3 942.4,1645.8 943.3,1642.7 944.1,1639.7 945.0,1637.2 945.8,1635.1 946.7,1633.4 947.5,1631.8 948.4,1631.0 949.2,1629.6 950.1,1627.9 950.9,1627.2 951.8,1625.3 952.7,1625.3 953.5,1622.9 954.4,1622.2 955.2,1622.7 956.1,1621.2 956.9,1621.4 957.8,1621.5 958.6,1622.0 959.5,1621.8 960.3,1621.0 961.2,1622.5 962.0,1624.2 962.9,1623.3 963.7,1623.8 964.6,1623.2 965.4,1622.9 966.3,1622.5 967.2,1621.6 968.0,1619.7 968.9,1619.8 969.7,1617.1 970.6,1617.3 971.4,1616.8 972.3,1615.3 973.1,1614.8 974.0,1615.1 974.8,1613.7 975.7,1614.4 976.5,1613.4 977.4,1611.8 978.2,1611.6 979.1,1611.1 980.0,1608.8 980.8,1607.0 981.7,1605.8 982.5,1605.0 983.4,1602.8 984.2,1601.1 985.1,1600.0 985.9,1599.0 986.8,1599.9 987.6,1600.1 988.5,1600.1 989.3,1599.6 990.2,1600.8 991.0,1600.0 991.9,1602.2 992.7,1600.7 993.6,1601.7 994.5,1601.4 995.3,1601.6 996.2,1602.8 997.0,1602.7 997.9,1603.0 998.7,1603.4 999.6,1604.9 1000.4,1606.0 1001.3,1607.9 1002.1,1607.5 1003.0,1610.8 1003.8,1612.8 1004.7,1615.4 1005.5,1616.3 1006.4,1619.1 1007.2,1620.5 1008.1,1623.1 1009.0,1626.1 1009.8,1628.4 1010.7,1632.4 1011.5,1635.4 1012.4,1638.8 1013.2,1642.2 1014.1,1644.4 1014.9,1647.3 1015.8,1649.2 1016.6,1653.8 1017.5,1654.4 1018.3,1655.9 1019.2,1656.9 1020.0,1657.5 1020.9,1658.5 1021.7,1659.6 1022.6,1660.8 1023.5,1661.3 1024.3,1662.4 1025.2,1664.5 1026.0,1664.8 1026.9,1666.5 1027.7,1667.4 1028.6,1667.9 1029.4,1669.0 1030.3,1670.0 1031.1,1671.6 1032.0,1672.4 1032.8,1673.9 1033.7,1674.4 1034.5,1675.4 1035.4,1676.0 1036.2,1677.2 1037.1,1679.0 1038.0,1679.6 1038.8,1680.4 1039.7,1680.4 1040.5,1680.1 1041.4,1681.1 1042.2,1683.0 1043.1,1683.0 1043.9,1683.5 1044.8,1683.2 1045.6,1684.0 1046.5,1684.5 1047.3,1684.6 1048.2,1686.9 1049.0,1688.2 1049.9,1688.5 1050.7,1691.0 1051.6,1693.4 1052.5,1695.8 1053.3,1697.4 1054.2,1699.4 1055.0,1699.6 1055.9,1700.8 1056.7,1701.2 1057.6,1702.6 1058.4,1703.6 1059.3,1704.3 1060.1,1703.7 1061.0,1706.2 1061.8,1706.0 1062.7,1707.1 1063.5,1707.9 1064.4,1709.9 1065.3,1711.5 1066.1,1714.0 1067.0,1717.3 1067.8,1720.5 1068.7,1723.4 1069.5,1726.5 1070.4,1728.4 1071.2,1730.4 1072.1,1732.0 1072.9,1733.2 1073.8,1734.9 1074.6,1737.4 1075.5,1738.5 1076.3,1740.2 1077.2,1741.6 1078.0,1743.5 1078.9,1745.1 1079.8,1747.2 1080.6,1749.1 1081.5,1750.0 1082.3,1751.6 1083.2,1753.6 1084.0,1755.5 1084.9,1757.3 1085.7,1759.4 1086.6,1761.7 1087.4,1762.2 1088.3,1764.1 1089.1,1766.1 1090.0,1767.9 1090.8,1768.4 1091.7,1771.4 1092.5,1771.3 1093.4,1773.4 1094.3,1774.1 1095.1,1777.1 1096.0,1778.3 1096.8,1780.1 1097.7,1781.4 1098.5,1783.2 1099.4,1785.1 1100.2,1785.9 1101.1,1788.4 1101.9,1790.0 1102.8,1791.2 1103.6,1793.4 1104.5,1795.1 1105.3,1796.4 1106.2,1798.4 1107.0,1800.6 1107.9,1801.7 1108.8,1803.4 1109.6,1804.1 1110.5,1807.1 1111.3,1807.8 1112.2,1810.3 1113.0,1811.8 1113.9,1813.5 1114.7,1815.0 1115.6,1816.5 1116.4,1817.9 1117.3,1820.9 1118.1,1821.8 1119.0,1823.8 1119.8,1825.8 1120.7,1828.5 1121.5,1829.7 1122.4,1832.3 1123.3,1834.1 1124.1,1836.7 1125.0,1838.6 1125.8,1840.8 1126.7,1843.2 1127.5,1846.3 1128.4,1848.1 1129.2,1850.2 1130.1,1853.5 1130.9,1854.4 1131.8,1857.7 1132.6,1858.8 1133.5,1860.7 1134.3,1862.3 1135.2,1864.8 1136.0,1867.1 1136.9,1869.3 1137.8,1871.5 1138.6,1872.7 1139.5,1875.4 1140.3,1877.8 1141.2,1879.5 1142.0,1882.4 1142.9,1884.5 1143.7,1886.8 1144.6,1888.1 1145.4,1890.4 1146.3,1893.4 1147.1,1896.2 1148.0,1897.4 1148.8,1899.6 1149.7,1901.5 1150.6,1903.4 1151.4,1905.8 1152.3,1907.2 1153.1,1909.2 1154.0,1911.4 1154.8,1913.6 1155.7,1915.5 1156.5,1916.8 1157.4,1919.4 1158.2,1920.7 1159.1,1922.7 1159.9,1924.7 1160.8,1925.4 1161.6,1927.4 1162.5,1929.0 1163.3,1930.2 1164.2,1932.9 1165.1,1933.8 1165.9,1935.1 1166.8,1936.4 1167.6,1938.8 1168.5,1939.4 1169.3,1941.1 1170.2,1942.0 1171.0,1943.5 1171.9,1945.2 1172.7,1945.7 1173.6,1948.0 1174.4,1949.5 1175.3,1950.7 1176.1,1952.2 1177.0,1953.0 1177.8,1955.1 1178.7,1955.4 1179.6,1956.4 1180.4,1957.4 1181.3,1959.3 1182.1,1959.7 1183.0,1962.0 1183.8,1963.2 1184.7,1965.4 1185.5,1966.4 1186.4,1968.0 1187.2,1968.5 1188.1,1970.6 1188.9,1973.0 1189.8,1973.8 1190.6,1975.5 1191.5,1977.5 1192.3,1978.9 1193.2,1980.7 1194.1,1982.3 1194.9,1984.3 1195.8,1984.9 1196.6,1985.6 1197.5,1986.8 1198.3,1988.9 1199.2,1990.3 1200.0,1991.3 1200.9,1991.9 1201.7,1993.3 1202.6,1994.9 1203.4,1995.6 1204.3,1996.9 1205.1,1997.7 1206.0,1999.2 1206.8,2000.7 1207.7,2001.0 1208.6,2001.7 1209.4,2003.6 1210.3,2004.1 1211.1,2004.6 1212.0,2006.2 1212.8,2007.2 1213.7,2006.9 1214.5,2008.4 1215.4,2009.2 1216.2,2011.0 1217.1,2010.7 1217.9,2013.1 1218.8,2013.4 1219.6,2013.7 1220.5,2014.3 1221.3,2016.3 1222.2,2017.0 1223.1,2017.5 1223.9,2019.4 1224.8,2019.1 1225.6,2020.0 1226.5,2021.3 1227.3,2021.7 1228.2,2022.4 1229.0,2023.4 1229.9,2024.1 1230.7,2024.3 1231.6,2025.9 1232.4,2026.3 1233.3,2027.2 1234.1,2027.1 1235.0,2028.3 1235.9,2028.4 1236.7,2029.1 1237.6,2029.7 1238.4,2029.4 1239.3,2030.8 1240.1,2030.6 1241.0,2031.3 1241.8,2031.6 1242.7,2032.8 1243.5,2032.8 1244.4,2033.4 1245.2,2034.6 1246.1,2034.8 1246.9,2035.5 1247.8,2036.1 1248.6,2036.0 1249.5,2037.5 1250.4,2038.6 1251.2,2039.2 1252.1,2039.2 1252.9,2039.9 1253.8,2040.1 1254.6,2040.5 1255.5,2040.6 1256.3,2041.8 1257.2,2042.4 1258.0,2043.6 1258.9,2043.6 1259.7,2043.9 1260.6,2044.5 1261.4,2046.7 1262.3,2046.1 1263.1,2046.4 1264.0,2047.4 1264.9,2049.2 1265.7,2049.4 1266.6,2049.7 1267.4,2050.4 1268.3,2051.7 1269.1,2052.5 1270.0,2052.3 1270.8,2054.1 1271.7,2053.6 1272.5,2054.9 1273.4,2055.5 1274.2,2057.0 1275.1,2057.4 1275.9,2057.5 1276.8,2059.2 1277.6,2058.3 1278.5,2060.6 1279.4,2061.3 1280.2,2061.4 1281.1,2062.0 1281.9,2062.6 1282.8,2063.8 1283.6,2064.4 1284.5,2065.2 1285.3,2066.0 1286.2,2067.6 1287.0,2066.6 1287.9,2067.6 1288.7,2068.2 1289.6,2069.2 1290.4,2069.4 1291.3,2070.1 1292.1,2070.7 1293.0,2070.7 1293.9,2072.5 1294.7,2072.2 1295.6,2073.3 1296.4,2073.5 1297.3,2073.2 1298.1,2074.9 1299.0,2075.0 1299.8,2075.7 1300.7,2075.5 1301.5,2076.9 1302.4,2077.8 1303.2,2077.3 1304.1,2078.2 1304.9,2078.7 1305.8,2078.6 1306.6,2080.0 1307.5,2080.3 1308.4,2080.5 1309.2,2080.9 1310.1,2081.8 1310.9,2081.6 1311.8,2081.4 1312.6,2083.1 1313.5,2082.5 1314.3,2084.7 1315.2,2083.5 1316.0,2084.7 1316.9,2084.8 1317.7,2085.4 1318.6,2085.9 1319.4,2086.6 1320.3,2086.6 1321.2,2086.1 1322.0,2086.6 1322.9,2087.6 1323.7,2088.0 1324.6,2088.5 1325.4,2089.0 1326.3,2088.0 1327.1,2088.9 1328.0,2089.5 1328.8,2090.1 1329.7,2090.7 1330.5,2090.0 1331.4,2090.6 1332.2,2091.7 1333.1,2091.2 1333.9,2092.5 1334.8,2092.1 1335.7,2093.2 1336.5,2093.3 1337.4,2093.2 1338.2,2093.6 1339.1,2093.7 1339.9,2094.9 1340.8,2094.1 1341.6,2094.6 1342.5,2095.5 1343.3,2095.6 1344.2,2096.5 1345.0,2096.6 1345.9,2097.5 1346.7,2097.1 1347.6,2097.4 1348.4,2097.2 1349.3,2097.7 1350.2,2098.0 1351.0,2098.9 1351.9,2099.1 1352.7,2099.4 1353.6,2099.4 1354.4,2100.7 1355.3,2099.7 1356.1,2101.1 1357.0,2100.9 1357.8,2100.9 1358.7,2101.4 1359.5,2100.6 1360.4,2101.7 1361.2,2101.2 1362.1,2101.6 1362.9,2102.6 1363.8,2102.5 1364.7,2102.3 1365.5,2103.3 1366.4,2103.4 1367.2,2103.9 1368.1,2103.8 1368.9,2104.3 1369.8,2104.3 1370.6,2104.1 1371.5,2104.2 1372.3,2105.0 1373.2,2105.2 1374.0,2105.1 1374.9,2105.9 1375.7,2106.4 1376.6,2105.7 1377.4,2106.8 1378.3,2106.2 1379.2,2107.3 1380.0,2106.2 1380.9,2107.8 1381.7,2107.1 1382.6,2107.0 1383.4,2108.4 1384.3,2107.5 1385.1,2108.7 1386.0,2109.4 1386.8,2108.4 1387.7,2108.7 1388.5,2109.3 1389.4,2110.5 1390.2,2109.6 1391.1,2109.9 1391.9,2110.1 1392.8,2110.3 1393.7,2111.2 1394.5,2110.8 1395.4,2109.9 1396.2,2110.2 1397.1,2111.3 1397.9,2111.6 1398.8,2111.3 1399.6,2111.1 1400.5,2111.5 1401.3,2112.5 1402.2,2112.1 1403.0,2112.3 1403.9,2111.8 1404.7,2112.1 1405.6,2112.6 1406.5,2112.4 1407.3,2113.3 1408.2,2112.6 1409.0,2113.7 1409.9,2113.5 1410.7,2113.4 1411.6,2114.4 1412.4,2114.4 1413.3,2115.1 1414.1,2114.3 1415.0,2114.6 1415.8,2114.8 1416.7,2114.6 1417.5,2115.9 1418.4,2115.1 1419.2,2115.2 1420.1,2115.5 1421.0,2115.1 1421.8,2114.8 1422.7,2116.0 1423.5,2116.3 1424.4,2116.3 1425.2,2116.1 1426.1,2116.0 1426.9,2116.8 1427.8,2116.0 1428.6,2117.1 1429.5,2116.4 1430.3,2116.7 1431.2,2116.8 1432.0,2116.1 1432.9,2117.3 1433.7,2117.4 1434.6,2117.2 1435.5,2117.1 1436.3,2118.3 1437.2,2117.7 1438.0,2118.3 1438.9,2117.8 1439.7,2117.6 1440.6,2118.3 1441.4,2118.5 1442.3,2118.5 1443.1,2120.1 1444.0,2118.5 1444.8,2118.7 1445.7,2119.1 1446.5,2119.5 1447.4,2119.7 1448.2,2119.6 1449.1,2119.1 1450.0,2119.8 1450.8,2119.3 1451.7,2121.2 1452.5,2120.3 1453.4,2120.1 1454.2,2120.3 1455.1,2121.2 1455.9,2120.8 1456.8,2120.0 1457.6,2121.2 1458.5,2121.1 1459.3,2121.2 1460.2,2121.0 1461.0,2120.5 1461.9,2120.6 1462.7,2121.8 1463.6,2120.2" fill="none" stroke="#ff8000" stroke-width="2.9" stroke-linejoin="round" stroke-linecap="round" clip-path="url(#ce)"/>
<polyline points="712.1,2129.9 713.0,2130.4 713.8,2128.0 714.7,2126.4 715.5,2124.7 716.4,2122.6 717.2,2121.4 718.1,2120.3 718.9,2119.0 719.8,2117.6 720.6,2115.6 721.5,2114.2 722.3,2112.4 723.2,2112.2 724.1,2108.6 724.9,2107.1 725.8,2106.7 726.6,2104.9 727.5,2103.5 728.3,2102.2 729.2,2100.9 730.0,2099.4 730.9,2098.2 731.7,2096.3 732.6,2094.8 733.4,2093.1 734.3,2092.1 735.1,2090.2 736.0,2088.8 736.8,2087.3 737.7,2087.0 738.6,2085.3 739.4,2084.2 740.3,2083.6 741.1,2083.2 742.0,2082.4 742.8,2081.4 743.7,2079.8 744.5,2078.2 745.4,2077.5 746.2,2075.8 747.1,2073.3 747.9,2071.1 748.8,2069.3 749.6,2066.9 750.5,2064.2 751.3,2061.3 752.2,2059.5 753.1,2056.6 753.9,2052.7 754.8,2050.1 755.6,2045.4 756.5,2040.7 757.3,2036.1 758.2,2031.6 759.0,2026.0 759.9,2020.8 760.7,2014.8 761.6,2009.6 762.4,2002.8 763.3,1997.8 764.1,1990.3 765.0,1983.0 765.8,1974.5 766.7,1965.8 767.6,1951.0 768.4,1938.7 769.3,1929.7 770.1,1921.6 771.0,1914.4 771.8,1906.6 772.7,1902.4 773.5,1897.8 774.4,1895.3 775.2,1895.7 776.1,1897.8 776.9,1899.7 777.8,1902.2 778.6,1904.8 779.5,1906.6 780.3,1909.5 781.2,1910.6 782.1,1911.1 782.9,1913.7 783.8,1913.4 784.6,1913.5 785.5,1913.9 786.3,1912.9 787.2,1912.3 788.0,1911.1 788.9,1908.7 789.7,1906.7 790.6,1904.6 791.4,1901.8 792.3,1899.1 793.1,1895.5 794.0,1891.9 794.8,1888.7 795.7,1884.8 796.6,1882.4 797.4,1879.5 798.3,1876.6 799.1,1874.3 800.0,1871.5 800.8,1871.1 801.7,1871.1 802.5,1870.4 803.4,1869.8 804.2,1869.5 805.1,1868.1 805.9,1868.0 806.8,1865.3 807.6,1863.4 808.5,1862.3 809.4,1860.5 810.2,1859.5 811.1,1858.2 811.9,1857.8 812.8,1856.5 813.6,1856.5 814.5,1855.3 815.3,1853.4 816.2,1852.3 817.0,1851.7 817.9,1850.9 818.7,1849.0 819.6,1849.4 820.4,1847.5 821.3,1845.3 822.1,1843.7 823.0,1842.8 823.9,1841.4 824.7,1838.1 825.6,1837.0 826.4,1835.9 827.3,1834.1 828.1,1832.6 829.0,1833.4 829.8,1830.9 830.7,1830.5 831.5,1831.2 832.4,1829.4 833.2,1830.1 834.1,1828.2 834.9,1828.2 835.8,1826.9 836.6,1827.8 837.5,1827.0 838.4,1826.1 839.2,1826.3 840.1,1825.8 840.9,1825.0 841.8,1824.1 842.6,1823.7 843.5,1821.8 844.3,1820.5 845.2,1819.3 846.0,1817.1 846.9,1816.6 847.7,1814.3 848.6,1813.8 849.4,1811.8 850.3,1811.7 851.1,1809.3 852.0,1808.0 852.9,1806.7 853.7,1805.3 854.6,1803.7 855.4,1802.4 856.3,1801.7 857.1,1799.5 858.0,1798.0 858.8,1796.5 859.7,1795.3 860.5,1793.4 861.4,1791.6 862.2,1790.6 863.1,1789.4 863.9,1787.1 864.8,1785.9 865.6,1784.6 866.5,1783.1 867.4,1782.5 868.2,1781.1 869.1,1779.1 869.9,1778.6 870.8,1777.1 871.6,1775.6 872.5,1774.3 873.3,1773.3 874.2,1771.5 875.0,1770.8 875.9,1769.1 876.7,1767.8 877.6,1766.8 878.4,1765.6 879.3,1765.4 880.1,1764.4 881.0,1763.1 881.9,1761.6 882.7,1760.2 883.6,1760.6 884.4,1758.9 885.3,1758.5 886.1,1757.5 887.0,1756.2 887.8,1754.7 888.7,1753.8 889.5,1752.2 890.4,1751.9 891.2,1749.6 892.1,1748.1 892.9,1746.7 893.8,1744.5 894.7,1742.8 895.5,1740.6 896.4,1737.6 897.2,1734.8 898.1,1729.5 898.9,1726.7 899.8,1720.8 900.6,1716.1 901.5,1709.6 902.3,1702.3 903.2,1695.3 904.0,1685.0 904.9,1678.3 905.7,1677.0 906.6,1674.8 907.4,1675.0 908.3,1677.3 909.2,1680.4 910.0,1685.4 910.9,1688.5 911.7,1690.5 912.6,1692.3 913.4,1692.2 914.3,1694.3 915.1,1695.0 916.0,1694.7 916.8,1696.0 917.7,1695.7 918.5,1696.5 919.4,1695.4 920.2,1695.2 921.1,1693.5 921.9,1693.1 922.8,1690.8 923.7,1689.6 924.5,1688.0 925.4,1686.6 926.2,1685.2 927.1,1684.5 927.9,1683.8 928.8,1681.1 929.6,1680.1 930.5,1678.4 931.3,1676.4 932.2,1676.0 933.0,1673.7 933.9,1671.8 934.7,1670.1 935.6,1667.4 936.4,1665.3 937.3,1663.3 938.2,1660.9 939.0,1657.6 939.9,1655.8 940.7,1652.7 941.6,1650.2 942.4,1648.5 943.3,1645.3 944.1,1642.1 945.0,1639.5 945.8,1637.3 946.7,1635.5 947.5,1633.8 948.4,1632.9 949.2,1631.4 950.1,1629.5 950.9,1628.7 951.8,1626.7 952.7,1626.6 953.5,1624.1 954.4,1623.4 955.2,1623.8 956.1,1622.2 956.9,1622.4 957.8,1622.4 958.6,1622.9 959.5,1622.6 960.3,1621.7 961.2,1623.1 962.0,1624.8 962.9,1623.9 963.7,1624.2 964.6,1623.6 965.4,1623.3 966.3,1622.8 967.2,1621.8 968.0,1619.8 968.9,1619.9 969.7,1617.1 970.6,1617.3 971.4,1616.7 972.3,1615.2 973.1,1614.7 974.0,1614.9 974.8,1613.4 975.7,1614.1 976.5,1613.0 977.4,1611.3 978.2,1611.2 979.1,1610.5 980.0,1608.2 980.8,1606.4 981.7,1605.2 982.5,1604.3 983.4,1602.1 984.2,1600.4 985.1,1599.2 985.9,1598.4 986.8,1599.1 987.6,1599.3 988.5,1599.1 989.3,1598.7 990.2,1599.9 991.0,1599.0 991.9,1601.2 992.7,1599.7 993.6,1600.6 994.5,1600.3 995.3,1600.5 996.2,1601.7 997.0,1601.6 997.9,1601.9 998.7,1602.3 999.6,1603.7 1000.4,1604.8 1001.3,1606.7 1002.1,1606.3 1003.0,1609.6 1003.8,1611.6 1004.7,1614.1 1005.5,1615.0 1006.4,1617.8 1007.2,1619.1 1008.1,1621.8 1009.0,1624.7 1009.8,1627.1 1010.7,1631.0 1011.5,1634.0 1012.4,1637.4 1013.2,1640.8 1014.1,1643.0 1014.9,1645.9 1015.8,1647.8 1016.6,1652.4 1017.5,1652.9 1018.3,1654.4 1019.2,1655.4 1020.0,1656.0 1020.9,1657.0 1021.7,1658.1 1022.6,1659.3 1023.5,1659.8 1024.3,1660.9 1025.2,1663.0 1026.0,1663.3 1026.9,1664.9 1027.7,1665.9 1028.6,1666.3 1029.4,1667.4 1030.3,1668.5 1031.1,1670.0 1032.0,1670.8 1032.8,1672.3 1033.7,1672.8 1034.5,1673.8 1035.4,1674.4 1036.2,1675.6 1037.1,1677.4 1038.0,1678.0 1038.8,1678.8 1039.7,1678.8 1040.5,1678.5 1041.4,1679.6 1042.2,1681.4 1043.1,1681.4 1043.9,1681.9 1044.8,1681.6 1045.6,1682.4 1046.5,1682.9 1047.3,1683.0 1048.2,1685.3 1049.0,1686.6 1049.9,1686.9 1050.7,1689.4 1051.6,1691.8 1052.5,1694.2 1053.3,1695.8 1054.2,1697.8 1055.0,1698.0 1055.9,1699.2 1056.7,1699.7 1057.6,1701.0 1058.4,1702.0 1059.3,1702.7 1060.1,1702.1 1061.0,1704.6 1061.8,1704.5 1062.7,1705.5 1063.5,1706.3 1064.4,1708.3 1065.3,1709.9 1066.1,1712.4 1067.0,1715.8 1067.8,1718.9 1068.7,1721.8 1069.5,1724.9 1070.4,1726.8 1071.2,1728.8 1072.1,1730.4 1072.9,1731.6 1073.8,1733.3 1074.6,1735.8 1075.5,1736.9 1076.3,1738.6 1077.2,1740.0 1078.0,1741.9 1078.9,1743.5 1079.8,1745.6 1080.6,1747.5 1081.5,1748.4 1082.3,1750.0 1083.2,1752.0 1084.0,1753.9 1084.9,1755.7 1085.7,1757.8 1086.6,1760.1 1087.4,1760.6 1088.3,1762.5 1089.1,1764.5 1090.0,1766.3 1090.8,1766.8 1091.7,1769.8 1092.5,1769.7 1093.4,1771.8 1094.3,1772.5 1095.1,1775.5 1096.0,1776.7 1096.8,1778.5 1097.7,1779.8 1098.5,1781.6 1099.4,1783.5 1100.2,1784.3 1101.1,1786.8 1101.9,1788.4 1102.8,1789.6 1103.6,1791.8 1104.5,1793.5 1105.3,1794.8 1106.2,1796.9 1107.0,1799.0 1107.9,1800.1 1108.8,1801.8 1109.6,1802.5 1110.5,1805.5 1111.3,1806.2 1112.2,1808.7 1113.0,1810.2 1113.9,1811.9 1114.7,1813.4 1115.6,1814.9 1116.4,1816.3 1117.3,1819.3 1118.1,1820.2 1119.0,1822.2 1119.8,1824.2 1120.7,1827.0 1121.5,1828.2 1122.4,1830.7 1123.3,1832.6 1124.1,1835.1 1125.0,1837.0 1125.8,1839.2 1126.7,1841.6 1127.5,1844.7 1128.4,1846.5 1129.2,1848.6 1130.1,1851.9 1130.9,1852.8 1131.8,1856.2 1132.6,1857.2 1133.5,1859.2 1134.3,1860.7 1135.2,1863.2 1136.0,1865.5 1136.9,1867.7 1137.8,1870.0 1138.6,1871.1 1139.5,1873.8 1140.3,1876.2 1141.2,1877.9 1142.0,1880.8 1142.9,1882.9 1143.7,1885.2 1144.6,1886.5 1145.4,1888.8 1146.3,1891.8 1147.1,1894.6 1148.0,1895.8 1148.8,1898.0 1149.7,1899.9 1150.6,1901.8 1151.4,1904.2 1152.3,1905.6 1153.1,1907.6 1154.0,1909.8 1154.8,1912.0 1155.7,1913.9 1156.5,1915.2 1157.4,1917.8 1158.2,1919.1 1159.1,1921.1 1159.9,1923.1 1160.8,1923.8 1161.6,1925.8 1162.5,1927.4 1163.3,1928.6 1164.2,1931.3 1165.1,1932.2 1165.9,1933.5 1166.8,1934.8 1167.6,1937.2 1168.5,1937.8 1169.3,1939.5 1170.2,1940.4 1171.0,1941.9 1171.9,1943.6 1172.7,1944.1 1173.6,1946.5 1174.4,1947.9 1175.3,1949.1 1176.1,1950.6 1177.0,1951.4 1177.8,1953.5 1178.7,1953.9 1179.6,1954.9 1180.4,1955.8 1181.3,1957.7 1182.1,1958.2 1183.0,1960.5 1183.8,1961.7 1184.7,1964.0 1185.5,1964.9 1186.4,1966.5 1187.2,1967.0 1188.1,1969.1 1188.9,1971.5 1189.8,1972.4 1190.6,1974.1 1191.5,1976.0 1192.3,1977.5 1193.2,1979.3 1194.1,1980.9 1194.9,1982.9 1195.8,1983.6 1196.6,1984.2 1197.5,1985.5 1198.3,1987.5 1199.2,1989.0 1200.0,1990.0 1200.9,1990.6 1201.7,1992.1 1202.6,1993.6 1203.4,1994.3 1204.3,1995.7 1205.1,1996.4 1206.0,1998.0 1206.8,1999.5 1207.7,1999.8 1208.6,2000.6 1209.4,2002.5 1210.3,2003.0 1211.1,2003.5 1212.0,2005.0 1212.8,2006.1 1213.7,2005.8 1214.5,2007.3 1215.4,2008.1 1216.2,2009.9 1217.1,2009.6 1217.9,2012.0 1218.8,2012.4 1219.6,2012.7 1220.5,2013.3 1221.3,2015.3 1222.2,2016.1 1223.1,2016.6 1223.9,2018.5 1224.8,2018.2 1225.6,2019.1 1226.5,2020.5 1227.3,2020.9 1228.2,2021.6 1229.0,2022.6 1229.9,2023.2 1230.7,2023.5 1231.6,2025.1 1232.4,2025.5 1233.3,2026.4 1234.1,2026.3 1235.0,2027.6 1235.9,2027.7 1236.7,2028.4 1237.6,2029.0 1238.4,2028.7 1239.3,2030.1 1240.1,2029.9 1241.0,2030.7 1241.8,2031.0 1242.7,2032.2 1243.5,2032.2 1244.4,2032.8 1245.2,2034.0 1246.1,2034.2 1246.9,2035.0 1247.8,2035.5 1248.6,2035.5 1249.5,2037.0 1250.4,2038.0 1251.2,2038.7 1252.1,2038.7 1252.9,2039.4 1253.8,2039.7 1254.6,2040.0 1255.5,2040.1 1256.3,2041.4 1257.2,2042.0 1258.0,2043.1 1258.9,2043.2 1259.7,2043.5 1260.6,2044.1 1261.4,2046.3 1262.3,2045.7 1263.1,2046.1 1264.0,2047.1 1264.9,2048.9 1265.7,2049.1 1266.6,2049.4 1267.4,2050.2 1268.3,2051.5 1269.1,2052.2 1270.0,2052.1 1270.8,2053.9 1271.7,2053.4 1272.5,2054.7 1273.4,2055.3 1274.2,2056.8 1275.1,2057.2 1275.9,2057.3 1276.8,2059.1 1277.6,2058.2 1278.5,2060.5 1279.4,2061.2 1280.2,2061.4 1281.1,2061.9 1281.9,2062.5 1282.8,2063.8 1283.6,2064.4 1284.5,2065.2 1285.3,2066.0 1286.2,2067.6 1287.0,2066.7 1287.9,2067.6 1288.7,2068.3 1289.6,2069.3 1290.4,2069.5 1291.3,2070.2 1292.1,2070.8 1293.0,2070.8 1293.9,2072.7 1294.7,2072.3 1295.6,2073.5 1296.4,2073.7 1297.3,2073.4 1298.1,2075.1 1299.0,2075.2 1299.8,2076.0 1300.7,2075.8 1301.5,2077.2 1302.4,2078.1 1303.2,2077.6 1304.1,2078.5 1304.9,2079.0 1305.8,2078.9 1306.6,2080.4 1307.5,2080.6 1308.4,2080.9 1309.2,2081.3 1310.1,2082.2 1310.9,2081.9 1311.8,2081.8 1312.6,2083.5 1313.5,2082.9 1314.3,2085.1 1315.2,2083.9 1316.0,2085.1 1316.9,2085.3 1317.7,2085.9 1318.6,2086.4 1319.4,2087.1 1320.3,2087.0 1321.2,2086.6 1322.0,2087.0 1322.9,2088.1 1323.7,2088.5 1324.6,2089.0 1325.4,2089.5 1326.3,2088.5 1327.1,2089.4 1328.0,2090.0 1328.8,2090.6 1329.7,2091.2 1330.5,2090.5 1331.4,2091.1 1332.2,2092.2 1333.1,2091.7 1333.9,2093.0 1334.8,2092.6 1335.7,2093.7 1336.5,2093.8 1337.4,2093.7 1338.2,2094.1 1339.1,2094.2 1339.9,2095.4 1340.8,2094.6 1341.6,2095.1 1342.5,2096.1 1343.3,2096.2 1344.2,2097.1 1345.0,2097.1 1345.9,2098.0 1346.7,2097.7 1347.6,2097.9 1348.4,2097.7 1349.3,2098.2 1350.2,2098.6 1351.0,2099.4 1351.9,2099.6 1352.7,2100.0 1353.6,2100.0 1354.4,2101.2 1355.3,2100.3 1356.1,2101.6 1357.0,2101.4 1357.8,2101.4 1358.7,2101.9 1359.5,2101.2 1360.4,2102.2 1361.2,2101.7 1362.1,2102.2 1362.9,2103.2 1363.8,2103.0 1364.7,2102.8 1365.5,2103.8 1366.4,2103.9 1367.2,2104.4 1368.1,2104.4 1368.9,2104.8 1369.8,2104.8 1370.6,2104.6 1371.5,2104.7 1372.3,2105.5 1373.2,2105.7 1374.0,2105.6 1374.9,2106.4 1375.7,2107.0 1376.6,2106.2 1377.4,2107.4 1378.3,2106.7 1379.2,2107.8 1380.0,2106.8 1380.9,2108.3 1381.7,2107.7 1382.6,2107.6 1383.4,2108.9 1384.3,2108.0 1385.1,2109.3 1386.0,2109.9 1386.8,2109.0 1387.7,2109.2 1388.5,2109.8 1389.4,2111.1 1390.2,2110.1 1391.1,2110.4 1391.9,2110.7 1392.8,2110.8 1393.7,2111.7 1394.5,2111.3 1395.4,2110.4 1396.2,2110.7 1397.1,2111.8 1397.9,2112.1 1398.8,2111.8 1399.6,2111.7 1400.5,2112.0 1401.3,2113.1 1402.2,2112.6 1403.0,2112.8 1403.9,2112.4 1404.7,2112.7 1405.6,2113.1 1406.5,2113.0 1407.3,2113.9 1408.2,2113.2 1409.0,2114.2 1409.9,2114.0 1410.7,2113.9 1411.6,2114.9 1412.4,2115.0 1413.3,2115.6 1414.1,2114.8 1415.0,2115.1 1415.8,2115.4 1416.7,2115.1 1417.5,2116.5 1418.4,2115.6 1419.2,2115.7 1420.1,2116.0 1421.0,2115.7 1421.8,2115.3 1422.7,2116.5 1423.5,2116.8 1424.4,2116.8 1425.2,2116.6 1426.1,2116.5 1426.9,2117.3 1427.8,2116.6 1428.6,2117.6 1429.5,2116.9 1430.3,2117.2 1431.2,2117.3 1432.0,2116.6 1432.9,2117.8 1433.7,2117.9 1434.6,2117.7 1435.5,2117.7 1436.3,2118.8 1437.2,2118.2 1438.0,2118.8 1438.9,2118.3 1439.7,2118.1 1440.6,2118.8 1441.4,2119.0 1442.3,2119.0 1443.1,2120.6 1444.0,2119.0 1444.8,2119.3 1445.7,2119.6 1446.5,2120.0 1447.4,2120.3 1448.2,2120.1 1449.1,2119.6 1450.0,2120.4 1450.8,2119.8 1451.7,2121.7 1452.5,2120.9 1453.4,2120.6 1454.2,2120.8 1455.1,2121.7 1455.9,2121.3 1456.8,2120.5 1457.6,2121.8 1458.5,2121.7 1459.3,2121.8 1460.2,2121.6 1461.0,2121.0 1461.9,2121.1 1462.7,2122.3 1463.6,2120.7" fill="none" stroke="#0000ff" stroke-width="3.1" stroke-linejoin="round" stroke-linecap="round" clip-path="url(#ce)"/>
<polyline points="712.1,2130.4 713.0,2130.3 713.8,2128.4 714.7,2127.8 715.5,2126.8 716.4,2124.9 717.2,2123.5 718.1,2122.3 718.9,2120.9 719.8,2119.2 720.6,2118.3 721.5,2118.0 722.3,2115.0 723.2,2115.7 724.1,2114.3 724.9,2113.5 725.8,2112.4 726.6,2112.2 727.5,2111.1 728.3,2109.7 729.2,2110.0 730.0,2110.0 730.9,2108.9 731.7,2109.0 732.6,2108.5 733.4,2107.9 734.3,2107.6 735.1,2107.6 736.0,2106.8 736.8,2106.9 737.7,2107.1 738.6,2105.7 739.4,2105.9 740.3,2104.8 741.1,2105.2 742.0,2104.2 742.8,2103.9 743.7,2104.8 744.5,2103.8 745.4,2103.2 746.2,2101.5 747.1,2102.6 747.9,2100.8 748.8,2100.2 749.6,2099.9 750.5,2099.1 751.3,2098.9 752.2,2097.8 753.1,2096.6 753.9,2095.3 754.8,2093.8 755.6,2092.8 756.5,2091.5 757.3,2089.9 758.2,2087.8 759.0,2087.0 759.9,2084.9 760.7,2082.4 761.6,2080.3 762.4,2077.8 763.3,2076.2 764.1,2072.1 765.0,2068.6 765.8,2064.1 766.7,2059.9 767.6,2052.5 768.4,2046.5 769.3,2041.3 770.1,2036.5 771.0,2033.8 771.8,2032.8 772.7,2030.7 773.5,2030.8 774.4,2031.4 775.2,2031.0 776.1,2032.9 776.9,2034.3 777.8,2036.6 778.6,2039.3 779.5,2039.8 780.3,2041.1 781.2,2041.4 782.1,2042.5 782.9,2043.3 783.8,2042.5 784.6,2043.2 785.5,2042.9 786.3,2042.5 787.2,2042.1 788.0,2041.2 788.9,2041.6 789.7,2040.4 790.6,2039.3 791.4,2038.2 792.3,2036.4 793.1,2034.3 794.0,2032.6 794.8,2031.3 795.7,2029.8 796.6,2028.7 797.4,2027.6 798.3,2026.0 799.1,2025.6 800.0,2025.0 800.8,2024.0 801.7,2024.1 802.5,2023.3 803.4,2023.1 804.2,2022.8 805.1,2022.3 805.9,2022.3 806.8,2021.8 807.6,2022.1 808.5,2020.9 809.4,2021.0 810.2,2020.0 811.1,2021.1 811.9,2019.8 812.8,2018.9 813.6,2019.7 814.5,2018.2 815.3,2017.4 816.2,2016.8 817.0,2016.7 817.9,2014.9 818.7,2013.9 819.6,2013.4 820.4,2011.5 821.3,2010.8 822.1,2009.7 823.0,2009.0 823.9,2007.8 824.7,2007.2 825.6,2006.0 826.4,2005.5 827.3,2005.3 828.1,2004.5 829.0,2003.3 829.8,2003.3 830.7,2002.3 831.5,2001.7 832.4,2001.5 833.2,2002.1 834.1,2000.5 834.9,2000.1 835.8,1999.7 836.6,1999.8 837.5,1998.5 838.4,1998.7 839.2,1998.5 840.1,1998.1 840.9,1997.1 841.8,1997.2 842.6,1996.5 843.5,1994.4 844.3,1993.9 845.2,1993.1 846.0,1992.1 846.9,1991.5 847.7,1991.5 848.6,1989.2 849.4,1988.1 850.3,1987.4 851.1,1987.3 852.0,1984.7 852.9,1983.4 853.7,1983.0 854.6,1981.5 855.4,1979.9 856.3,1979.1 857.1,1977.3 858.0,1976.5 858.8,1974.9 859.7,1973.8 860.5,1973.2 861.4,1971.6 862.2,1968.3 863.1,1968.3 863.9,1966.4 864.8,1965.0 865.6,1963.2 866.5,1962.2 867.4,1961.0 868.2,1959.0 869.1,1958.2 869.9,1955.7 870.8,1953.6 871.6,1953.6 872.5,1951.2 873.3,1949.8 874.2,1948.6 875.0,1948.8 875.9,1948.0 876.7,1947.8 877.6,1946.7 878.4,1945.1 879.3,1943.4 880.1,1943.7 881.0,1941.1 881.9,1939.9 882.7,1938.6 883.6,1935.5 884.4,1935.8 885.3,1932.8 886.1,1930.8 887.0,1928.2 887.8,1926.7 888.7,1924.8 889.5,1924.0 890.4,1921.8 891.2,1919.6 892.1,1917.7 892.9,1915.2 893.8,1912.3 894.7,1908.5 895.5,1904.2 896.4,1897.0 897.2,1888.1 898.1,1880.1 898.9,1871.6 899.8,1865.0 900.6,1859.1 901.5,1852.9 902.3,1846.9 903.2,1838.2 904.0,1830.4 904.9,1825.4 905.7,1821.8 906.6,1818.7 907.4,1816.2 908.3,1818.4 909.2,1820.9 910.0,1822.1 910.9,1824.8 911.7,1826.6 912.6,1828.4 913.4,1829.7 914.3,1830.4 915.1,1830.0 916.0,1829.9 916.8,1829.3 917.7,1829.6 918.5,1828.8 919.4,1828.4 920.2,1826.7 921.1,1824.9 921.9,1822.7 922.8,1818.8 923.7,1814.5 924.5,1812.2 925.4,1810.5 926.2,1807.2 927.1,1804.0 927.9,1801.4 928.8,1798.2 929.6,1794.7 930.5,1791.9 931.3,1789.0 932.2,1784.4 933.0,1780.9 933.9,1776.7 934.7,1772.8 935.6,1768.9 936.4,1764.6 937.3,1760.0 938.2,1756.1 939.0,1752.5 939.9,1746.4 940.7,1743.1 941.6,1738.7 942.4,1734.0 943.3,1731.3 944.1,1725.4 945.0,1722.4 945.8,1717.9 946.7,1714.9 947.5,1711.3 948.4,1708.4 949.2,1705.6 950.1,1703.8 950.9,1701.2 951.8,1698.4 952.7,1695.8 953.5,1694.9 954.4,1692.7 955.2,1691.2 956.1,1689.6 956.9,1688.0 957.8,1687.9 958.6,1686.0 959.5,1685.3 960.3,1684.7 961.2,1684.3 962.0,1683.7 962.9,1683.3 963.7,1682.7 964.6,1680.3 965.4,1679.8 966.3,1679.3 967.2,1677.4 968.0,1676.3 968.9,1675.0 969.7,1672.3 970.6,1669.0 971.4,1665.7 972.3,1663.2 973.1,1660.2 974.0,1656.3 974.8,1653.2 975.7,1650.1 976.5,1646.7 977.4,1644.2 978.2,1642.0 979.1,1639.7 980.0,1637.5 980.8,1634.7 981.7,1631.9 982.5,1630.3 983.4,1626.8 984.2,1625.9 985.1,1622.2 985.9,1619.9 986.8,1616.6 987.6,1613.9 988.5,1611.4 989.3,1609.3 990.2,1608.3 991.0,1607.0 991.9,1605.0 992.7,1603.5 993.6,1602.9 994.5,1601.4 995.3,1600.3 996.2,1601.0 997.0,1599.6 997.9,1598.8 998.7,1599.9 999.6,1598.9 1000.4,1599.1 1001.3,1599.7 1002.1,1598.5 1003.0,1599.1 1003.8,1599.5 1004.7,1599.2 1005.5,1599.2 1006.4,1599.3 1007.2,1599.6 1008.1,1600.4 1009.0,1602.1 1009.8,1603.1 1010.7,1604.3 1011.5,1607.3 1012.4,1607.0 1013.2,1611.0 1014.1,1614.6 1014.9,1617.9 1015.8,1619.2 1016.6,1620.5 1017.5,1621.9 1018.3,1622.6 1019.2,1623.6 1020.0,1624.1 1020.9,1624.4 1021.7,1625.2 1022.6,1625.1 1023.5,1626.0 1024.3,1626.3 1025.2,1626.5 1026.0,1626.4 1026.9,1626.9 1027.7,1627.0 1028.6,1626.9 1029.4,1626.6 1030.3,1625.7 1031.1,1624.4 1032.0,1623.9 1032.8,1623.6 1033.7,1623.7 1034.5,1623.8 1035.4,1624.0 1036.2,1625.1 1037.1,1626.2 1038.0,1627.0 1038.8,1626.1 1039.7,1625.5 1040.5,1625.4 1041.4,1624.2 1042.2,1623.7 1043.1,1623.3 1043.9,1622.8 1044.8,1621.3 1045.6,1621.0 1046.5,1621.3 1047.3,1621.2 1048.2,1620.5 1049.0,1621.1 1049.9,1622.2 1050.7,1622.1 1051.6,1623.9 1052.5,1625.3 1053.3,1625.2 1054.2,1626.7 1055.0,1627.1 1055.9,1627.8 1056.7,1628.7 1057.6,1629.1 1058.4,1628.9 1059.3,1628.4 1060.1,1629.9 1061.0,1629.2 1061.8,1630.2 1062.7,1631.5 1063.5,1632.1 1064.4,1633.4 1065.3,1635.7 1066.1,1638.0 1067.0,1638.5 1067.8,1640.8 1068.7,1642.0 1069.5,1645.0 1070.4,1646.0 1071.2,1648.0 1072.1,1649.8 1072.9,1650.4 1073.8,1651.3 1074.6,1652.6 1075.5,1653.8 1076.3,1654.1 1077.2,1656.0 1078.0,1656.1 1078.9,1657.4 1079.8,1658.4 1080.6,1660.6 1081.5,1662.8 1082.3,1664.9 1083.2,1667.1 1084.0,1669.8 1084.9,1670.6 1085.7,1673.0 1086.6,1675.1 1087.4,1677.0 1088.3,1677.3 1089.1,1679.1 1090.0,1681.2 1090.8,1681.7 1091.7,1682.4 1092.5,1684.5 1093.4,1685.6 1094.3,1687.3 1095.1,1688.8 1096.0,1689.4 1096.8,1689.9 1097.7,1692.8 1098.5,1694.3 1099.4,1695.4 1100.2,1697.4 1101.1,1698.5 1101.9,1700.0 1102.8,1702.5 1103.6,1704.3 1104.5,1705.6 1105.3,1706.9 1106.2,1708.9 1107.0,1710.2 1107.9,1713.1 1108.8,1713.8 1109.6,1715.9 1110.5,1717.0 1111.3,1718.4 1112.2,1720.4 1113.0,1721.5 1113.9,1723.4 1114.7,1724.2 1115.6,1726.2 1116.4,1727.5 1117.3,1728.6 1118.1,1730.4 1119.0,1731.1 1119.8,1733.4 1120.7,1734.2 1121.5,1736.0 1122.4,1738.2 1123.3,1739.4 1124.1,1741.2 1125.0,1742.7 1125.8,1744.6 1126.7,1745.9 1127.5,1750.2 1128.4,1753.2 1129.2,1757.4 1130.1,1761.3 1130.9,1764.3 1131.8,1765.4 1132.6,1768.9 1133.5,1770.0 1134.3,1772.3 1135.2,1775.3 1136.0,1778.3 1136.9,1781.2 1137.8,1783.9 1138.6,1787.1 1139.5,1790.1 1140.3,1792.8 1141.2,1794.9 1142.0,1798.4 1142.9,1800.6 1143.7,1804.0 1144.6,1806.4 1145.4,1809.2 1146.3,1811.2 1147.1,1813.2 1148.0,1815.7 1148.8,1818.3 1149.7,1820.0 1150.6,1822.5 1151.4,1824.2 1152.3,1826.3 1153.1,1828.3 1154.0,1831.8 1154.8,1833.4 1155.7,1834.6 1156.5,1837.2 1157.4,1838.4 1158.2,1841.7 1159.1,1844.1 1159.9,1845.4 1160.8,1848.0 1161.6,1849.6 1162.5,1852.5 1163.3,1855.0 1164.2,1856.9 1165.1,1859.9 1165.9,1862.0 1166.8,1864.3 1167.6,1866.4 1168.5,1868.0 1169.3,1870.5 1170.2,1872.0 1171.0,1874.2 1171.9,1875.3 1172.7,1878.7 1173.6,1879.3 1174.4,1880.8 1175.3,1883.0 1176.1,1883.6 1177.0,1885.6 1177.8,1886.8 1178.7,1888.5 1179.6,1890.3 1180.4,1892.2 1181.3,1894.2 1182.1,1895.4 1183.0,1897.0 1183.8,1898.2 1184.7,1900.0 1185.5,1899.9 1186.4,1903.5 1187.2,1903.8 1188.1,1906.1 1188.9,1907.5 1189.8,1908.6 1190.6,1910.7 1191.5,1912.9 1192.3,1913.8 1193.2,1915.8 1194.1,1918.4 1194.9,1919.1 1195.8,1921.5 1196.6,1923.1 1197.5,1924.2 1198.3,1926.0 1199.2,1928.0 1200.0,1928.5 1200.9,1930.9 1201.7,1933.0 1202.6,1934.2 1203.4,1936.0 1204.3,1938.5 1205.1,1939.8 1206.0,1941.3 1206.8,1941.2 1207.7,1943.8 1208.6,1945.3 1209.4,1946.9 1210.3,1947.5 1211.1,1949.3 1212.0,1949.9 1212.8,1951.5 1213.7,1952.4 1214.5,1954.4 1215.4,1955.4 1216.2,1956.9 1217.1,1957.9 1217.9,1959.8 1218.8,1960.4 1219.6,1961.7 1220.5,1962.7 1221.3,1963.0 1222.2,1964.6 1223.1,1965.3 1223.9,1966.6 1224.8,1967.8 1225.6,1968.9 1226.5,1970.8 1227.3,1971.2 1228.2,1972.9 1229.0,1974.0 1229.9,1974.3 1230.7,1974.9 1231.6,1977.3 1232.4,1977.0 1233.3,1978.4 1234.1,1980.1 1235.0,1980.4 1235.9,1981.3 1236.7,1982.1 1237.6,1983.3 1238.4,1984.6 1239.3,1984.8 1240.1,1985.2 1241.0,1986.0 1241.8,1986.8 1242.7,1987.4 1243.5,1989.1 1244.4,1989.3 1245.2,1989.8 1246.1,1990.2 1246.9,1991.2 1247.8,1991.7 1248.6,1992.5 1249.5,1992.3 1250.4,1994.9 1251.2,1994.6 1252.1,1994.2 1252.9,1995.9 1253.8,1997.6 1254.6,1997.5 1255.5,1998.9 1256.3,1999.4 1257.2,1999.7 1258.0,1999.8 1258.9,2001.2 1259.7,2001.9 1260.6,2002.6 1261.4,2003.8 1262.3,2005.0 1263.1,2005.5 1264.0,2006.1 1264.9,2007.2 1265.7,2008.1 1266.6,2008.8 1267.4,2010.1 1268.3,2010.7 1269.1,2011.1 1270.0,2012.2 1270.8,2012.9 1271.7,2013.2 1272.5,2014.9 1273.4,2016.2 1274.2,2018.0 1275.1,2019.2 1275.9,2019.7 1276.8,2021.4 1277.6,2021.8 1278.5,2023.5 1279.4,2023.8 1280.2,2024.8 1281.1,2025.1 1281.9,2026.6 1282.8,2027.4 1283.6,2027.9 1284.5,2028.8 1285.3,2028.9 1286.2,2030.6 1287.0,2031.6 1287.9,2032.3 1288.7,2032.9 1289.6,2033.9 1290.4,2034.6 1291.3,2036.5 1292.1,2035.6 1293.0,2036.9 1293.9,2038.7 1294.7,2040.2 1295.6,2040.5 1296.4,2041.3 1297.3,2043.5 1298.1,2043.3 1299.0,2044.9 1299.8,2044.9 1300.7,2045.4 1301.5,2046.4 1302.4,2048.4 1303.2,2048.0 1304.1,2049.1 1304.9,2050.5 1305.8,2051.0 1306.6,2051.4 1307.5,2053.0 1308.4,2053.7 1309.2,2054.7 1310.1,2054.6 1310.9,2056.9 1311.8,2055.9 1312.6,2057.5 1313.5,2057.2 1314.3,2058.9 1315.2,2059.1 1316.0,2059.4 1316.9,2059.2 1317.7,2060.7 1318.6,2060.1 1319.4,2061.0 1320.3,2060.6 1321.2,2061.7 1322.0,2061.7 1322.9,2062.4 1323.7,2061.9 1324.6,2063.3 1325.4,2063.5 1326.3,2063.0 1327.1,2064.3 1328.0,2064.5 1328.8,2065.6 1329.7,2065.6 1330.5,2067.1 1331.4,2066.5 1332.2,2067.2 1333.1,2068.1 1333.9,2068.5 1334.8,2067.7 1335.7,2068.5 1336.5,2069.8 1337.4,2068.7 1338.2,2070.3 1339.1,2070.6 1339.9,2070.7 1340.8,2071.8 1341.6,2072.4 1342.5,2072.5 1343.3,2072.0 1344.2,2072.5 1345.0,2074.1 1345.9,2073.3 1346.7,2074.2 1347.6,2074.4 1348.4,2075.1 1349.3,2075.3 1350.2,2076.4 1351.0,2076.8 1351.9,2077.1 1352.7,2077.4 1353.6,2077.3 1354.4,2078.6 1355.3,2077.7 1356.1,2079.2 1357.0,2079.6 1357.8,2079.4 1358.7,2080.0 1359.5,2080.8 1360.4,2081.5 1361.2,2081.9 1362.1,2082.6 1362.9,2081.8 1363.8,2082.3 1364.7,2082.3 1365.5,2083.4 1366.4,2083.9 1367.2,2084.1 1368.1,2084.4 1368.9,2085.4 1369.8,2085.5 1370.6,2085.1 1371.5,2087.3 1372.3,2087.5 1373.2,2087.7 1374.0,2087.3 1374.9,2087.5 1375.7,2088.6 1376.6,2088.5 1377.4,2089.2 1378.3,2089.5 1379.2,2090.2 1380.0,2090.4 1380.9,2090.7 1381.7,2090.6 1382.6,2090.4 1383.4,2092.6 1384.3,2091.9 1385.1,2092.5 1386.0,2092.4 1386.8,2092.8 1387.7,2093.2 1388.5,2093.6 1389.4,2094.7 1390.2,2095.4 1391.1,2094.2 1391.9,2094.8 1392.8,2096.1 1393.7,2095.5 1394.5,2096.1 1395.4,2097.9 1396.2,2096.7 1397.1,2097.9 1397.9,2097.2 1398.8,2098.4 1399.6,2098.7 1400.5,2099.4 1401.3,2099.1 1402.2,2098.8 1403.0,2099.9 1403.9,2100.7 1404.7,2099.2 1405.6,2099.5 1406.5,2100.3 1407.3,2101.1 1408.2,2101.7 1409.0,2102.1 1409.9,2101.3 1410.7,2101.2 1411.6,2102.5 1412.4,2102.2 1413.3,2102.5 1414.1,2102.7 1415.0,2102.5 1415.8,2102.0 1416.7,2103.5 1417.5,2103.0 1418.4,2103.1 1419.2,2103.9 1420.1,2104.0 1421.0,2104.8 1421.8,2103.9 1422.7,2104.8 1423.5,2105.1 1424.4,2105.0 1425.2,2105.7 1426.1,2106.0 1426.9,2105.8 1427.8,2105.2 1428.6,2106.2 1429.5,2106.1 1430.3,2107.3 1431.2,2107.7 1432.0,2106.2 1432.9,2107.4 1433.7,2108.2 1434.6,2107.7 1435.5,2107.6 1436.3,2108.9 1437.2,2108.7 1438.0,2108.4 1438.9,2109.2 1439.7,2108.6 1440.6,2108.7 1441.4,2109.1 1442.3,2109.7 1443.1,2109.7 1444.0,2110.1 1444.8,2110.1 1445.7,2110.1 1446.5,2110.6 1447.4,2110.2 1448.2,2109.7 1449.1,2111.3 1450.0,2111.1 1450.8,2111.1 1451.7,2111.4 1452.5,2112.0 1453.4,2112.3 1454.2,2111.8 1455.1,2112.1 1455.9,2112.3 1456.8,2113.1 1457.6,2112.5 1458.5,2112.6 1459.3,2113.1 1460.2,2112.8 1461.0,2112.2 1461.9,2114.1 1462.7,2113.0 1463.6,2113.8" fill="none" stroke="#ff0000" stroke-width="3.0" stroke-linejoin="round" stroke-linecap="round" clip-path="url(#ce)"/>
<polyline points="712.1,2130.4 713.0,2130.4 713.8,2129.2 714.7,2129.6 715.5,2129.5 716.4,2128.6 717.2,2128.0 718.1,2127.5 718.9,2126.4 719.8,2124.9 720.6,2124.1 721.5,2123.8 722.3,2120.8 723.2,2121.5 724.1,2120.1 724.9,2119.4 725.8,2118.4 726.6,2118.3 727.5,2117.3 728.3,2116.0 729.2,2116.4 730.0,2116.5 730.9,2115.5 731.7,2115.7 732.6,2115.2 733.4,2114.7 734.3,2114.3 735.1,2114.4 736.0,2113.7 736.8,2113.9 737.7,2114.2 738.6,2112.9 739.4,2113.2 740.3,2112.2 741.1,2112.8 742.0,2111.9 742.8,2111.7 743.7,2112.9 744.5,2112.1 745.4,2111.7 746.2,2110.4 747.1,2111.7 747.9,2110.2 748.8,2110.0 749.6,2110.0 750.5,2109.7 751.3,2109.8 752.2,2109.0 753.1,2108.1 753.9,2107.1 754.8,2105.9 755.6,2105.3 756.5,2104.6 757.3,2103.6 758.2,2102.3 759.0,2102.4 759.9,2101.3 760.7,2100.0 761.6,2099.0 762.4,2097.6 763.3,2097.2 764.1,2094.2 765.0,2091.9 765.8,2088.8 766.7,2086.7 767.6,2081.6 768.4,2076.9 769.3,2073.3 770.1,2069.7 771.0,2067.0 771.8,2066.2 772.7,2064.2 773.5,2063.9 774.4,2064.2 775.2,2064.8 776.1,2068.2 776.9,2070.6 777.8,2071.9 778.6,2073.4 779.5,2073.8 780.3,2075.0 781.2,2075.0 782.1,2075.5 782.9,2075.8 783.8,2074.9 784.6,2075.5 785.5,2075.2 786.3,2074.7 787.2,2074.3 788.0,2073.4 788.9,2073.9 789.7,2072.8 790.6,2072.0 791.4,2071.4 792.3,2070.1 793.1,2068.6 794.0,2067.4 794.8,2066.5 795.7,2065.5 796.6,2064.9 797.4,2064.2 798.3,2063.1 799.1,2063.1 800.0,2062.8 800.8,2062.0 801.7,2062.2 802.5,2061.6 803.4,2061.5 804.2,2061.2 805.1,2060.8 805.9,2061.0 806.8,2060.6 807.6,2060.9 808.5,2059.8 809.4,2060.0 810.2,2059.1 811.1,2060.3 811.9,2059.1 812.8,2058.2 813.6,2059.1 814.5,2057.7 815.3,2057.1 816.2,2056.5 817.0,2056.6 817.9,2055.0 818.7,2054.1 819.6,2053.7 820.4,2052.0 821.3,2051.4 822.1,2050.4 823.0,2049.8 823.9,2048.6 824.7,2048.2 825.6,2047.2 826.4,2047.1 827.3,2047.2 828.1,2046.7 829.0,2045.9 829.8,2046.2 830.7,2045.6 831.5,2045.2 832.4,2045.2 833.2,2045.8 834.1,2044.3 834.9,2043.8 835.8,2043.4 836.6,2043.4 837.5,2042.0 838.4,2042.1 839.2,2041.7 840.1,2041.2 840.9,2040.1 841.8,2040.0 842.6,2039.2 843.5,2036.8 844.3,2036.0 845.2,2034.9 846.0,2033.6 846.9,2032.8 847.7,2032.8 848.6,2030.5 849.4,2029.6 850.3,2029.2 851.1,2029.5 852.0,2027.3 852.9,2026.4 853.7,2026.4 854.6,2025.1 855.4,2023.7 856.3,2022.8 857.1,2020.8 858.0,2019.7 858.8,2017.8 859.7,2016.4 860.5,2015.6 861.4,2013.8 862.2,2010.4 863.1,2010.2 863.9,2008.3 864.8,2006.9 865.6,2005.1 866.5,2004.2 867.4,2003.2 868.2,2001.4 869.1,2000.8 869.9,1998.5 870.8,1996.5 871.6,1996.5 872.5,1993.9 873.3,1992.1 874.2,1990.4 875.0,1989.9 875.9,1988.4 876.7,1987.5 877.6,1985.7 878.4,1983.5 879.3,1981.3 880.1,1981.3 881.0,1978.5 881.9,1977.2 882.7,1975.9 883.6,1972.8 884.4,1973.1 885.3,1970.0 886.1,1967.9 887.0,1965.0 887.8,1963.1 888.7,1960.8 889.5,1959.7 890.4,1957.1 891.2,1954.6 892.1,1952.5 892.9,1949.8 893.8,1947.0 894.7,1943.6 895.5,1939.9 896.4,1933.7 897.2,1928.1 898.1,1921.0 898.9,1912.0 899.8,1904.1 900.6,1895.5 901.5,1886.1 902.3,1877.8 903.2,1868.8 904.0,1860.0 904.9,1851.5 905.7,1846.7 906.6,1842.6 907.4,1840.3 908.3,1844.2 909.2,1849.2 910.0,1852.1 910.9,1855.7 911.7,1858.9 912.6,1861.5 913.4,1862.4 914.3,1862.4 915.1,1861.7 916.0,1861.4 916.8,1860.6 917.7,1860.6 918.5,1859.5 919.4,1858.8 920.2,1856.2 921.1,1853.6 921.9,1851.1 922.8,1847.1 923.7,1842.7 924.5,1840.1 925.4,1837.9 926.2,1833.9 927.1,1830.0 927.9,1826.7 928.8,1822.7 929.6,1818.5 930.5,1815.1 931.3,1811.8 932.2,1806.9 933.0,1803.1 933.9,1798.7 934.7,1794.7 935.6,1790.7 936.4,1786.3 937.3,1781.5 938.2,1777.4 939.0,1773.8 939.9,1767.6 940.7,1764.2 941.6,1759.4 942.4,1754.3 943.3,1751.0 944.1,1744.5 945.0,1740.3 945.8,1733.9 946.7,1728.5 947.5,1722.3 948.4,1716.9 949.2,1712.2 950.1,1709.4 950.9,1706.9 951.8,1704.2 952.7,1701.7 953.5,1701.1 954.4,1699.2 955.2,1698.3 956.1,1697.2 956.9,1696.2 957.8,1696.8 958.6,1695.4 959.5,1695.2 960.3,1694.9 961.2,1694.8 962.0,1694.4 962.9,1694.0 963.7,1693.5 964.6,1691.1 965.4,1690.5 966.3,1689.8 967.2,1687.6 968.0,1686.2 968.9,1684.6 969.7,1681.6 970.6,1678.1 971.4,1674.9 972.3,1673.0 973.1,1670.7 974.0,1667.4 974.8,1664.7 975.7,1661.8 976.5,1658.2 977.4,1655.1 978.2,1652.2 979.1,1649.1 980.0,1645.9 980.8,1642.1 981.7,1638.3 982.5,1635.8 983.4,1631.4 984.2,1630.1 985.1,1626.1 985.9,1623.7 986.8,1620.1 987.6,1616.9 988.5,1613.9 989.3,1611.3 990.2,1610.0 991.0,1608.4 991.9,1606.1 992.7,1604.3 993.6,1603.5 994.5,1601.7 995.3,1600.6 996.2,1601.2 997.0,1599.7 997.9,1598.9 998.7,1599.9 999.6,1598.9 1000.4,1599.1 1001.3,1599.7 1002.1,1598.5 1003.0,1599.1 1003.8,1599.5 1004.7,1599.2 1005.5,1599.2 1006.4,1599.3 1007.2,1599.6 1008.1,1600.4 1009.0,1602.1 1009.8,1603.1 1010.7,1604.3 1011.5,1607.3 1012.4,1607.0 1013.2,1611.1 1014.1,1614.8 1014.9,1618.2 1015.8,1619.3 1016.6,1620.3 1017.5,1621.3 1018.3,1621.7 1019.2,1622.4 1020.0,1622.8 1020.9,1622.9 1021.7,1623.7 1022.6,1623.6 1023.5,1624.5 1024.3,1624.9 1025.2,1625.2 1026.0,1625.2 1026.9,1625.7 1027.7,1625.9 1028.6,1625.9 1029.4,1625.8 1030.3,1625.0 1031.1,1623.9 1032.0,1623.5 1032.8,1623.4 1033.7,1623.5 1034.5,1623.7 1035.4,1623.8 1036.2,1624.7 1037.1,1625.8 1038.0,1626.6 1038.8,1625.9 1039.7,1625.3 1040.5,1625.3 1041.4,1624.2 1042.2,1623.8 1043.1,1623.5 1043.9,1623.1 1044.8,1621.6 1045.6,1621.4 1046.5,1621.7 1047.3,1621.7 1048.2,1621.0 1049.0,1621.5 1049.9,1622.6 1050.7,1622.5 1051.6,1624.2 1052.5,1625.5 1053.3,1625.4 1054.2,1626.9 1055.0,1627.3 1055.9,1628.0 1056.7,1628.9 1057.6,1629.4 1058.4,1629.3 1059.3,1628.9 1060.1,1630.4 1061.0,1629.7 1061.8,1630.8 1062.7,1632.2 1063.5,1632.7 1064.4,1634.0 1065.3,1636.3 1066.1,1638.6 1067.0,1639.2 1067.8,1641.6 1068.7,1643.0 1069.5,1646.2 1070.4,1647.5 1071.2,1649.7 1072.1,1651.6 1072.9,1652.3 1073.8,1653.2 1074.6,1654.5 1075.5,1655.7 1076.3,1655.9 1077.2,1657.9 1078.0,1657.9 1078.9,1659.2 1079.8,1660.3 1080.6,1662.4 1081.5,1664.6 1082.3,1666.7 1083.2,1669.0 1084.0,1671.7 1084.9,1672.5 1085.7,1674.8 1086.6,1677.0 1087.4,1678.9 1088.3,1679.2 1089.1,1681.0 1090.0,1683.1 1090.8,1683.6 1091.7,1684.3 1092.5,1686.4 1093.4,1687.5 1094.3,1689.3 1095.1,1690.7 1096.0,1691.4 1096.8,1691.9 1097.7,1694.7 1098.5,1696.3 1099.4,1697.3 1100.2,1699.4 1101.1,1700.4 1101.9,1702.0 1102.8,1704.5 1103.6,1706.2 1104.5,1707.5 1105.3,1708.9 1106.2,1710.9 1107.0,1712.2 1107.9,1715.1 1108.8,1715.8 1109.6,1717.8 1110.5,1719.0 1111.3,1720.4 1112.2,1722.4 1113.0,1723.5 1113.9,1725.4 1114.7,1726.2 1115.6,1728.2 1116.4,1729.5 1117.3,1730.6 1118.1,1732.5 1119.0,1733.1 1119.8,1735.4 1120.7,1736.3 1121.5,1738.1 1122.4,1740.3 1123.3,1741.4 1124.1,1743.3 1125.0,1744.8 1125.8,1746.6 1126.7,1747.9 1127.5,1752.2 1128.4,1755.2 1129.2,1759.5 1130.1,1763.3 1130.9,1766.4 1131.8,1767.5 1132.6,1771.0 1133.5,1772.1 1134.3,1774.4 1135.2,1777.3 1136.0,1780.4 1136.9,1783.3 1137.8,1786.0 1138.6,1789.1 1139.5,1792.2 1140.3,1794.9 1141.2,1797.0 1142.0,1800.5 1142.9,1802.7 1143.7,1806.1 1144.6,1808.5 1145.4,1811.3 1146.3,1813.3 1147.1,1815.3 1148.0,1817.8 1148.8,1820.4 1149.7,1822.1 1150.6,1824.6 1151.4,1826.4 1152.3,1828.5 1153.1,1830.4 1154.0,1833.9 1154.8,1835.5 1155.7,1836.7 1156.5,1839.4 1157.4,1840.5 1158.2,1843.8 1159.1,1846.2 1159.9,1847.5 1160.8,1850.1 1161.6,1851.7 1162.5,1854.6 1163.3,1857.2 1164.2,1859.0 1165.1,1862.0 1165.9,1864.2 1166.8,1866.5 1167.6,1868.5 1168.5,1870.1 1169.3,1872.6 1170.2,1874.1 1171.0,1876.3 1171.9,1877.4 1172.7,1880.9 1173.6,1881.4 1174.4,1882.9 1175.3,1885.1 1176.1,1885.8 1177.0,1887.8 1177.8,1888.9 1178.7,1890.6 1179.6,1892.4 1180.4,1894.4 1181.3,1896.3 1182.1,1897.5 1183.0,1899.1 1183.8,1900.3 1184.7,1902.1 1185.5,1902.0 1186.4,1905.6 1187.2,1905.9 1188.1,1908.2 1188.9,1909.7 1189.8,1910.7 1190.6,1912.8 1191.5,1915.0 1192.3,1916.0 1193.2,1918.0 1194.1,1920.6 1194.9,1921.3 1195.8,1923.6 1196.6,1925.2 1197.5,1926.3 1198.3,1928.1 1199.2,1930.1 1200.0,1930.6 1200.9,1933.0 1201.7,1935.1 1202.6,1936.3 1203.4,1938.1 1204.3,1940.7 1205.1,1942.0 1206.0,1943.4 1206.8,1943.4 1207.7,1945.9 1208.6,1947.4 1209.4,1949.0 1210.3,1949.7 1211.1,1951.4 1212.0,1952.0 1212.8,1953.7 1213.7,1954.5 1214.5,1956.5 1215.4,1957.5 1216.2,1959.0 1217.1,1960.1 1217.9,1961.9 1218.8,1962.5 1219.6,1963.8 1220.5,1964.8 1221.3,1965.1 1222.2,1966.7 1223.1,1967.4 1223.9,1968.8 1224.8,1969.9 1225.6,1971.0 1226.5,1972.9 1227.3,1973.4 1228.2,1975.0 1229.0,1976.2 1229.9,1976.4 1230.7,1977.0 1231.6,1979.4 1232.4,1979.1 1233.3,1980.5 1234.1,1982.2 1235.0,1982.6 1235.9,1983.4 1236.7,1984.3 1237.6,1985.4 1238.4,1986.7 1239.3,1986.9 1240.1,1987.3 1241.0,1988.1 1241.8,1989.0 1242.7,1989.5 1243.5,1991.2 1244.4,1991.4 1245.2,1991.9 1246.1,1992.3 1246.9,1993.3 1247.8,1993.8 1248.6,1994.7 1249.5,1994.4 1250.4,1997.0 1251.2,1996.7 1252.1,1996.3 1252.9,1998.0 1253.8,1999.7 1254.6,1999.6 1255.5,2001.1 1256.3,2001.5 1257.2,2001.9 1258.0,2002.0 1258.9,2003.3 1259.7,2004.0 1260.6,2004.7 1261.4,2005.9 1262.3,2007.2 1263.1,2007.6 1264.0,2008.2 1264.9,2009.3 1265.7,2010.3 1266.6,2010.9 1267.4,2012.2 1268.3,2012.8 1269.1,2013.3 1270.0,2014.3 1270.8,2015.0 1271.7,2015.4 1272.5,2017.0 1273.4,2018.3 1274.2,2020.1 1275.1,2021.3 1275.9,2021.8 1276.8,2023.5 1277.6,2023.9 1278.5,2025.6 1279.4,2025.9 1280.2,2026.9 1281.1,2027.3 1281.9,2028.7 1282.8,2029.5 1283.6,2030.0 1284.5,2030.9 1285.3,2031.0 1286.2,2032.7 1287.0,2033.7 1287.9,2034.5 1288.7,2035.0 1289.6,2036.0 1290.4,2036.7 1291.3,2038.6 1292.1,2037.8 1293.0,2039.0 1293.9,2040.8 1294.7,2042.3 1295.6,2042.6 1296.4,2043.4 1297.3,2045.6 1298.1,2045.5 1299.0,2047.1 1299.8,2047.0 1300.7,2047.5 1301.5,2048.5 1302.4,2050.5 1303.2,2050.1 1304.1,2051.2 1304.9,2052.6 1305.8,2053.1 1306.6,2053.5 1307.5,2055.1 1308.4,2055.8 1309.2,2056.8 1310.1,2056.8 1310.9,2059.0 1311.8,2058.0 1312.6,2059.7 1313.5,2059.3 1314.3,2061.0 1315.2,2061.2 1316.0,2061.5 1316.9,2061.3 1317.7,2062.8 1318.6,2062.2 1319.4,2063.2 1320.3,2062.7 1321.2,2063.8 1322.0,2063.8 1322.9,2064.5 1323.7,2064.0 1324.6,2065.4 1325.4,2065.6 1326.3,2065.1 1327.1,2066.5 1328.0,2066.6 1328.8,2067.7 1329.7,2067.7 1330.5,2069.3 1331.4,2068.6 1332.2,2069.4 1333.1,2070.2 1333.9,2070.6 1334.8,2069.8 1335.7,2070.6 1336.5,2071.9 1337.4,2070.8 1338.2,2072.4 1339.1,2072.7 1339.9,2072.8 1340.8,2073.9 1341.6,2074.6 1342.5,2074.6 1343.3,2074.1 1344.2,2074.7 1345.0,2076.2 1345.9,2075.4 1346.7,2076.3 1347.6,2076.6 1348.4,2077.2 1349.3,2077.4 1350.2,2078.5 1351.0,2078.9 1351.9,2079.2 1352.7,2079.5 1353.6,2079.5 1354.4,2080.7 1355.3,2079.9 1356.1,2081.3 1357.0,2081.7 1357.8,2081.6 1358.7,2082.1 1359.5,2082.9 1360.4,2083.7 1361.2,2084.1 1362.1,2084.8 1362.9,2083.9 1363.8,2084.4 1364.7,2084.5 1365.5,2085.5 1366.4,2086.0 1367.2,2086.2 1368.1,2086.6 1368.9,2087.5 1369.8,2087.7 1370.6,2087.2 1371.5,2089.4 1372.3,2089.7 1373.2,2089.8 1374.0,2089.4 1374.9,2089.6 1375.7,2090.7 1376.6,2090.6 1377.4,2091.4 1378.3,2091.6 1379.2,2092.3 1380.0,2092.5 1380.9,2092.8 1381.7,2092.7 1382.6,2092.5 1383.4,2094.8 1384.3,2094.1 1385.1,2094.7 1386.0,2094.6 1386.8,2094.9 1387.7,2095.4 1388.5,2095.7 1389.4,2096.9 1390.2,2097.6 1391.1,2096.4 1391.9,2096.9 1392.8,2098.3 1393.7,2097.6 1394.5,2098.2 1395.4,2100.0 1396.2,2098.8 1397.1,2100.0 1397.9,2099.3 1398.8,2100.5 1399.6,2100.9 1400.5,2101.6 1401.3,2101.2 1402.2,2101.0 1403.0,2102.0 1403.9,2102.9 1404.7,2101.3 1405.6,2101.7 1406.5,2102.4 1407.3,2103.2 1408.2,2103.8 1409.0,2104.2 1409.9,2103.4 1410.7,2103.3 1411.6,2104.6 1412.4,2104.3 1413.3,2104.6 1414.1,2104.8 1415.0,2104.7 1415.8,2104.1 1416.7,2105.6 1417.5,2105.1 1418.4,2105.2 1419.2,2106.0 1420.1,2106.2 1421.0,2106.9 1421.8,2106.0 1422.7,2107.0 1423.5,2107.2 1424.4,2107.1 1425.2,2107.8 1426.1,2108.1 1426.9,2108.0 1427.8,2107.4 1428.6,2108.4 1429.5,2108.3 1430.3,2109.4 1431.2,2109.8 1432.0,2108.3 1432.9,2109.6 1433.7,2110.3 1434.6,2109.9 1435.5,2109.8 1436.3,2111.0 1437.2,2110.9 1438.0,2110.5 1438.9,2111.3 1439.7,2110.7 1440.6,2110.8 1441.4,2111.2 1442.3,2111.8 1443.1,2111.8 1444.0,2112.3 1444.8,2112.2 1445.7,2112.2 1446.5,2112.7 1447.4,2112.3 1448.2,2111.8 1449.1,2113.4 1450.0,2113.2 1450.8,2113.2 1451.7,2113.5 1452.5,2114.1 1453.4,2114.4 1454.2,2113.9 1455.1,2114.2 1455.9,2114.4 1456.8,2115.2 1457.6,2114.7 1458.5,2114.7 1459.3,2115.2 1460.2,2114.9 1461.0,2114.3 1461.9,2116.2 1462.7,2115.1 1463.6,2115.9" fill="none" stroke="#008000" stroke-width="3.0" stroke-linejoin="round" stroke-linecap="round" clip-path="url(#ce)"/>
<line x1="700.20" y1="2130.40" x2="711.60" y2="2130.40" stroke="#000" stroke-width="3" stroke-linecap="butt" />
<text x="688.20" y="2141.40" font-size="33.33" text-anchor="end" fill="#000" letter-spacing="-0.3">0.00</text>
<line x1="704.70" y1="2064.04" x2="711.60" y2="2064.04" stroke="#000" stroke-width="3" stroke-linecap="butt" />
<line x1="700.20" y1="1997.68" x2="711.60" y2="1997.68" stroke="#000" stroke-width="3" stroke-linecap="butt" />
<text x="688.20" y="2008.68" font-size="33.33" text-anchor="end" fill="#000" letter-spacing="-0.3">0.25</text>
<line x1="704.70" y1="1931.31" x2="711.60" y2="1931.31" stroke="#000" stroke-width="3" stroke-linecap="butt" />
<line x1="700.20" y1="1864.95" x2="711.60" y2="1864.95" stroke="#000" stroke-width="3" stroke-linecap="butt" />
<text x="688.20" y="1875.95" font-size="33.33" text-anchor="end" fill="#000" letter-spacing="-0.3">0.50</text>
<line x1="704.70" y1="1798.59" x2="711.60" y2="1798.59" stroke="#000" stroke-width="3" stroke-linecap="butt" />
<line x1="700.20" y1="1732.23" x2="711.60" y2="1732.23" stroke="#000" stroke-width="3" stroke-linecap="butt" />
<text x="688.20" y="1743.23" font-size="33.33" text-anchor="end" fill="#000" letter-spacing="-0.3">0.75</text>
<line x1="704.70" y1="1665.86" x2="711.60" y2="1665.86" stroke="#000" stroke-width="3" stroke-linecap="butt" />
<line x1="700.20" y1="1599.50" x2="711.60" y2="1599.50" stroke="#000" stroke-width="3" stroke-linecap="butt" />
<text x="688.20" y="1610.50" font-size="33.33" text-anchor="end" fill="#000" letter-spacing="-0.3">1.00</text>
<line x1="716.80" y1="2130.40" x2="716.80" y2="2139.90" stroke="#000" stroke-width="3" stroke-linecap="butt" />
<text x="718.50" y="2178.90" font-size="33.33" text-anchor="middle" fill="#000">550</text>
<line x1="770.11" y1="2130.40" x2="770.11" y2="2137.90" stroke="#000" stroke-width="3" stroke-linecap="butt" />
<line x1="823.42" y1="2130.40" x2="823.42" y2="2139.90" stroke="#000" stroke-width="3" stroke-linecap="butt" />
<text x="824.73" y="2178.90" font-size="33.33" text-anchor="middle" fill="#000">600</text>
<line x1="876.74" y1="2130.40" x2="876.74" y2="2137.90" stroke="#000" stroke-width="3" stroke-linecap="butt" />
<line x1="930.05" y1="2130.40" x2="930.05" y2="2139.90" stroke="#000" stroke-width="3" stroke-linecap="butt" />
<text x="930.96" y="2178.90" font-size="33.33" text-anchor="middle" fill="#000">650</text>
<line x1="983.36" y1="2130.40" x2="983.36" y2="2137.90" stroke="#000" stroke-width="3" stroke-linecap="butt" />
<line x1="1036.67" y1="2130.40" x2="1036.67" y2="2139.90" stroke="#000" stroke-width="3" stroke-linecap="butt" />
<text x="1037.19" y="2178.90" font-size="33.33" text-anchor="middle" fill="#000">700</text>
<line x1="1089.99" y1="2130.40" x2="1089.99" y2="2137.90" stroke="#000" stroke-width="3" stroke-linecap="butt" />
<line x1="1143.30" y1="2130.40" x2="1143.30" y2="2139.90" stroke="#000" stroke-width="3" stroke-linecap="butt" />
<text x="1143.42" y="2178.90" font-size="33.33" text-anchor="middle" fill="#000">750</text>
<line x1="1196.61" y1="2130.40" x2="1196.61" y2="2137.90" stroke="#000" stroke-width="3" stroke-linecap="butt" />
<line x1="1249.92" y1="2130.40" x2="1249.92" y2="2139.90" stroke="#000" stroke-width="3" stroke-linecap="butt" />
<text x="1249.65" y="2178.90" font-size="33.33" text-anchor="middle" fill="#000">800</text>
<line x1="1303.24" y1="2130.40" x2="1303.24" y2="2137.90" stroke="#000" stroke-width="3" stroke-linecap="butt" />
<line x1="1356.55" y1="2130.40" x2="1356.55" y2="2139.90" stroke="#000" stroke-width="3" stroke-linecap="butt" />
<text x="1355.88" y="2178.90" font-size="33.33" text-anchor="middle" fill="#000">850</text>
<line x1="1409.86" y1="2130.40" x2="1409.86" y2="2137.90" stroke="#000" stroke-width="3" stroke-linecap="butt" />
<line x1="1463.17" y1="2130.40" x2="1463.17" y2="2139.90" stroke="#000" stroke-width="3" stroke-linecap="butt" />
<text x="1462.11" y="2178.90" font-size="33.33" text-anchor="middle" fill="#000">900</text>
<text x="1088.00" y="2224.00" font-size="33.33" text-anchor="middle" fill="#000">Wavelength (nm)</text>
<text x="600.00" y="1862.50" font-size="33.33" text-anchor="middle" fill="#000" transform="rotate(-90 600.00 1862.50)" letter-spacing="-0.28">Relative intensity (arb. units)</text>
<text x="571.00" y="1588.00" font-size="40" text-anchor="start" fill="#000" font-weight="bold">e</text>
<text x="754.50" y="1626.00" font-size="30.2" text-anchor="start" fill="#000">NV<tspan font-size="20.5" dy="-8.7">0</tspan><tspan dy="8.7" font-size="1">&#8203;</tspan></text>
<text x="889.00" y="1626.00" font-size="30.2" text-anchor="start" fill="#000">NV<tspan font-size="21" dy="-6.6">&#8722;</tspan><tspan dy="6.6" font-size="1">&#8203;</tspan></text>
<rect x="1171.4" y="1582.0" width="286.0" height="192.8" fill="#fff" stroke="#444" stroke-width="1.3"/>
<line x1="1183.20" y1="1603.80" x2="1222.00" y2="1603.80" stroke="#000" stroke-width="3.9" stroke-linecap="butt" />
<text x="1232.50" y="1613.10" font-size="25.2" text-anchor="start" fill="#000" letter-spacing="-0.17">35 nm NDs [n-&#945;]</text>
<line x1="1183.20" y1="1644.50" x2="1222.00" y2="1644.50" stroke="#ff8000" stroke-width="3.4" stroke-linecap="butt" />
<text x="1232.50" y="1652.40" font-size="25.2" text-anchor="start" fill="#000" letter-spacing="-0.17">35 nm NDs [p<tspan font-size="17" dy="-9">+</tspan><tspan dy="9" font-size="1">&#8203;</tspan>]</text>
<line x1="1183.20" y1="1681.80" x2="1222.00" y2="1681.80" stroke="#0000ff" stroke-width="3.4" stroke-linecap="butt" />
<text x="1232.50" y="1689.50" font-size="25.2" text-anchor="start" fill="#000" letter-spacing="-0.17">35 nm NDs [&#945;]</text>
<line x1="1183.20" y1="1718.30" x2="1222.00" y2="1718.30" stroke="#ff0000" stroke-width="3.4" stroke-linecap="butt" />
<text x="1232.50" y="1726.00" font-size="25.2" text-anchor="start" fill="#000" letter-spacing="-0.17">150 nm NDs [n-&#945;]</text>
<line x1="1183.20" y1="1755.40" x2="1222.00" y2="1755.40" stroke="#008000" stroke-width="3.4" stroke-linecap="butt" />
<text x="1232.50" y="1765.60" font-size="25.2" text-anchor="start" fill="#000" letter-spacing="-0.17">150 nm NDs [p<tspan font-size="17" dy="-9">+</tspan><tspan dy="9" font-size="1">&#8203;</tspan>]</text>
</svg>
</body></html>
